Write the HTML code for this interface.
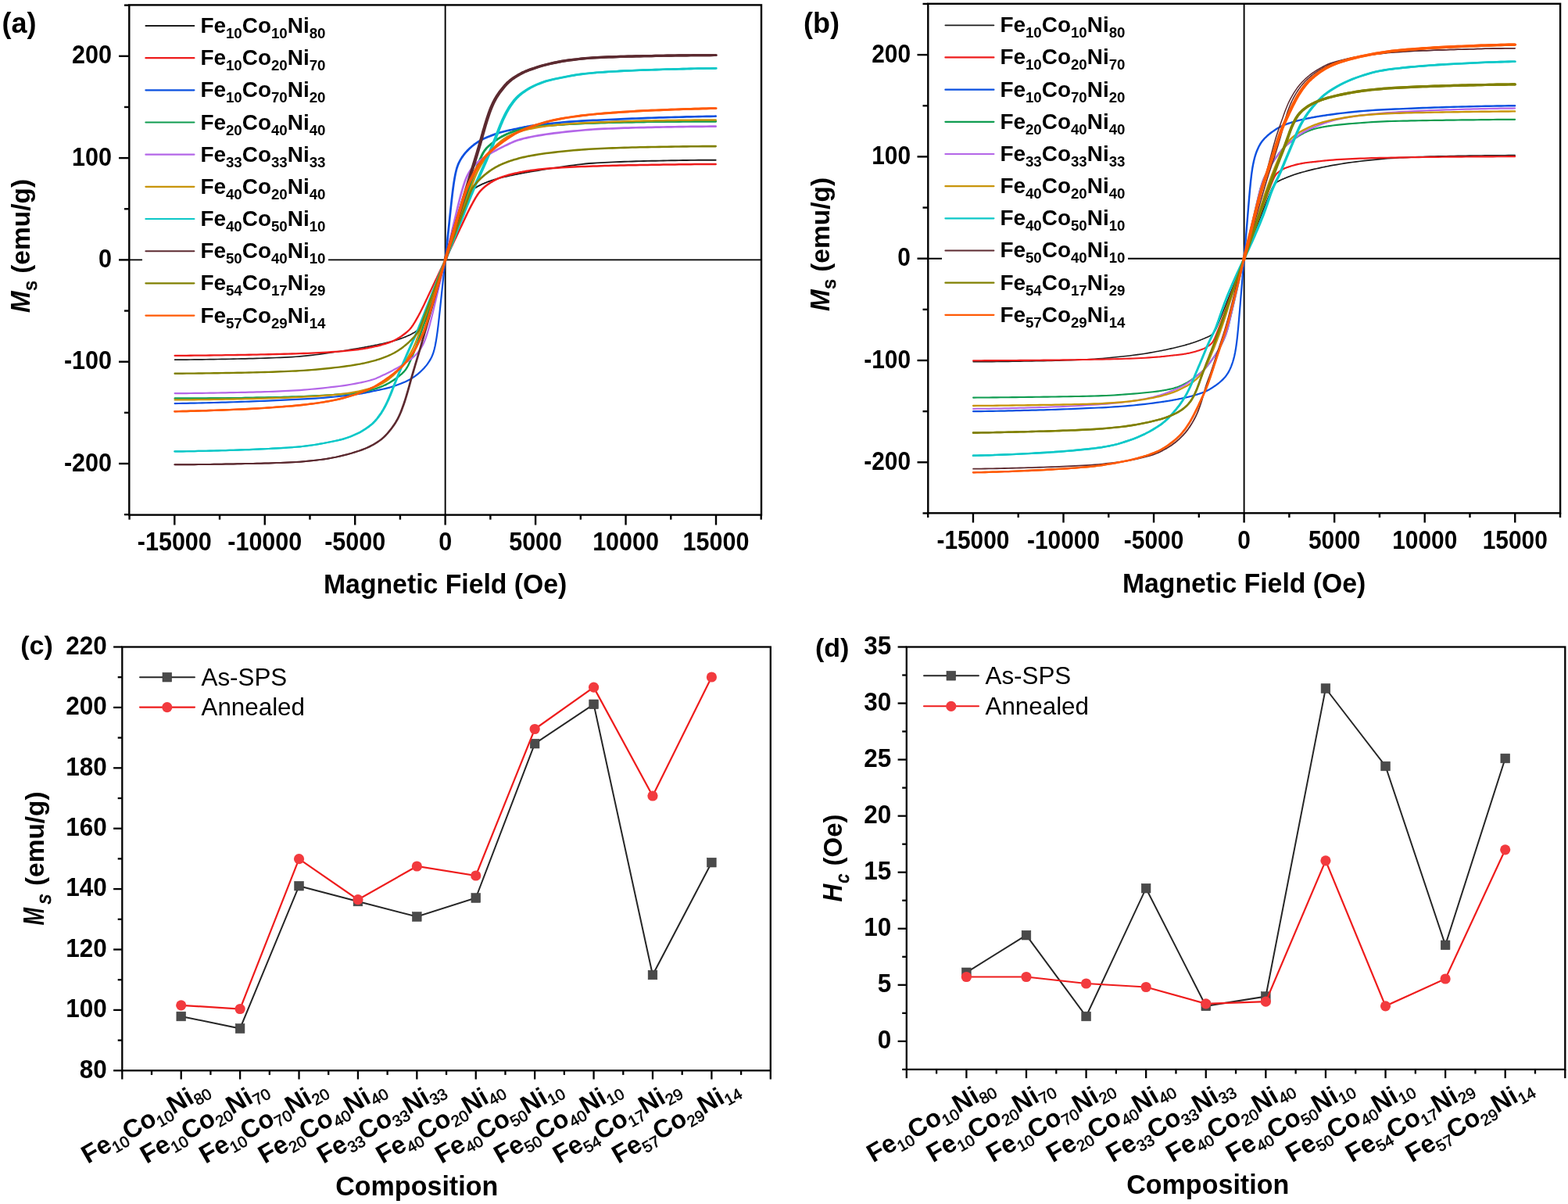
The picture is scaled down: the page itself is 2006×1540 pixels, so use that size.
<!DOCTYPE html>
<html lang="en"><head><meta charset="utf-8"><title>Magnetic properties of FeCoNi alloys</title>
<style>html,body{margin:0;padding:0;background:#fff;}body{width:2006px;height:1540px;overflow:hidden;}svg{display:block;font-family:"Liberation Sans", sans-serif;}text{fill:#000;}</style></head><body>
<svg width="2006" height="1540" viewBox="0 0 2006 1540" role="img" aria-label="Magnetic hysteresis loops, saturation magnetisation and coercivity of Fe-Co-Ni alloys">
<rect width="2006" height="1540" fill="#fff"/>
<g id="panel-a">
<line x1="569.65" y1="6.4" x2="569.65" y2="658.6" stroke="#000" stroke-width="1.9" stroke-linecap="butt"/>
<line x1="165.3" y1="332.4" x2="974" y2="332.4" stroke="#000" stroke-width="1.9" stroke-linecap="butt"/>
<g fill="none" stroke-linejoin="round" stroke-linecap="round">
<path d="M223.65,460.11 L228.65,460.09 L233.65,460.07 L238.65,460.04 L243.65,460.01 L248.65,459.96 L253.65,459.9 L258.65,459.84 L263.65,459.77 L268.65,459.69 L273.65,459.6 L278.65,459.52 L283.65,459.42 L288.65,459.33 L293.65,459.23 L298.65,459.13 L303.65,459.02 L308.65,458.92 L313.65,458.81 L318.65,458.7 L323.65,458.57 L328.65,458.43 L333.65,458.27 L338.65,458.11 L343.65,457.93 L348.65,457.73 L353.65,457.52 L358.65,457.3 L363.65,457.06 L368.65,456.81 L373.65,456.53 L378.65,456.24 L383.65,455.9 L388.65,455.46 L393.65,454.95 L398.65,454.37 L403.65,453.73 L408.65,453.05 L413.65,452.35 L418.65,451.63 L423.65,450.91 L428.65,450.2 L433.65,449.49 L438.65,448.75 L443.65,447.98 L448.65,447.18 L453.65,446.36 L458.65,445.52 L460.65,445.18 L461.65,445 L462.65,444.83 L463.65,444.65 L464.65,444.48 L465.65,444.3 L466.65,444.12 L467.65,443.94 L468.65,443.76 L469.65,443.57 L470.65,443.39 L471.65,443.2 L472.65,443.01 L473.65,442.82 L474.65,442.63 L475.65,442.43 L476.65,442.24 L477.65,442.04 L478.65,441.84 L479.65,441.64 L480.65,441.43 L481.65,441.23 L482.65,441.02 L483.65,440.81 L484.65,440.6 L485.65,440.39 L486.65,440.17 L487.65,439.96 L488.65,439.74 L489.65,439.51 L490.65,439.29 L491.65,439.06 L492.65,438.83 L493.65,438.6 L494.65,438.36 L495.65,438.12 L496.65,437.87 L497.65,437.62 L498.65,437.37 L499.65,437.11 L500.65,436.85 L501.65,436.58 L502.65,436.31 L503.65,436.03 L504.65,435.74 L505.65,435.44 L506.65,435.14 L507.65,434.83 L508.65,434.51 L509.65,434.19 L510.65,433.86 L511.65,433.52 L512.65,433.17 L513.65,432.81 L514.65,432.44 L515.65,432.07 L516.65,431.68 L517.65,431.28 L518.65,430.87 L519.65,430.45 L520.65,430.02 L521.65,429.58 L522.65,429.12 L523.65,428.65 L524.65,428.17 L525.65,427.67 L526.65,427.15 L527.65,426.61 L528.65,426.05 L529.65,425.47 L530.65,424.86 L531.65,424.22 L532.65,423.56 L533.65,422.89 L534.65,422.22 L535.65,421.53 L536.65,420.82 L537.65,420.04 L538.65,419.15 L539.65,418.12 L540.65,416.89 L541.65,415.44 L542.65,413.72 L543.65,411.74 L544.65,409.49 L545.65,406.99 L546.65,404.28 L547.65,401.4 L548.65,398.42 L549.65,395.39 L550.65,392.32 L551.65,389.23 L552.65,386.11 L553.65,382.97 L554.65,379.81 L555.65,376.63 L556.65,373.44 L557.65,370.26 L558.65,367.08 L559.65,363.92 L560.65,360.76 L561.65,357.6 L562.65,354.45 L563.65,351.3 L564.65,348.15 L565.65,345 L566.65,341.85 L567.65,338.7 L568.65,335.55 L569.65,332.4" stroke="#1c1c1c" stroke-width="1.7"/>
<path d="M569.65,332.4 L570.65,329.25 L571.65,326.1 L572.65,322.95 L573.65,319.8 L574.65,316.65 L575.65,313.5 L576.65,310.35 L577.65,307.2 L578.65,304.04 L579.65,300.88 L580.65,297.72 L581.65,294.54 L582.65,291.36 L583.65,288.17 L584.65,284.99 L585.65,281.83 L586.65,278.69 L587.65,275.57 L588.65,272.48 L589.65,269.41 L590.65,266.38 L591.65,263.4 L592.65,260.52 L593.65,257.81 L594.65,255.31 L595.65,253.06 L596.65,251.08 L597.65,249.36 L598.65,247.91 L599.65,246.68 L600.65,245.65 L601.65,244.76 L602.65,243.98 L603.65,243.27 L604.65,242.58 L605.65,241.91 L606.65,241.24 L607.65,240.58 L608.65,239.94 L609.65,239.33 L610.65,238.75 L611.65,238.19 L612.65,237.65 L613.65,237.13 L614.65,236.63 L615.65,236.15 L616.65,235.68 L617.65,235.22 L618.65,234.78 L619.65,234.35 L620.65,233.93 L621.65,233.52 L622.65,233.12 L623.65,232.73 L624.65,232.36 L625.65,231.99 L626.65,231.63 L627.65,231.28 L628.65,230.94 L629.65,230.61 L630.65,230.29 L631.65,229.97 L632.65,229.66 L633.65,229.36 L634.65,229.06 L635.65,228.77 L636.65,228.49 L637.65,228.22 L638.65,227.95 L639.65,227.69 L640.65,227.43 L641.65,227.18 L642.65,226.93 L643.65,226.68 L644.65,226.44 L645.65,226.2 L646.65,225.97 L647.65,225.74 L648.65,225.51 L649.65,225.29 L650.65,225.06 L651.65,224.84 L652.65,224.63 L653.65,224.41 L654.65,224.2 L655.65,223.99 L656.65,223.78 L657.65,223.57 L658.65,223.37 L659.65,223.16 L660.65,222.96 L661.65,222.76 L662.65,222.56 L663.65,222.37 L664.65,222.17 L665.65,221.98 L666.65,221.79 L667.65,221.6 L668.65,221.41 L669.65,221.23 L670.65,221.04 L671.65,220.86 L672.65,220.68 L673.65,220.5 L674.65,220.32 L675.65,220.15 L676.65,219.97 L677.65,219.8 L678.65,219.62 L683.65,218.77 L688.65,217.94 L693.65,217.14 L698.65,216.36 L703.65,215.6 L708.65,214.88 L713.65,214.18 L718.65,213.46 L723.65,212.74 L728.65,212.03 L733.65,211.34 L738.65,210.68 L743.65,210.08 L748.65,209.53 L753.65,209.07 L758.65,208.69 L763.65,208.38 L768.65,208.1 L773.65,207.84 L778.65,207.59 L783.65,207.36 L788.65,207.15 L793.65,206.95 L798.65,206.76 L803.65,206.59 L808.65,206.43 L813.65,206.29 L818.65,206.16 L823.65,206.03 L828.65,205.92 L833.65,205.82 L838.65,205.71 L843.65,205.61 L848.65,205.51 L853.65,205.41 L858.65,205.32 L863.65,205.23 L868.65,205.14 L873.65,205.06 L878.65,204.99 L883.65,204.92 L888.65,204.86 L893.65,204.81 L898.65,204.77 L903.65,204.74 L908.65,204.71 L913.65,204.7 L915.65,204.69" stroke="#1c1c1c" stroke-width="1.9"/>
<path d="M223.65,454.9 L228.65,454.87 L233.65,454.83 L238.65,454.8 L243.65,454.75 L248.65,454.71 L253.65,454.66 L258.65,454.6 L263.65,454.54 L268.65,454.48 L273.65,454.42 L278.65,454.35 L283.65,454.29 L288.65,454.22 L293.65,454.14 L298.65,454.07 L303.65,453.99 L308.65,453.92 L313.65,453.84 L318.65,453.75 L323.65,453.66 L328.65,453.57 L333.65,453.47 L338.65,453.37 L343.65,453.26 L348.65,453.14 L353.65,453.02 L358.65,452.9 L363.65,452.76 L368.65,452.62 L373.65,452.48 L378.65,452.32 L383.65,452.16 L388.65,451.98 L393.65,451.79 L398.65,451.58 L403.65,451.35 L408.65,451.11 L413.65,450.85 L418.65,450.57 L423.65,450.27 L428.65,449.94 L433.65,449.59 L438.65,449.18 L443.65,448.71 L448.65,448.19 L453.65,447.61 L458.65,446.99 L460.65,446.72 L461.65,446.58 L462.65,446.43 L463.65,446.28 L464.65,446.12 L465.65,445.96 L466.65,445.79 L467.65,445.62 L468.65,445.44 L469.65,445.26 L470.65,445.08 L471.65,444.89 L472.65,444.69 L473.65,444.49 L474.65,444.29 L475.65,444.09 L476.65,443.88 L477.65,443.66 L478.65,443.45 L479.65,443.23 L480.65,443 L481.65,442.77 L482.65,442.54 L483.65,442.3 L484.65,442.05 L485.65,441.8 L486.65,441.54 L487.65,441.28 L488.65,441.01 L489.65,440.73 L490.65,440.44 L491.65,440.15 L492.65,439.85 L493.65,439.54 L494.65,439.22 L495.65,438.89 L496.65,438.55 L497.65,438.2 L498.65,437.83 L499.65,437.45 L500.65,437.05 L501.65,436.63 L502.65,436.18 L503.65,435.71 L504.65,435.22 L505.65,434.71 L506.65,434.18 L507.65,433.64 L508.65,433.07 L509.65,432.49 L510.65,431.89 L511.65,431.26 L512.65,430.62 L513.65,429.94 L514.65,429.25 L515.65,428.53 L516.65,427.78 L517.65,427.02 L518.65,426.23 L519.65,425.41 L520.65,424.57 L521.65,423.68 L522.65,422.75 L523.65,421.74 L524.65,420.66 L525.65,419.48 L526.65,418.19 L527.65,416.79 L528.65,415.3 L529.65,413.74 L530.65,412.1 L531.65,410.41 L532.65,408.66 L533.65,406.88 L534.65,405.07 L535.65,403.23 L536.65,401.38 L537.65,399.49 L538.65,397.57 L539.65,395.6 L540.65,393.59 L541.65,391.52 L542.65,389.41 L543.65,387.28 L544.65,385.15 L545.65,383.02 L546.65,380.9 L547.65,378.79 L548.65,376.68 L549.65,374.58 L550.65,372.47 L551.65,370.37 L552.65,368.27 L553.65,366.17 L554.65,364.06 L555.65,361.95 L556.65,359.84 L557.65,357.74 L558.65,355.63 L559.65,353.52 L560.65,351.41 L561.65,349.3 L562.65,347.19 L563.65,345.08 L564.65,342.96 L565.65,340.85 L566.65,338.74 L567.65,336.63 L568.65,334.51 L569.65,332.4" stroke="#ee1c1c" stroke-width="2.3"/>
<path d="M569.65,332.4 L570.65,330.29 L571.65,328.17 L572.65,326.06 L573.65,323.95 L574.65,321.84 L575.65,319.72 L576.65,317.61 L577.65,315.5 L578.65,313.39 L579.65,311.28 L580.65,309.17 L581.65,307.06 L582.65,304.96 L583.65,302.85 L584.65,300.74 L585.65,298.63 L586.65,296.53 L587.65,294.43 L588.65,292.33 L589.65,290.22 L590.65,288.12 L591.65,286.01 L592.65,283.9 L593.65,281.78 L594.65,279.65 L595.65,277.52 L596.65,275.39 L597.65,273.28 L598.65,271.21 L599.65,269.2 L600.65,267.23 L601.65,265.31 L602.65,263.42 L603.65,261.57 L604.65,259.73 L605.65,257.92 L606.65,256.14 L607.65,254.39 L608.65,252.7 L609.65,251.06 L610.65,249.5 L611.65,248.01 L612.65,246.61 L613.65,245.32 L614.65,244.14 L615.65,243.06 L616.65,242.05 L617.65,241.12 L618.65,240.23 L619.65,239.39 L620.65,238.57 L621.65,237.78 L622.65,237.02 L623.65,236.27 L624.65,235.55 L625.65,234.86 L626.65,234.18 L627.65,233.54 L628.65,232.91 L629.65,232.31 L630.65,231.73 L631.65,231.16 L632.65,230.62 L633.65,230.09 L634.65,229.58 L635.65,229.09 L636.65,228.62 L637.65,228.17 L638.65,227.75 L639.65,227.35 L640.65,226.97 L641.65,226.6 L642.65,226.25 L643.65,225.91 L644.65,225.58 L645.65,225.26 L646.65,224.95 L647.65,224.65 L648.65,224.36 L649.65,224.07 L650.65,223.79 L651.65,223.52 L652.65,223.26 L653.65,223 L654.65,222.75 L655.65,222.5 L656.65,222.26 L657.65,222.03 L658.65,221.8 L659.65,221.57 L660.65,221.35 L661.65,221.14 L662.65,220.92 L663.65,220.71 L664.65,220.51 L665.65,220.31 L666.65,220.11 L667.65,219.91 L668.65,219.72 L669.65,219.54 L670.65,219.36 L671.65,219.18 L672.65,219.01 L673.65,218.84 L674.65,218.68 L675.65,218.52 L676.65,218.37 L677.65,218.22 L678.65,218.08 L683.65,217.43 L688.65,216.84 L693.65,216.3 L698.65,215.81 L703.65,215.37 L708.65,214.99 L713.65,214.66 L718.65,214.35 L723.65,214.06 L728.65,213.79 L733.65,213.54 L738.65,213.31 L743.65,213.1 L748.65,212.9 L753.65,212.71 L758.65,212.54 L763.65,212.39 L768.65,212.24 L773.65,212.09 L778.65,211.96 L783.65,211.83 L788.65,211.7 L793.65,211.59 L798.65,211.47 L803.65,211.37 L808.65,211.27 L813.65,211.17 L818.65,211.08 L823.65,211 L828.65,210.92 L833.65,210.84 L838.65,210.76 L843.65,210.69 L848.65,210.61 L853.65,210.54 L858.65,210.47 L863.65,210.41 L868.65,210.34 L873.65,210.28 L878.65,210.22 L883.65,210.16 L888.65,210.11 L893.65,210.06 L898.65,210.02 L903.65,209.98 L908.65,209.94 L913.65,209.91 L915.65,209.9" stroke="#ee1c1c" stroke-width="2.5"/>
<path d="M223.65,516.1 L228.65,516.01 L233.65,515.92 L238.65,515.83 L243.65,515.72 L248.65,515.61 L253.65,515.5 L258.65,515.38 L263.65,515.25 L268.65,515.12 L273.65,514.99 L278.65,514.85 L283.65,514.7 L288.65,514.55 L293.65,514.4 L298.65,514.25 L303.65,514.09 L308.65,513.93 L313.65,513.77 L318.65,513.59 L323.65,513.4 L328.65,513.2 L333.65,513 L338.65,512.78 L343.65,512.56 L348.65,512.34 L353.65,512.11 L358.65,511.88 L363.65,511.64 L368.65,511.41 L373.65,511.17 L378.65,510.93 L383.65,510.7 L388.65,510.47 L393.65,510.22 L398.65,509.94 L403.65,509.62 L408.65,509.27 L413.65,508.87 L418.65,508.46 L423.65,508.01 L428.65,507.53 L433.65,507.02 L438.65,506.48 L443.65,505.92 L448.65,505.34 L453.65,504.71 L458.65,504 L460.65,503.68 L461.65,503.52 L462.65,503.34 L463.65,503.16 L464.65,502.98 L465.65,502.78 L466.65,502.59 L467.65,502.39 L468.65,502.18 L469.65,501.98 L470.65,501.77 L471.65,501.56 L472.65,501.34 L473.65,501.13 L474.65,500.91 L475.65,500.7 L476.65,500.48 L477.65,500.27 L478.65,500.05 L479.65,499.84 L480.65,499.63 L481.65,499.42 L482.65,499.21 L483.65,499.01 L484.65,498.8 L485.65,498.6 L486.65,498.39 L487.65,498.18 L488.65,497.97 L489.65,497.75 L490.65,497.53 L491.65,497.31 L492.65,497.08 L493.65,496.85 L494.65,496.61 L495.65,496.36 L496.65,496.11 L497.65,495.85 L498.65,495.57 L499.65,495.29 L500.65,494.99 L501.65,494.67 L502.65,494.34 L503.65,494 L504.65,493.64 L505.65,493.28 L506.65,492.91 L507.65,492.54 L508.65,492.16 L509.65,491.79 L510.65,491.42 L511.65,491.04 L512.65,490.66 L513.65,490.28 L514.65,489.89 L515.65,489.49 L516.65,489.07 L517.65,488.64 L518.65,488.19 L519.65,487.73 L520.65,487.24 L521.65,486.74 L522.65,486.22 L523.65,485.68 L524.65,485.12 L525.65,484.53 L526.65,483.93 L527.65,483.31 L528.65,482.67 L529.65,482 L530.65,481.32 L531.65,480.6 L532.65,479.86 L533.65,479.09 L534.65,478.29 L535.65,477.45 L536.65,476.59 L537.65,475.69 L538.65,474.77 L539.65,473.8 L540.65,472.81 L541.65,471.77 L542.65,470.69 L543.65,469.56 L544.65,468.38 L545.65,467.13 L546.65,465.82 L547.65,464.43 L548.65,462.95 L549.65,461.36 L550.65,459.65 L551.65,457.78 L552.65,455.67 L553.65,453.22 L554.65,450.32 L555.65,446.8 L556.65,442.5 L557.65,437.31 L558.65,431.17 L559.65,424.06 L560.65,416.08 L561.65,407.37 L562.65,398.17 L563.65,388.7 L564.65,379.18 L565.65,369.71 L566.65,360.32 L567.65,350.99 L568.65,341.69 L569.65,332.4" stroke="#0a50e0" stroke-width="2.2"/>
<path d="M569.65,332.4 L570.65,323.11 L571.65,313.81 L572.65,304.48 L573.65,295.09 L574.65,285.62 L575.65,276.1 L576.65,266.63 L577.65,257.43 L578.65,248.72 L579.65,240.74 L580.65,233.63 L581.65,227.49 L582.65,222.3 L583.65,218 L584.65,214.48 L585.65,211.58 L586.65,209.13 L587.65,207.02 L588.65,205.15 L589.65,203.44 L590.65,201.85 L591.65,200.37 L592.65,198.98 L593.65,197.67 L594.65,196.42 L595.65,195.24 L596.65,194.11 L597.65,193.03 L598.65,191.99 L599.65,191 L600.65,190.03 L601.65,189.11 L602.65,188.21 L603.65,187.35 L604.65,186.51 L605.65,185.71 L606.65,184.94 L607.65,184.2 L608.65,183.48 L609.65,182.8 L610.65,182.13 L611.65,181.49 L612.65,180.87 L613.65,180.27 L614.65,179.68 L615.65,179.12 L616.65,178.58 L617.65,178.06 L618.65,177.56 L619.65,177.07 L620.65,176.61 L621.65,176.16 L622.65,175.73 L623.65,175.31 L624.65,174.91 L625.65,174.52 L626.65,174.14 L627.65,173.76 L628.65,173.38 L629.65,173.01 L630.65,172.64 L631.65,172.26 L632.65,171.89 L633.65,171.52 L634.65,171.16 L635.65,170.8 L636.65,170.46 L637.65,170.13 L638.65,169.81 L639.65,169.51 L640.65,169.23 L641.65,168.95 L642.65,168.69 L643.65,168.44 L644.65,168.19 L645.65,167.95 L646.65,167.72 L647.65,167.49 L648.65,167.27 L649.65,167.05 L650.65,166.83 L651.65,166.62 L652.65,166.41 L653.65,166.2 L654.65,166 L655.65,165.79 L656.65,165.59 L657.65,165.38 L658.65,165.17 L659.65,164.96 L660.65,164.75 L661.65,164.53 L662.65,164.32 L663.65,164.1 L664.65,163.89 L665.65,163.67 L666.65,163.46 L667.65,163.24 L668.65,163.03 L669.65,162.82 L670.65,162.62 L671.65,162.41 L672.65,162.21 L673.65,162.02 L674.65,161.82 L675.65,161.64 L676.65,161.46 L677.65,161.28 L678.65,161.12 L683.65,160.36 L688.65,159.71 L693.65,159.11 L698.65,158.54 L703.65,158 L708.65,157.47 L713.65,156.98 L718.65,156.52 L723.65,156.09 L728.65,155.69 L733.65,155.32 L738.65,154.98 L743.65,154.69 L748.65,154.43 L753.65,154.19 L758.65,153.96 L763.65,153.73 L768.65,153.49 L773.65,153.25 L778.65,153.02 L783.65,152.78 L788.65,152.55 L793.65,152.32 L798.65,152.1 L803.65,151.89 L808.65,151.68 L813.65,151.48 L818.65,151.28 L823.65,151.1 L828.65,150.93 L833.65,150.77 L838.65,150.61 L843.65,150.46 L848.65,150.31 L853.65,150.16 L858.65,150.01 L863.65,149.87 L868.65,149.73 L873.65,149.6 L878.65,149.47 L883.65,149.35 L888.65,149.23 L893.65,149.12 L898.65,149.02 L903.65,148.92 L908.65,148.82 L913.65,148.74 L915.65,148.7" stroke="#0a50e0" stroke-width="2.7"/>
<path d="M223.47,509.6 L228.47,509.59 L233.47,509.58 L238.47,509.56 L243.47,509.54 L248.47,509.51 L253.47,509.48 L258.47,509.44 L263.47,509.4 L268.47,509.35 L273.47,509.3 L278.47,509.25 L283.47,509.2 L288.47,509.15 L293.47,509.09 L298.47,509.03 L303.47,508.97 L308.47,508.91 L313.47,508.85 L318.47,508.78 L323.47,508.71 L328.47,508.62 L333.47,508.53 L338.47,508.44 L343.47,508.34 L348.47,508.23 L353.47,508.11 L358.47,507.99 L363.47,507.85 L368.47,507.72 L373.47,507.57 L378.47,507.42 L383.47,507.25 L388.47,507.06 L393.47,506.83 L398.47,506.59 L403.47,506.33 L408.47,506.04 L413.47,505.75 L418.47,505.44 L423.47,505.13 L428.47,504.82 L433.47,504.49 L438.47,504.13 L443.47,503.73 L448.47,503.28 L453.47,502.77 L458.47,502.18 L460.47,501.9 L461.47,501.75 L462.47,501.58 L463.47,501.4 L464.47,501.21 L465.47,501 L466.47,500.79 L467.47,500.57 L468.47,500.34 L469.47,500.1 L470.47,499.85 L471.47,499.6 L472.47,499.34 L473.47,499.07 L474.47,498.8 L475.47,498.53 L476.47,498.25 L477.47,497.97 L478.47,497.69 L479.47,497.4 L480.47,497.1 L481.47,496.79 L482.47,496.47 L483.47,496.13 L484.47,495.78 L485.47,495.41 L486.47,495.04 L487.47,494.64 L488.47,494.24 L489.47,493.82 L490.47,493.38 L491.47,492.93 L492.47,492.47 L493.47,491.99 L494.47,491.49 L495.47,490.98 L496.47,490.45 L497.47,489.89 L498.47,489.32 L499.47,488.72 L500.47,488.1 L501.47,487.46 L502.47,486.8 L503.47,486.12 L504.47,485.41 L505.47,484.69 L506.47,483.94 L507.47,483.17 L508.47,482.4 L509.47,481.62 L510.47,480.84 L511.47,480.06 L512.47,479.25 L513.47,478.41 L514.47,477.51 L515.47,476.55 L516.47,475.51 L517.47,474.38 L518.47,473.13 L519.47,471.73 L520.47,470.15 L521.47,468.38 L522.47,466.43 L523.47,464.35 L524.47,462.17 L525.47,459.92 L526.47,457.61 L527.47,455.23 L528.47,452.79 L529.47,450.28 L530.47,447.71 L531.47,445.06 L532.47,442.35 L533.47,439.59 L534.47,436.78 L535.47,433.94 L536.47,431.07 L537.47,428.19 L538.47,425.29 L539.47,422.38 L540.47,419.47 L541.47,416.53 L542.47,413.58 L543.47,410.61 L544.47,407.62 L545.47,404.62 L546.47,401.6 L547.47,398.58 L548.47,395.55 L549.47,392.52 L550.47,389.49 L551.47,386.46 L552.47,383.44 L553.47,380.42 L554.47,377.41 L555.47,374.4 L556.47,371.4 L557.47,368.4 L558.47,365.4 L559.47,362.4 L560.47,359.4 L561.47,356.4 L562.47,353.4 L563.47,350.4 L564.47,347.4 L565.47,344.4 L566.47,341.4 L567.47,338.4 L568.47,335.4 L569.47,332.4" stroke="#0f9c50" stroke-width="2.0"/>
<path d="M569.35,332.4 L570.35,329.4 L571.35,326.4 L572.35,323.4 L573.35,320.4 L574.35,317.4 L575.35,314.4 L576.35,311.4 L577.35,308.4 L578.35,305.4 L579.35,302.4 L580.35,299.4 L581.35,296.4 L582.35,293.4 L583.35,290.4 L584.35,287.39 L585.35,284.38 L586.35,281.36 L587.35,278.34 L588.35,275.31 L589.35,272.28 L590.35,269.25 L591.35,266.22 L592.35,263.2 L593.35,260.18 L594.35,257.18 L595.35,254.19 L596.35,251.22 L597.35,248.27 L598.35,245.33 L599.35,242.42 L600.35,239.51 L601.35,236.61 L602.35,233.73 L603.35,230.86 L604.35,228.02 L605.35,225.21 L606.35,222.45 L607.35,219.74 L608.35,217.09 L609.35,214.52 L610.35,212.01 L611.35,209.57 L612.35,207.19 L613.35,204.88 L614.35,202.63 L615.35,200.45 L616.35,198.37 L617.35,196.42 L618.35,194.65 L619.35,193.07 L620.35,191.67 L621.35,190.42 L622.35,189.29 L623.35,188.25 L624.35,187.29 L625.35,186.39 L626.35,185.55 L627.35,184.74 L628.35,183.96 L629.35,183.18 L630.35,182.4 L631.35,181.63 L632.35,180.86 L633.35,180.11 L634.35,179.39 L635.35,178.68 L636.35,178 L637.35,177.34 L638.35,176.7 L639.35,176.08 L640.35,175.48 L641.35,174.91 L642.35,174.35 L643.35,173.82 L644.35,173.31 L645.35,172.81 L646.35,172.33 L647.35,171.87 L648.35,171.42 L649.35,170.98 L650.35,170.56 L651.35,170.16 L652.35,169.76 L653.35,169.39 L654.35,169.02 L655.35,168.67 L656.35,168.33 L657.35,168.01 L658.35,167.7 L659.35,167.4 L660.35,167.11 L661.35,166.83 L662.35,166.55 L663.35,166.27 L664.35,166 L665.35,165.73 L666.35,165.46 L667.35,165.2 L668.35,164.95 L669.35,164.7 L670.35,164.46 L671.35,164.23 L672.35,164.01 L673.35,163.8 L674.35,163.59 L675.35,163.4 L676.35,163.22 L677.35,163.05 L678.35,162.9 L683.35,162.25 L688.35,161.71 L693.35,161.24 L698.35,160.82 L703.35,160.45 L708.35,160.11 L713.35,159.79 L718.35,159.48 L723.35,159.17 L728.35,158.87 L733.35,158.59 L738.35,158.31 L743.35,158.06 L748.35,157.83 L753.35,157.62 L758.35,157.44 L763.35,157.29 L768.35,157.14 L773.35,157 L778.35,156.87 L783.35,156.74 L788.35,156.62 L793.35,156.51 L798.35,156.4 L803.35,156.3 L808.35,156.21 L813.35,156.13 L818.35,156.05 L823.35,155.98 L828.35,155.91 L833.35,155.85 L838.35,155.79 L843.35,155.73 L848.35,155.68 L853.35,155.62 L858.35,155.57 L863.35,155.52 L868.35,155.47 L873.35,155.42 L878.35,155.38 L883.35,155.34 L888.35,155.3 L893.35,155.27 L898.35,155.25 L903.35,155.23 L908.35,155.21 L913.35,155.2 L915.35,155.2" stroke="#0f9c50" stroke-width="2.4"/>
<path d="M223.83,509.6 L228.83,509.59 L233.83,509.58 L238.83,509.56 L243.83,509.54 L248.83,509.51 L253.83,509.48 L258.83,509.44 L263.83,509.4 L268.83,509.35 L273.83,509.3 L278.83,509.25 L283.83,509.2 L288.83,509.15 L293.83,509.09 L298.83,509.03 L303.83,508.97 L308.83,508.91 L313.83,508.85 L318.83,508.78 L323.83,508.71 L328.83,508.62 L333.83,508.53 L338.83,508.44 L343.83,508.34 L348.83,508.23 L353.83,508.11 L358.83,507.99 L363.83,507.85 L368.83,507.72 L373.83,507.57 L378.83,507.42 L383.83,507.25 L388.83,507.06 L393.83,506.83 L398.83,506.59 L403.83,506.33 L408.83,506.04 L413.83,505.75 L418.83,505.44 L423.83,505.13 L428.83,504.82 L433.83,504.49 L438.83,504.13 L443.83,503.73 L448.83,503.28 L453.83,502.77 L458.83,502.18 L460.83,501.9 L461.83,501.75 L462.83,501.58 L463.83,501.4 L464.83,501.21 L465.83,501 L466.83,500.79 L467.83,500.57 L468.83,500.34 L469.83,500.1 L470.83,499.85 L471.83,499.6 L472.83,499.34 L473.83,499.07 L474.83,498.8 L475.83,498.53 L476.83,498.25 L477.83,497.97 L478.83,497.69 L479.83,497.4 L480.83,497.1 L481.83,496.79 L482.83,496.47 L483.83,496.13 L484.83,495.78 L485.83,495.41 L486.83,495.04 L487.83,494.64 L488.83,494.24 L489.83,493.82 L490.83,493.38 L491.83,492.93 L492.83,492.47 L493.83,491.99 L494.83,491.49 L495.83,490.98 L496.83,490.45 L497.83,489.89 L498.83,489.32 L499.83,488.72 L500.83,488.1 L501.83,487.46 L502.83,486.8 L503.83,486.12 L504.83,485.41 L505.83,484.69 L506.83,483.94 L507.83,483.17 L508.83,482.4 L509.83,481.62 L510.83,480.84 L511.83,480.06 L512.83,479.25 L513.83,478.41 L514.83,477.51 L515.83,476.55 L516.83,475.51 L517.83,474.38 L518.83,473.13 L519.83,471.73 L520.83,470.15 L521.83,468.38 L522.83,466.43 L523.83,464.35 L524.83,462.17 L525.83,459.92 L526.83,457.61 L527.83,455.23 L528.83,452.79 L529.83,450.28 L530.83,447.71 L531.83,445.06 L532.83,442.35 L533.83,439.59 L534.83,436.78 L535.83,433.94 L536.83,431.07 L537.83,428.19 L538.83,425.29 L539.83,422.38 L540.83,419.47 L541.83,416.53 L542.83,413.58 L543.83,410.61 L544.83,407.62 L545.83,404.62 L546.83,401.6 L547.83,398.58 L548.83,395.55 L549.83,392.52 L550.83,389.49 L551.83,386.46 L552.83,383.44 L553.83,380.42 L554.83,377.41 L555.83,374.4 L556.83,371.4 L557.83,368.4 L558.83,365.4 L559.83,362.4 L560.83,359.4 L561.83,356.4 L562.83,353.4 L563.83,350.4 L564.83,347.4 L565.83,344.4 L566.83,341.4 L567.83,338.4 L568.83,335.4 L569.83,332.4" stroke="#0f9c50" stroke-width="2.0"/>
<path d="M569.95,332.4 L570.95,329.4 L571.95,326.4 L572.95,323.4 L573.95,320.4 L574.95,317.4 L575.95,314.4 L576.95,311.4 L577.95,308.4 L578.95,305.4 L579.95,302.4 L580.95,299.4 L581.95,296.4 L582.95,293.4 L583.95,290.4 L584.95,287.39 L585.95,284.38 L586.95,281.36 L587.95,278.34 L588.95,275.31 L589.95,272.28 L590.95,269.25 L591.95,266.22 L592.95,263.2 L593.95,260.18 L594.95,257.18 L595.95,254.19 L596.95,251.22 L597.95,248.27 L598.95,245.33 L599.95,242.42 L600.95,239.51 L601.95,236.61 L602.95,233.73 L603.95,230.86 L604.95,228.02 L605.95,225.21 L606.95,222.45 L607.95,219.74 L608.95,217.09 L609.95,214.52 L610.95,212.01 L611.95,209.57 L612.95,207.19 L613.95,204.88 L614.95,202.63 L615.95,200.45 L616.95,198.37 L617.95,196.42 L618.95,194.65 L619.95,193.07 L620.95,191.67 L621.95,190.42 L622.95,189.29 L623.95,188.25 L624.95,187.29 L625.95,186.39 L626.95,185.55 L627.95,184.74 L628.95,183.96 L629.95,183.18 L630.95,182.4 L631.95,181.63 L632.95,180.86 L633.95,180.11 L634.95,179.39 L635.95,178.68 L636.95,178 L637.95,177.34 L638.95,176.7 L639.95,176.08 L640.95,175.48 L641.95,174.91 L642.95,174.35 L643.95,173.82 L644.95,173.31 L645.95,172.81 L646.95,172.33 L647.95,171.87 L648.95,171.42 L649.95,170.98 L650.95,170.56 L651.95,170.16 L652.95,169.76 L653.95,169.39 L654.95,169.02 L655.95,168.67 L656.95,168.33 L657.95,168.01 L658.95,167.7 L659.95,167.4 L660.95,167.11 L661.95,166.83 L662.95,166.55 L663.95,166.27 L664.95,166 L665.95,165.73 L666.95,165.46 L667.95,165.2 L668.95,164.95 L669.95,164.7 L670.95,164.46 L671.95,164.23 L672.95,164.01 L673.95,163.8 L674.95,163.59 L675.95,163.4 L676.95,163.22 L677.95,163.05 L678.95,162.9 L683.95,162.25 L688.95,161.71 L693.95,161.24 L698.95,160.82 L703.95,160.45 L708.95,160.11 L713.95,159.79 L718.95,159.48 L723.95,159.17 L728.95,158.87 L733.95,158.59 L738.95,158.31 L743.95,158.06 L748.95,157.83 L753.95,157.62 L758.95,157.44 L763.95,157.29 L768.95,157.14 L773.95,157 L778.95,156.87 L783.95,156.74 L788.95,156.62 L793.95,156.51 L798.95,156.4 L803.95,156.3 L808.95,156.21 L813.95,156.13 L818.95,156.05 L823.95,155.98 L828.95,155.91 L833.95,155.85 L838.95,155.79 L843.95,155.73 L848.95,155.68 L853.95,155.62 L858.95,155.57 L863.95,155.52 L868.95,155.47 L873.95,155.42 L878.95,155.38 L883.95,155.34 L888.95,155.3 L893.95,155.27 L898.95,155.25 L903.95,155.23 L908.95,155.21 L913.95,155.2 L915.95,155.2" stroke="#0f9c50" stroke-width="2.4"/>
<path d="M223.65,503.11 L228.65,503.08 L233.65,503.06 L238.65,503.03 L243.65,502.99 L248.65,502.94 L253.65,502.88 L258.65,502.81 L263.65,502.74 L268.65,502.67 L273.65,502.59 L278.65,502.5 L283.65,502.41 L288.65,502.32 L293.65,502.22 L298.65,502.12 L303.65,502.02 L308.65,501.92 L313.65,501.82 L318.65,501.7 L323.65,501.58 L328.65,501.44 L333.65,501.3 L338.65,501.14 L343.65,500.98 L348.65,500.8 L353.65,500.6 L358.65,500.4 L363.65,500.18 L368.65,499.95 L373.65,499.7 L378.65,499.44 L383.65,499.11 L388.65,498.7 L393.65,498.24 L398.65,497.77 L403.65,497.3 L408.65,496.82 L413.65,496.31 L418.65,495.78 L423.65,495.21 L428.65,494.62 L433.65,493.98 L438.65,493.3 L443.65,492.56 L448.65,491.76 L453.65,490.89 L458.65,489.94 L460.65,489.53 L461.65,489.32 L462.65,489.11 L463.65,488.89 L464.65,488.67 L465.65,488.45 L466.65,488.22 L467.65,487.99 L468.65,487.74 L469.65,487.5 L470.65,487.24 L471.65,486.98 L472.65,486.72 L473.65,486.44 L474.65,486.15 L475.65,485.86 L476.65,485.55 L477.65,485.24 L478.65,484.9 L479.65,484.55 L480.65,484.17 L481.65,483.76 L482.65,483.33 L483.65,482.87 L484.65,482.41 L485.65,481.94 L486.65,481.48 L487.65,481.01 L488.65,480.55 L489.65,480.08 L490.65,479.61 L491.65,479.14 L492.65,478.66 L493.65,478.18 L494.65,477.7 L495.65,477.21 L496.65,476.71 L497.65,476.21 L498.65,475.7 L499.65,475.19 L500.65,474.67 L501.65,474.15 L502.65,473.62 L503.65,473.08 L504.65,472.55 L505.65,472.02 L506.65,471.49 L507.65,470.95 L508.65,470.42 L509.65,469.88 L510.65,469.32 L511.65,468.74 L512.65,468.14 L513.65,467.51 L514.65,466.85 L515.65,466.18 L516.65,465.5 L517.65,464.8 L518.65,464.11 L519.65,463.41 L520.65,462.73 L521.65,462.04 L522.65,461.36 L523.65,460.68 L524.65,459.98 L525.65,459.25 L526.65,458.5 L527.65,457.72 L528.65,456.88 L529.65,456 L530.65,455.06 L531.65,454.07 L532.65,453.02 L533.65,451.91 L534.65,450.73 L535.65,449.48 L536.65,448.15 L537.65,446.72 L538.65,445.18 L539.65,443.51 L540.65,441.69 L541.65,439.69 L542.65,437.5 L543.65,435.07 L544.65,432.38 L545.65,429.45 L546.65,426.31 L547.65,422.97 L548.65,419.48 L549.65,415.85 L550.65,412.09 L551.65,408.21 L552.65,404.24 L553.65,400.18 L554.65,396.03 L555.65,391.84 L556.65,387.61 L557.65,383.38 L558.65,379.15 L559.65,374.91 L560.65,370.68 L561.65,366.45 L562.65,362.21 L563.65,357.96 L564.65,353.72 L565.65,349.46 L566.65,345.2 L567.65,340.94 L568.65,336.67 L569.65,332.4" stroke="#b466e8" stroke-width="2.2"/>
<path d="M569.65,332.4 L570.65,328.13 L571.65,323.86 L572.65,319.6 L573.65,315.34 L574.65,311.08 L575.65,306.84 L576.65,302.59 L577.65,298.35 L578.65,294.12 L579.65,289.89 L580.65,285.65 L581.65,281.42 L582.65,277.19 L583.65,272.96 L584.65,268.77 L585.65,264.62 L586.65,260.56 L587.65,256.59 L588.65,252.71 L589.65,248.95 L590.65,245.32 L591.65,241.83 L592.65,238.49 L593.65,235.35 L594.65,232.42 L595.65,229.73 L596.65,227.3 L597.65,225.11 L598.65,223.11 L599.65,221.29 L600.65,219.62 L601.65,218.08 L602.65,216.65 L603.65,215.32 L604.65,214.07 L605.65,212.89 L606.65,211.78 L607.65,210.73 L608.65,209.74 L609.65,208.8 L610.65,207.92 L611.65,207.08 L612.65,206.3 L613.65,205.55 L614.65,204.82 L615.65,204.12 L616.65,203.44 L617.65,202.76 L618.65,202.07 L619.65,201.39 L620.65,200.69 L621.65,200 L622.65,199.3 L623.65,198.62 L624.65,197.95 L625.65,197.29 L626.65,196.66 L627.65,196.06 L628.65,195.48 L629.65,194.92 L630.65,194.38 L631.65,193.85 L632.65,193.31 L633.65,192.78 L634.65,192.25 L635.65,191.72 L636.65,191.18 L637.65,190.65 L638.65,190.13 L639.65,189.61 L640.65,189.1 L641.65,188.59 L642.65,188.09 L643.65,187.59 L644.65,187.1 L645.65,186.62 L646.65,186.14 L647.65,185.66 L648.65,185.19 L649.65,184.72 L650.65,184.25 L651.65,183.79 L652.65,183.32 L653.65,182.86 L654.65,182.39 L655.65,181.93 L656.65,181.47 L657.65,181.04 L658.65,180.63 L659.65,180.25 L660.65,179.9 L661.65,179.56 L662.65,179.25 L663.65,178.94 L664.65,178.65 L665.65,178.36 L666.65,178.08 L667.65,177.82 L668.65,177.56 L669.65,177.3 L670.65,177.06 L671.65,176.81 L672.65,176.58 L673.65,176.35 L674.65,176.13 L675.65,175.91 L676.65,175.69 L677.65,175.48 L678.65,175.27 L683.65,174.28 L688.65,173.38 L693.65,172.55 L698.65,171.79 L703.65,171.09 L708.65,170.43 L713.65,169.82 L718.65,169.25 L723.65,168.7 L728.65,168.18 L733.65,167.69 L738.65,167.22 L743.65,166.75 L748.65,166.28 L753.65,165.84 L758.65,165.48 L763.65,165.2 L768.65,164.95 L773.65,164.71 L778.65,164.49 L783.65,164.28 L788.65,164.08 L793.65,163.89 L798.65,163.72 L803.65,163.56 L808.65,163.41 L813.65,163.27 L818.65,163.15 L823.65,163.03 L828.65,162.92 L833.65,162.82 L838.65,162.72 L843.65,162.62 L848.65,162.52 L853.65,162.43 L858.65,162.34 L863.65,162.25 L868.65,162.17 L873.65,162.09 L878.65,162.01 L883.65,161.95 L888.65,161.89 L893.65,161.83 L898.65,161.79 L903.65,161.75 L908.65,161.72 L913.65,161.7 L915.65,161.69" stroke="#b466e8" stroke-width="2.7"/>
<path d="M223.65,511.4 L228.65,511.38 L233.65,511.36 L238.65,511.33 L243.65,511.29 L248.65,511.24 L253.65,511.19 L258.65,511.13 L263.65,511.06 L268.65,510.99 L273.65,510.92 L278.65,510.84 L283.65,510.76 L288.65,510.68 L293.65,510.59 L298.65,510.5 L303.65,510.41 L308.65,510.32 L313.65,510.22 L318.65,510.12 L323.65,510 L328.65,509.87 L333.65,509.74 L338.65,509.59 L343.65,509.44 L348.65,509.27 L353.65,509.1 L358.65,508.92 L363.65,508.73 L368.65,508.54 L373.65,508.34 L378.65,508.13 L383.65,507.91 L388.65,507.67 L393.65,507.41 L398.65,507.12 L403.65,506.81 L408.65,506.48 L413.65,506.13 L418.65,505.75 L423.65,505.33 L428.65,504.84 L433.65,504.29 L438.65,503.69 L443.65,503.03 L448.65,502.29 L453.65,501.47 L458.65,500.53 L460.65,500.12 L461.65,499.9 L462.65,499.68 L463.65,499.45 L464.65,499.22 L465.65,498.97 L466.65,498.72 L467.65,498.46 L468.65,498.2 L469.65,497.93 L470.65,497.65 L471.65,497.36 L472.65,497.06 L473.65,496.76 L474.65,496.45 L475.65,496.13 L476.65,495.81 L477.65,495.47 L478.65,495.13 L479.65,494.77 L480.65,494.4 L481.65,494.01 L482.65,493.6 L483.65,493.18 L484.65,492.73 L485.65,492.27 L486.65,491.78 L487.65,491.27 L488.65,490.74 L489.65,490.19 L490.65,489.61 L491.65,489 L492.65,488.36 L493.65,487.69 L494.65,486.99 L495.65,486.27 L496.65,485.53 L497.65,484.76 L498.65,483.97 L499.65,483.15 L500.65,482.32 L501.65,481.46 L502.65,480.58 L503.65,479.66 L504.65,478.7 L505.65,477.7 L506.65,476.66 L507.65,475.59 L508.65,474.49 L509.65,473.36 L510.65,472.2 L511.65,471.01 L512.65,469.79 L513.65,468.54 L514.65,467.26 L515.65,465.95 L516.65,464.6 L517.65,463.22 L518.65,461.8 L519.65,460.34 L520.65,458.85 L521.65,457.33 L522.65,455.76 L523.65,454.14 L524.65,452.46 L525.65,450.72 L526.65,448.9 L527.65,447 L528.65,444.98 L529.65,442.83 L530.65,440.56 L531.65,438.15 L532.65,435.63 L533.65,433.02 L534.65,430.33 L535.65,427.6 L536.65,424.84 L537.65,422.07 L538.65,419.31 L539.65,416.56 L540.65,413.8 L541.65,411.05 L542.65,408.29 L543.65,405.53 L544.65,402.77 L545.65,400.01 L546.65,397.23 L547.65,394.46 L548.65,391.68 L549.65,388.89 L550.65,386.09 L551.65,383.29 L552.65,380.47 L553.65,377.66 L554.65,374.84 L555.65,372.01 L556.65,369.18 L557.65,366.36 L558.65,363.53 L559.65,360.7 L560.65,357.87 L561.65,355.05 L562.65,352.22 L563.65,349.39 L564.65,346.56 L565.65,343.73 L566.65,340.9 L567.65,338.07 L568.65,335.23 L569.65,332.4" stroke="#c8940a" stroke-width="2.3"/>
<path d="M569.65,332.4 L570.65,329.57 L571.65,326.73 L572.65,323.9 L573.65,321.07 L574.65,318.24 L575.65,315.41 L576.65,312.58 L577.65,309.75 L578.65,306.93 L579.65,304.1 L580.65,301.27 L581.65,298.44 L582.65,295.62 L583.65,292.79 L584.65,289.96 L585.65,287.14 L586.65,284.33 L587.65,281.51 L588.65,278.71 L589.65,275.91 L590.65,273.12 L591.65,270.34 L592.65,267.57 L593.65,264.79 L594.65,262.03 L595.65,259.27 L596.65,256.51 L597.65,253.75 L598.65,251 L599.65,248.24 L600.65,245.49 L601.65,242.73 L602.65,239.96 L603.65,237.2 L604.65,234.47 L605.65,231.78 L606.65,229.17 L607.65,226.65 L608.65,224.24 L609.65,221.97 L610.65,219.82 L611.65,217.8 L612.65,215.9 L613.65,214.08 L614.65,212.34 L615.65,210.66 L616.65,209.04 L617.65,207.47 L618.65,205.95 L619.65,204.46 L620.65,203 L621.65,201.58 L622.65,200.2 L623.65,198.85 L624.65,197.54 L625.65,196.26 L626.65,195.01 L627.65,193.79 L628.65,192.6 L629.65,191.44 L630.65,190.31 L631.65,189.21 L632.65,188.14 L633.65,187.1 L634.65,186.1 L635.65,185.14 L636.65,184.22 L637.65,183.34 L638.65,182.48 L639.65,181.65 L640.65,180.83 L641.65,180.04 L642.65,179.27 L643.65,178.53 L644.65,177.81 L645.65,177.11 L646.65,176.44 L647.65,175.8 L648.65,175.19 L649.65,174.61 L650.65,174.06 L651.65,173.53 L652.65,173.02 L653.65,172.53 L654.65,172.07 L655.65,171.62 L656.65,171.2 L657.65,170.79 L658.65,170.4 L659.65,170.03 L660.65,169.67 L661.65,169.33 L662.65,168.99 L663.65,168.67 L664.65,168.35 L665.65,168.04 L666.65,167.74 L667.65,167.44 L668.65,167.15 L669.65,166.87 L670.65,166.6 L671.65,166.34 L672.65,166.08 L673.65,165.83 L674.65,165.58 L675.65,165.35 L676.65,165.12 L677.65,164.9 L678.65,164.68 L683.65,163.69 L688.65,162.83 L693.65,162.06 L698.65,161.37 L703.65,160.75 L708.65,160.17 L713.65,159.66 L718.65,159.21 L723.65,158.82 L728.65,158.45 L733.65,158.11 L738.65,157.8 L743.65,157.51 L748.65,157.23 L753.65,156.99 L758.65,156.76 L763.65,156.54 L768.65,156.34 L773.65,156.14 L778.65,155.95 L783.65,155.77 L788.65,155.59 L793.65,155.43 L798.65,155.27 L803.65,155.12 L808.65,154.98 L813.65,154.85 L818.65,154.73 L823.65,154.62 L828.65,154.52 L833.65,154.43 L838.65,154.34 L843.65,154.25 L848.65,154.16 L853.65,154.07 L858.65,153.99 L863.65,153.91 L868.65,153.84 L873.65,153.76 L878.65,153.7 L883.65,153.64 L888.65,153.58 L893.65,153.53 L898.65,153.49 L903.65,153.45 L908.65,153.43 L913.65,153.41 L915.65,153.4" stroke="#c8940a" stroke-width="2.5"/>
<path d="M223.23,577.41 L228.23,577.36 L233.23,577.3 L238.23,577.24 L243.23,577.16 L248.23,577.07 L253.23,576.97 L258.23,576.87 L263.23,576.75 L268.23,576.63 L273.23,576.5 L278.23,576.36 L283.23,576.21 L288.23,576.07 L293.23,575.91 L298.23,575.75 L303.23,575.59 L308.23,575.43 L313.23,575.26 L318.23,575.09 L323.23,574.89 L328.23,574.69 L333.23,574.47 L338.23,574.24 L343.23,573.99 L348.23,573.72 L353.23,573.44 L358.23,573.14 L363.23,572.82 L368.23,572.49 L373.23,572.13 L378.24,571.75 L383.24,571.31 L388.24,570.78 L393.24,570.16 L398.25,569.49 L403.25,568.75 L408.26,567.91 L413.27,567 L418.28,566.04 L423.3,565.04 L428.31,564 L433.33,562.87 L438.35,561.58 L443.38,560.02 L448.41,558.16 L453.44,556.1 L458.48,553.73 L460.49,552.67 L461.5,552.1 L462.51,551.52 L463.52,550.92 L464.53,550.3 L465.53,549.66 L466.54,549.01 L467.55,548.34 L468.56,547.66 L469.57,546.96 L470.58,546.24 L471.59,545.5 L472.59,544.73 L473.6,543.93 L474.61,543.09 L475.62,542.22 L476.63,541.31 L477.64,540.35 L478.65,539.33 L479.66,538.25 L480.67,537.1 L481.67,535.89 L482.68,534.62 L483.69,533.29 L484.7,531.92 L485.71,530.51 L486.72,529.04 L487.73,527.52 L488.73,525.92 L489.74,524.25 L490.75,522.49 L491.76,520.65 L492.77,518.72 L493.77,516.72 L494.78,514.63 L495.79,512.46 L496.8,510.22 L497.8,507.89 L498.81,505.5 L499.82,503.04 L500.82,500.52 L501.83,497.95 L502.83,495.36 L503.84,492.76 L504.84,490.19 L505.85,487.63 L506.85,485.11 L507.86,482.61 L508.86,480.13 L509.86,477.67 L510.87,475.23 L511.87,472.81 L512.87,470.4 L513.87,468.01 L514.87,465.64 L515.87,463.28 L516.87,460.95 L517.87,458.63 L518.87,456.32 L519.87,454.04 L520.87,451.76 L521.87,449.5 L522.86,447.24 L523.86,445 L524.86,442.76 L525.85,440.54 L526.85,438.33 L527.84,436.13 L528.84,433.94 L529.83,431.73 L530.83,429.52 L531.82,427.27 L532.81,424.99 L533.8,422.67 L534.79,420.31 L535.78,417.92 L536.77,415.5 L537.76,413.05 L538.75,410.58 L539.74,408.09 L540.73,405.58 L541.72,403.07 L542.7,400.54 L543.69,398 L544.68,395.46 L545.66,392.92 L546.65,390.39 L547.63,387.85 L548.62,385.33 L549.6,382.81 L550.59,380.29 L551.57,377.77 L552.55,375.26 L553.54,372.74 L554.52,370.21 L555.5,367.69 L556.48,365.17 L557.46,362.65 L558.45,360.12 L559.43,357.6 L560.41,355.08 L561.39,352.56 L562.37,350.04 L563.35,347.52 L564.33,345 L565.31,342.48 L566.29,339.96 L567.27,337.44 L568.25,334.92 L569.23,332.4" stroke="#0cc8c8" stroke-width="2.2"/>
<path d="M568.95,332.4 L569.95,329.88 L570.95,327.36 L571.95,324.84 L572.95,322.32 L573.95,319.8 L574.95,317.28 L575.95,314.76 L576.95,312.24 L577.95,309.72 L578.95,307.2 L579.95,304.68 L580.95,302.15 L581.95,299.63 L582.95,297.11 L583.95,294.59 L584.95,292.06 L585.95,289.54 L586.95,287.03 L587.95,284.51 L588.95,281.99 L589.95,279.47 L590.95,276.95 L591.95,274.41 L592.95,271.88 L593.95,269.34 L594.95,266.8 L595.95,264.26 L596.95,261.73 L597.95,259.22 L598.95,256.71 L599.95,254.22 L600.95,251.75 L601.95,249.3 L602.95,246.88 L603.95,244.49 L604.95,242.13 L605.95,239.81 L606.95,237.53 L607.95,235.28 L608.95,233.07 L609.95,230.86 L610.95,228.67 L611.95,226.47 L612.95,224.26 L613.95,222.04 L614.95,219.8 L615.95,217.56 L616.95,215.3 L617.95,213.04 L618.95,210.76 L619.95,208.48 L620.95,206.17 L621.95,203.85 L622.95,201.52 L623.95,199.16 L624.95,196.79 L625.95,194.4 L626.95,191.99 L627.95,189.57 L628.95,187.13 L629.95,184.67 L630.95,182.19 L631.95,179.69 L632.95,177.17 L633.95,174.61 L634.95,172.04 L635.95,169.44 L636.95,166.85 L637.95,164.28 L638.95,161.76 L639.95,159.3 L640.95,156.91 L641.95,154.58 L642.95,152.34 L643.95,150.17 L644.95,148.08 L645.95,146.08 L646.95,144.15 L647.95,142.31 L648.95,140.55 L649.95,138.88 L650.95,137.28 L651.95,135.76 L652.95,134.29 L653.95,132.88 L654.95,131.51 L655.95,130.18 L656.95,128.91 L657.95,127.7 L658.95,126.55 L659.95,125.47 L660.95,124.45 L661.95,123.49 L662.95,122.58 L663.95,121.71 L664.95,120.87 L665.95,120.07 L666.95,119.3 L667.95,118.56 L668.95,117.84 L669.95,117.14 L670.95,116.46 L671.95,115.79 L672.95,115.14 L673.95,114.5 L674.95,113.88 L675.95,113.28 L676.95,112.7 L677.95,112.13 L682.95,109.6 L687.95,107.43 L692.95,105.5 L697.95,103.81 L702.95,102.43 L707.95,101.24 L712.95,100.16 L717.95,99.16 L722.95,98.18 L727.95,97.24 L732.95,96.37 L737.95,95.59 L742.95,94.9 L747.95,94.26 L752.95,93.69 L757.95,93.21 L762.95,92.82 L767.95,92.45 L772.95,92.11 L777.95,91.78 L782.95,91.48 L787.95,91.19 L792.95,90.92 L797.95,90.66 L802.95,90.42 L807.95,90.2 L812.95,89.99 L817.95,89.79 L822.95,89.61 L827.95,89.43 L832.95,89.27 L837.95,89.11 L842.95,88.95 L847.95,88.8 L852.95,88.65 L857.95,88.5 L862.95,88.36 L867.95,88.22 L872.95,88.1 L877.95,87.98 L882.95,87.87 L887.95,87.77 L892.95,87.67 L897.95,87.59 L902.95,87.52 L907.95,87.46 L912.95,87.42 L914.95,87.39" stroke="#0cc8c8" stroke-width="2.6"/>
<path d="M224.07,577.41 L229.07,577.36 L234.07,577.3 L239.07,577.24 L244.07,577.16 L249.07,577.07 L254.07,576.97 L259.07,576.87 L264.07,576.75 L269.07,576.63 L274.07,576.5 L279.07,576.36 L284.07,576.21 L289.07,576.07 L294.07,575.91 L299.07,575.75 L304.07,575.59 L309.07,575.43 L314.07,575.26 L319.07,575.09 L324.07,574.89 L329.07,574.69 L334.07,574.47 L339.07,574.24 L344.07,573.99 L349.07,573.72 L354.07,573.44 L359.07,573.14 L364.07,572.82 L369.07,572.49 L374.07,572.13 L379.08,571.75 L384.08,571.31 L389.08,570.78 L394.08,570.16 L399.09,569.49 L404.09,568.75 L409.1,567.91 L414.11,567 L419.12,566.04 L424.14,565.04 L429.15,564 L434.17,562.87 L439.19,561.58 L444.22,560.02 L449.25,558.16 L454.28,556.1 L459.32,553.73 L461.33,552.67 L462.34,552.1 L463.35,551.52 L464.36,550.92 L465.37,550.3 L466.37,549.66 L467.38,549.01 L468.39,548.34 L469.4,547.66 L470.41,546.96 L471.42,546.24 L472.43,545.5 L473.43,544.73 L474.44,543.93 L475.45,543.09 L476.46,542.22 L477.47,541.31 L478.48,540.35 L479.49,539.33 L480.5,538.25 L481.51,537.1 L482.51,535.89 L483.52,534.62 L484.53,533.29 L485.54,531.92 L486.55,530.51 L487.56,529.04 L488.57,527.52 L489.57,525.92 L490.58,524.25 L491.59,522.49 L492.6,520.65 L493.61,518.72 L494.61,516.72 L495.62,514.63 L496.63,512.46 L497.64,510.22 L498.64,507.89 L499.65,505.5 L500.66,503.04 L501.66,500.52 L502.67,497.95 L503.67,495.36 L504.68,492.76 L505.68,490.19 L506.69,487.63 L507.69,485.11 L508.7,482.61 L509.7,480.13 L510.7,477.67 L511.71,475.23 L512.71,472.81 L513.71,470.4 L514.71,468.01 L515.71,465.64 L516.71,463.28 L517.71,460.95 L518.71,458.63 L519.71,456.32 L520.71,454.04 L521.71,451.76 L522.71,449.5 L523.7,447.24 L524.7,445 L525.7,442.76 L526.69,440.54 L527.69,438.33 L528.68,436.13 L529.68,433.94 L530.67,431.73 L531.67,429.52 L532.66,427.27 L533.65,424.99 L534.64,422.67 L535.63,420.31 L536.62,417.92 L537.61,415.5 L538.6,413.05 L539.59,410.58 L540.58,408.09 L541.57,405.58 L542.56,403.07 L543.54,400.54 L544.53,398 L545.52,395.46 L546.5,392.92 L547.49,390.39 L548.47,387.85 L549.46,385.33 L550.44,382.81 L551.43,380.29 L552.41,377.77 L553.39,375.26 L554.38,372.74 L555.36,370.21 L556.34,367.69 L557.32,365.17 L558.3,362.65 L559.29,360.12 L560.27,357.6 L561.25,355.08 L562.23,352.56 L563.21,350.04 L564.19,347.52 L565.17,345 L566.15,342.48 L567.13,339.96 L568.11,337.44 L569.09,334.92 L570.07,332.4" stroke="#0cc8c8" stroke-width="2.2"/>
<path d="M570.35,332.4 L571.35,329.88 L572.35,327.36 L573.35,324.84 L574.35,322.32 L575.35,319.8 L576.35,317.28 L577.35,314.76 L578.35,312.24 L579.35,309.72 L580.35,307.2 L581.35,304.68 L582.35,302.15 L583.35,299.63 L584.35,297.11 L585.35,294.59 L586.35,292.06 L587.35,289.54 L588.35,287.03 L589.35,284.51 L590.35,281.99 L591.35,279.47 L592.35,276.95 L593.35,274.41 L594.35,271.88 L595.35,269.34 L596.35,266.8 L597.35,264.26 L598.35,261.73 L599.35,259.22 L600.35,256.71 L601.35,254.22 L602.35,251.75 L603.35,249.3 L604.35,246.88 L605.35,244.49 L606.35,242.13 L607.35,239.81 L608.35,237.53 L609.35,235.28 L610.35,233.07 L611.35,230.86 L612.35,228.67 L613.35,226.47 L614.35,224.26 L615.35,222.04 L616.35,219.8 L617.35,217.56 L618.35,215.3 L619.35,213.04 L620.35,210.76 L621.35,208.48 L622.35,206.17 L623.35,203.85 L624.35,201.52 L625.35,199.16 L626.35,196.79 L627.35,194.4 L628.35,191.99 L629.35,189.57 L630.35,187.13 L631.35,184.67 L632.35,182.19 L633.35,179.69 L634.35,177.17 L635.35,174.61 L636.35,172.04 L637.35,169.44 L638.35,166.85 L639.35,164.28 L640.35,161.76 L641.35,159.3 L642.35,156.91 L643.35,154.58 L644.35,152.34 L645.35,150.17 L646.35,148.08 L647.35,146.08 L648.35,144.15 L649.35,142.31 L650.35,140.55 L651.35,138.88 L652.35,137.28 L653.35,135.76 L654.35,134.29 L655.35,132.88 L656.35,131.51 L657.35,130.18 L658.35,128.91 L659.35,127.7 L660.35,126.55 L661.35,125.47 L662.35,124.45 L663.35,123.49 L664.35,122.58 L665.35,121.71 L666.35,120.87 L667.35,120.07 L668.35,119.3 L669.35,118.56 L670.35,117.84 L671.35,117.14 L672.35,116.46 L673.35,115.79 L674.35,115.14 L675.35,114.5 L676.35,113.88 L677.35,113.28 L678.35,112.7 L679.35,112.13 L684.35,109.6 L689.35,107.43 L694.35,105.5 L699.35,103.81 L704.35,102.43 L709.35,101.24 L714.35,100.16 L719.35,99.16 L724.35,98.18 L729.35,97.24 L734.35,96.37 L739.35,95.59 L744.35,94.9 L749.35,94.26 L754.35,93.69 L759.35,93.21 L764.35,92.82 L769.35,92.45 L774.35,92.11 L779.35,91.78 L784.35,91.48 L789.35,91.19 L794.35,90.92 L799.35,90.66 L804.35,90.42 L809.35,90.2 L814.35,89.99 L819.35,89.79 L824.35,89.61 L829.35,89.43 L834.35,89.27 L839.35,89.11 L844.35,88.95 L849.35,88.8 L854.35,88.65 L859.35,88.5 L864.35,88.36 L869.35,88.22 L874.35,88.1 L879.35,87.98 L884.35,87.87 L889.35,87.77 L894.35,87.67 L899.35,87.59 L904.35,87.52 L909.35,87.46 L914.35,87.42 L916.35,87.39" stroke="#0cc8c8" stroke-width="2.6"/>
<path d="M223.29,594.3 L228.29,594.28 L233.29,594.26 L238.29,594.23 L243.29,594.19 L248.29,594.14 L253.29,594.09 L258.29,594.03 L263.29,593.96 L268.29,593.89 L273.29,593.82 L278.29,593.74 L283.29,593.66 L288.29,593.58 L293.29,593.49 L298.29,593.4 L303.29,593.31 L308.29,593.22 L313.29,593.12 L318.29,593.03 L323.29,592.92 L328.29,592.81 L333.29,592.68 L338.29,592.55 L343.29,592.41 L348.29,592.26 L353.29,592.09 L358.29,591.91 L363.3,591.72 L368.3,591.51 L373.3,591.28 L378.31,591.03 L383.31,590.72 L388.32,590.3 L393.33,589.8 L398.35,589.27 L403.36,588.72 L408.39,588.12 L413.41,587.45 L418.45,586.7 L423.49,585.85 L428.54,584.86 L433.59,583.76 L438.66,582.57 L443.74,581.28 L448.83,579.85 L453.93,578.3 L459.04,576.63 L461.08,575.93 L462.1,575.56 L463.13,575.19 L464.15,574.8 L465.18,574.4 L466.2,574 L467.23,573.58 L468.25,573.14 L469.28,572.7 L470.3,572.23 L471.33,571.76 L472.36,571.26 L473.38,570.75 L474.41,570.22 L475.44,569.67 L476.46,569.11 L477.49,568.53 L478.52,567.93 L479.54,567.31 L480.57,566.68 L481.6,566.03 L482.62,565.37 L483.65,564.68 L484.68,563.97 L485.7,563.23 L486.73,562.46 L487.75,561.67 L488.78,560.83 L489.8,559.95 L490.83,559.03 L491.85,558.06 L492.88,557.03 L493.9,555.94 L494.92,554.81 L495.95,553.63 L496.97,552.41 L497.99,551.16 L499.01,549.88 L500.03,548.58 L501.05,547.24 L502.07,545.87 L503.08,544.45 L504.1,542.96 L505.12,541.4 L506.13,539.76 L507.14,538.02 L508.16,536.19 L509.17,534.25 L510.18,532.18 L511.19,529.97 L512.2,527.62 L513.2,525.12 L514.21,522.48 L515.21,519.71 L516.22,516.82 L517.22,513.81 L518.22,510.69 L519.22,507.46 L520.22,504.14 L521.21,500.73 L522.21,497.25 L523.2,493.7 L524.19,490.13 L525.18,486.57 L526.17,483.04 L527.16,479.56 L528.15,476.14 L529.13,472.76 L530.11,469.41 L531.1,466.08 L532.08,462.78 L533.05,459.49 L534.03,456.22 L535.01,452.96 L535.98,449.71 L536.95,446.44 L537.92,443.16 L538.89,439.87 L539.86,436.56 L540.82,433.24 L541.79,429.9 L542.75,426.57 L543.71,423.22 L544.67,419.87 L545.63,416.52 L546.59,413.17 L547.55,409.81 L548.5,406.44 L549.45,403.08 L550.41,399.71 L551.36,396.34 L552.31,392.96 L553.26,389.59 L554.21,386.22 L555.15,382.85 L556.1,379.47 L557.05,376.1 L557.99,372.74 L558.94,369.37 L559.88,366 L560.82,362.64 L561.76,359.28 L562.71,355.92 L563.65,352.55 L564.59,349.19 L565.53,345.83 L566.47,342.48 L567.41,339.12 L568.35,335.76 L569.29,332.4" stroke="#5c2a30" stroke-width="2.0"/>
<path d="M569.05,332.4 L570.05,329.04 L571.05,325.68 L572.05,322.32 L573.05,318.97 L574.05,315.61 L575.05,312.25 L576.05,308.88 L577.05,305.52 L578.05,302.16 L579.05,298.8 L580.05,295.43 L581.05,292.06 L582.05,288.7 L583.05,285.33 L584.05,281.95 L585.05,278.58 L586.05,275.21 L587.05,271.84 L588.05,268.46 L589.05,265.09 L590.05,261.72 L591.05,258.36 L592.05,254.99 L593.05,251.63 L594.05,248.28 L595.05,244.93 L596.05,241.58 L597.05,238.23 L598.05,234.9 L599.05,231.56 L600.05,228.24 L601.05,224.93 L602.05,221.64 L603.05,218.36 L604.05,215.09 L605.05,211.84 L606.05,208.58 L607.05,205.31 L608.05,202.02 L609.05,198.72 L610.05,195.39 L611.05,192.04 L612.05,188.66 L613.05,185.24 L614.05,181.76 L615.05,178.23 L616.05,174.67 L617.05,171.1 L618.05,167.55 L619.05,164.07 L620.05,160.66 L621.05,157.34 L622.05,154.11 L623.05,150.99 L624.05,147.98 L625.05,145.09 L626.05,142.32 L627.05,139.68 L628.05,137.18 L629.05,134.83 L630.05,132.62 L631.05,130.55 L632.05,128.61 L633.05,126.78 L634.05,125.04 L635.05,123.4 L636.05,121.84 L637.05,120.35 L638.05,118.93 L639.05,117.56 L640.05,116.22 L641.05,114.92 L642.05,113.64 L643.05,112.39 L644.05,111.17 L645.05,109.99 L646.05,108.86 L647.05,107.77 L648.05,106.74 L649.05,105.77 L650.05,104.85 L651.05,103.97 L652.05,103.13 L653.05,102.34 L654.05,101.57 L655.05,100.83 L656.05,100.12 L657.05,99.43 L658.05,98.77 L659.05,98.12 L660.05,97.49 L661.05,96.87 L662.05,96.27 L663.05,95.69 L664.05,95.13 L665.05,94.58 L666.05,94.05 L667.05,93.54 L668.05,93.04 L669.05,92.57 L670.05,92.1 L671.05,91.66 L672.05,91.22 L673.05,90.8 L674.05,90.4 L675.05,90 L676.05,89.61 L677.05,89.24 L678.05,88.87 L683.05,87.15 L688.05,85.55 L693.05,84.08 L698.05,82.73 L703.05,81.51 L708.05,80.37 L713.05,79.33 L718.05,78.42 L723.05,77.64 L728.05,76.94 L733.05,76.31 L738.05,75.74 L743.05,75.21 L748.05,74.69 L753.05,74.24 L758.05,73.88 L763.05,73.62 L768.05,73.38 L773.05,73.17 L778.05,72.97 L783.05,72.78 L788.05,72.61 L793.05,72.45 L798.05,72.3 L803.05,72.17 L808.05,72.04 L813.05,71.93 L818.05,71.82 L823.05,71.71 L828.05,71.62 L833.05,71.53 L838.05,71.44 L843.05,71.35 L848.05,71.26 L853.05,71.17 L858.05,71.09 L863.05,71.01 L868.05,70.94 L873.05,70.86 L878.05,70.8 L883.05,70.74 L888.05,70.68 L893.05,70.63 L898.05,70.59 L903.05,70.55 L908.05,70.53 L913.05,70.51 L915.05,70.5" stroke="#5c2a30" stroke-width="3.2"/>
<path d="M224.01,594.3 L229.01,594.28 L234.01,594.26 L239.01,594.23 L244.01,594.19 L249.01,594.14 L254.01,594.09 L259.01,594.03 L264.01,593.96 L269.01,593.89 L274.01,593.82 L279.01,593.74 L284.01,593.66 L289.01,593.58 L294.01,593.49 L299.01,593.4 L304.01,593.31 L309.01,593.22 L314.01,593.12 L319.01,593.03 L324.01,592.92 L329.01,592.81 L334.01,592.68 L339.01,592.55 L344.01,592.41 L349.01,592.26 L354.01,592.09 L359.01,591.91 L364.02,591.72 L369.02,591.51 L374.02,591.28 L379.03,591.03 L384.03,590.72 L389.04,590.3 L394.05,589.8 L399.07,589.27 L404.08,588.72 L409.11,588.12 L414.13,587.45 L419.17,586.7 L424.21,585.85 L429.26,584.86 L434.31,583.76 L439.38,582.57 L444.46,581.28 L449.55,579.85 L454.65,578.3 L459.76,576.63 L461.8,575.93 L462.82,575.56 L463.85,575.19 L464.87,574.8 L465.9,574.4 L466.92,574 L467.95,573.58 L468.97,573.14 L470,572.7 L471.02,572.23 L472.05,571.76 L473.08,571.26 L474.1,570.75 L475.13,570.22 L476.16,569.67 L477.18,569.11 L478.21,568.53 L479.24,567.93 L480.26,567.31 L481.29,566.68 L482.32,566.03 L483.34,565.37 L484.37,564.68 L485.4,563.97 L486.42,563.23 L487.45,562.46 L488.47,561.67 L489.5,560.83 L490.52,559.95 L491.55,559.03 L492.57,558.06 L493.6,557.03 L494.62,555.94 L495.64,554.81 L496.67,553.63 L497.69,552.41 L498.71,551.16 L499.73,549.88 L500.75,548.58 L501.77,547.24 L502.79,545.87 L503.8,544.45 L504.82,542.96 L505.84,541.4 L506.85,539.76 L507.86,538.02 L508.88,536.19 L509.89,534.25 L510.9,532.18 L511.91,529.97 L512.92,527.62 L513.92,525.12 L514.93,522.48 L515.93,519.71 L516.94,516.82 L517.94,513.81 L518.94,510.69 L519.94,507.46 L520.94,504.14 L521.93,500.73 L522.93,497.25 L523.92,493.7 L524.91,490.13 L525.9,486.57 L526.89,483.04 L527.88,479.56 L528.87,476.14 L529.85,472.76 L530.83,469.41 L531.82,466.08 L532.8,462.78 L533.77,459.49 L534.75,456.22 L535.73,452.96 L536.7,449.71 L537.67,446.44 L538.64,443.16 L539.61,439.87 L540.58,436.56 L541.54,433.24 L542.51,429.9 L543.47,426.57 L544.43,423.22 L545.39,419.87 L546.35,416.52 L547.31,413.17 L548.27,409.81 L549.22,406.44 L550.17,403.08 L551.13,399.71 L552.08,396.34 L553.03,392.96 L553.98,389.59 L554.93,386.22 L555.87,382.85 L556.82,379.47 L557.77,376.1 L558.71,372.74 L559.66,369.37 L560.6,366 L561.54,362.64 L562.48,359.28 L563.43,355.92 L564.37,352.55 L565.31,349.19 L566.25,345.83 L567.19,342.48 L568.13,339.12 L569.07,335.76 L570.01,332.4" stroke="#5c2a30" stroke-width="2.0"/>
<path d="M570.25,332.4 L571.25,329.04 L572.25,325.68 L573.25,322.32 L574.25,318.97 L575.25,315.61 L576.25,312.25 L577.25,308.88 L578.25,305.52 L579.25,302.16 L580.25,298.8 L581.25,295.43 L582.25,292.06 L583.25,288.7 L584.25,285.33 L585.25,281.95 L586.25,278.58 L587.25,275.21 L588.25,271.84 L589.25,268.46 L590.25,265.09 L591.25,261.72 L592.25,258.36 L593.25,254.99 L594.25,251.63 L595.25,248.28 L596.25,244.93 L597.25,241.58 L598.25,238.23 L599.25,234.9 L600.25,231.56 L601.25,228.24 L602.25,224.93 L603.25,221.64 L604.25,218.36 L605.25,215.09 L606.25,211.84 L607.25,208.58 L608.25,205.31 L609.25,202.02 L610.25,198.72 L611.25,195.39 L612.25,192.04 L613.25,188.66 L614.25,185.24 L615.25,181.76 L616.25,178.23 L617.25,174.67 L618.25,171.1 L619.25,167.55 L620.25,164.07 L621.25,160.66 L622.25,157.34 L623.25,154.11 L624.25,150.99 L625.25,147.98 L626.25,145.09 L627.25,142.32 L628.25,139.68 L629.25,137.18 L630.25,134.83 L631.25,132.62 L632.25,130.55 L633.25,128.61 L634.25,126.78 L635.25,125.04 L636.25,123.4 L637.25,121.84 L638.25,120.35 L639.25,118.93 L640.25,117.56 L641.25,116.22 L642.25,114.92 L643.25,113.64 L644.25,112.39 L645.25,111.17 L646.25,109.99 L647.25,108.86 L648.25,107.77 L649.25,106.74 L650.25,105.77 L651.25,104.85 L652.25,103.97 L653.25,103.13 L654.25,102.34 L655.25,101.57 L656.25,100.83 L657.25,100.12 L658.25,99.43 L659.25,98.77 L660.25,98.12 L661.25,97.49 L662.25,96.87 L663.25,96.27 L664.25,95.69 L665.25,95.13 L666.25,94.58 L667.25,94.05 L668.25,93.54 L669.25,93.04 L670.25,92.57 L671.25,92.1 L672.25,91.66 L673.25,91.22 L674.25,90.8 L675.25,90.4 L676.25,90 L677.25,89.61 L678.25,89.24 L679.25,88.87 L684.25,87.15 L689.25,85.55 L694.25,84.08 L699.25,82.73 L704.25,81.51 L709.25,80.37 L714.25,79.33 L719.25,78.42 L724.25,77.64 L729.25,76.94 L734.25,76.31 L739.25,75.74 L744.25,75.21 L749.25,74.69 L754.25,74.24 L759.25,73.88 L764.25,73.62 L769.25,73.38 L774.25,73.17 L779.25,72.97 L784.25,72.78 L789.25,72.61 L794.25,72.45 L799.25,72.3 L804.25,72.17 L809.25,72.04 L814.25,71.93 L819.25,71.82 L824.25,71.71 L829.25,71.62 L834.25,71.53 L839.25,71.44 L844.25,71.35 L849.25,71.26 L854.25,71.17 L859.25,71.09 L864.25,71.01 L869.25,70.94 L874.25,70.86 L879.25,70.8 L884.25,70.74 L889.25,70.68 L894.25,70.63 L899.25,70.59 L904.25,70.55 L909.25,70.53 L914.25,70.51 L916.25,70.5" stroke="#5c2a30" stroke-width="3.2"/>
<path d="M223.65,477.71 L228.65,477.69 L233.65,477.68 L238.65,477.66 L243.65,477.62 L248.65,477.58 L253.65,477.54 L258.65,477.48 L263.65,477.42 L268.65,477.36 L273.65,477.29 L278.65,477.22 L283.65,477.14 L288.65,477.06 L293.65,476.98 L298.65,476.89 L303.65,476.8 L308.65,476.72 L313.65,476.63 L318.65,476.52 L323.65,476.41 L328.65,476.29 L333.65,476.15 L338.65,476.01 L343.65,475.85 L348.65,475.68 L353.65,475.5 L358.65,475.31 L363.65,475.11 L368.65,474.9 L373.65,474.67 L378.65,474.43 L383.65,474.17 L388.65,473.86 L393.65,473.51 L398.65,473.12 L403.65,472.69 L408.65,472.23 L413.65,471.75 L418.65,471.24 L423.65,470.72 L428.65,470.18 L433.65,469.61 L438.65,468.98 L443.65,468.31 L448.65,467.57 L453.65,466.78 L458.65,465.92 L460.65,465.56 L461.65,465.37 L462.65,465.17 L463.65,464.97 L464.65,464.77 L465.65,464.56 L466.65,464.35 L467.65,464.13 L468.65,463.91 L469.65,463.68 L470.65,463.45 L471.65,463.21 L472.65,462.96 L473.65,462.71 L474.65,462.46 L475.65,462.2 L476.65,461.93 L477.65,461.66 L478.65,461.39 L479.65,461.1 L480.65,460.81 L481.65,460.52 L482.65,460.21 L483.65,459.9 L484.65,459.58 L485.65,459.25 L486.65,458.91 L487.65,458.56 L488.65,458.21 L489.65,457.84 L490.65,457.47 L491.65,457.09 L492.65,456.7 L493.65,456.31 L494.65,455.9 L495.65,455.49 L496.65,455.07 L497.65,454.64 L498.65,454.19 L499.65,453.74 L500.65,453.26 L501.65,452.77 L502.65,452.26 L503.65,451.73 L504.65,451.18 L505.65,450.61 L506.65,450.03 L507.65,449.43 L508.65,448.81 L509.65,448.18 L510.65,447.52 L511.65,446.85 L512.65,446.15 L513.65,445.44 L514.65,444.7 L515.65,443.94 L516.65,443.16 L517.65,442.37 L518.65,441.55 L519.65,440.71 L520.65,439.86 L521.65,438.98 L522.65,438.08 L523.65,437.15 L524.65,436.2 L525.65,435.22 L526.65,434.21 L527.65,433.18 L528.65,432.13 L529.65,431.05 L530.65,429.94 L531.65,428.78 L532.65,427.54 L533.65,426.17 L534.65,424.63 L535.65,422.85 L536.65,420.8 L537.65,418.5 L538.65,415.98 L539.65,413.32 L540.65,410.61 L541.65,407.89 L542.65,405.2 L543.65,402.52 L544.65,399.86 L545.65,397.19 L546.65,394.51 L547.65,391.83 L548.65,389.14 L549.65,386.45 L550.65,383.76 L551.65,381.06 L552.65,378.36 L553.65,375.65 L554.65,372.95 L555.65,370.24 L556.65,367.53 L557.65,364.82 L558.65,362.11 L559.65,359.4 L560.65,356.7 L561.65,354 L562.65,351.3 L563.65,348.59 L564.65,345.89 L565.65,343.19 L566.65,340.5 L567.65,337.8 L568.65,335.1 L569.65,332.4" stroke="#808000" stroke-width="2.4"/>
<path d="M569.65,332.4 L570.65,329.7 L571.65,327 L572.65,324.3 L573.65,321.61 L574.65,318.91 L575.65,316.21 L576.65,313.5 L577.65,310.8 L578.65,308.1 L579.65,305.4 L580.65,302.69 L581.65,299.98 L582.65,297.27 L583.65,294.56 L584.65,291.85 L585.65,289.15 L586.65,286.44 L587.65,283.74 L588.65,281.04 L589.65,278.35 L590.65,275.66 L591.65,272.97 L592.65,270.29 L593.65,267.61 L594.65,264.94 L595.65,262.28 L596.65,259.6 L597.65,256.91 L598.65,254.19 L599.65,251.48 L600.65,248.82 L601.65,246.3 L602.65,244 L603.65,241.95 L604.65,240.17 L605.65,238.63 L606.65,237.26 L607.65,236.02 L608.65,234.86 L609.65,233.75 L610.65,232.67 L611.65,231.62 L612.65,230.59 L613.65,229.58 L614.65,228.6 L615.65,227.65 L616.65,226.72 L617.65,225.82 L618.65,224.94 L619.65,224.09 L620.65,223.25 L621.65,222.43 L622.65,221.64 L623.65,220.86 L624.65,220.1 L625.65,219.36 L626.65,218.65 L627.65,217.95 L628.65,217.28 L629.65,216.62 L630.65,215.99 L631.65,215.37 L632.65,214.77 L633.65,214.19 L634.65,213.62 L635.65,213.07 L636.65,212.54 L637.65,212.03 L638.65,211.54 L639.65,211.06 L640.65,210.61 L641.65,210.16 L642.65,209.73 L643.65,209.31 L644.65,208.9 L645.65,208.49 L646.65,208.1 L647.65,207.71 L648.65,207.33 L649.65,206.96 L650.65,206.59 L651.65,206.24 L652.65,205.89 L653.65,205.55 L654.65,205.22 L655.65,204.9 L656.65,204.59 L657.65,204.28 L658.65,203.99 L659.65,203.7 L660.65,203.41 L661.65,203.14 L662.65,202.87 L663.65,202.6 L664.65,202.34 L665.65,202.09 L666.65,201.84 L667.65,201.59 L668.65,201.35 L669.65,201.12 L670.65,200.89 L671.65,200.67 L672.65,200.45 L673.65,200.24 L674.65,200.03 L675.65,199.83 L676.65,199.63 L677.65,199.43 L678.65,199.24 L683.65,198.36 L688.65,197.54 L693.65,196.78 L698.65,196.08 L703.65,195.44 L708.65,194.85 L713.65,194.3 L718.65,193.77 L723.65,193.25 L728.65,192.76 L733.65,192.29 L738.65,191.85 L743.65,191.44 L748.65,191.08 L753.65,190.75 L758.65,190.47 L763.65,190.22 L768.65,189.99 L773.65,189.77 L778.65,189.57 L783.65,189.37 L788.65,189.19 L793.65,189.01 L798.65,188.85 L803.65,188.7 L808.65,188.56 L813.65,188.44 L818.65,188.32 L823.65,188.21 L828.65,188.12 L833.65,188.03 L838.65,187.94 L843.65,187.86 L848.65,187.77 L853.65,187.69 L858.65,187.61 L863.65,187.54 L868.65,187.47 L873.65,187.4 L878.65,187.34 L883.65,187.28 L888.65,187.23 L893.65,187.19 L898.65,187.16 L903.65,187.13 L908.65,187.11 L913.65,187.1 L915.65,187.09" stroke="#808000" stroke-width="2.6"/>
<path d="M223.29,526.21 L228.29,526.12 L233.29,526.03 L238.29,525.93 L243.29,525.81 L248.29,525.69 L253.29,525.55 L258.29,525.39 L263.29,525.23 L268.29,525.06 L273.29,524.88 L278.29,524.7 L283.29,524.5 L288.29,524.3 L293.29,524.09 L298.29,523.88 L303.29,523.66 L308.29,523.44 L313.29,523.22 L318.29,522.97 L323.29,522.71 L328.29,522.43 L333.29,522.14 L338.29,521.83 L343.29,521.5 L348.29,521.15 L353.29,520.79 L358.29,520.42 L363.29,520.03 L368.29,519.62 L373.29,519.2 L378.29,518.76 L383.29,518.28 L388.29,517.73 L393.29,517.13 L398.29,516.49 L403.29,515.82 L408.29,515.12 L413.29,514.35 L418.29,513.52 L423.29,512.6 L428.29,511.59 L433.29,510.48 L438.29,509.27 L443.29,507.94 L448.29,506.47 L453.29,504.87 L458.29,503.14 L460.29,502.42 L461.29,502.05 L462.29,501.68 L463.29,501.3 L464.29,500.92 L465.29,500.53 L466.29,500.13 L467.29,499.73 L468.29,499.31 L469.29,498.9 L470.29,498.47 L471.29,498.04 L472.29,497.59 L473.29,497.14 L474.29,496.68 L475.29,496.21 L476.29,495.73 L477.29,495.24 L478.29,494.73 L479.29,494.2 L480.29,493.66 L481.29,493.09 L482.29,492.5 L483.29,491.89 L484.29,491.26 L485.29,490.63 L486.29,489.99 L487.29,489.33 L488.29,488.68 L489.29,488.01 L490.29,487.33 L491.29,486.64 L492.29,485.95 L493.29,485.25 L494.29,484.55 L495.29,483.84 L496.29,483.12 L497.29,482.4 L498.29,481.67 L499.29,480.93 L500.29,480.18 L501.29,479.42 L502.29,478.65 L503.29,477.88 L504.29,477.09 L505.29,476.3 L506.29,475.5 L507.29,474.68 L508.29,473.85 L509.29,473 L510.29,472.12 L511.29,471.22 L512.29,470.29 L513.29,469.33 L514.29,468.34 L515.29,467.32 L516.29,466.27 L517.29,465.18 L518.29,464.06 L519.29,462.92 L520.29,461.74 L521.29,460.54 L522.29,459.3 L523.29,458.03 L524.29,456.71 L525.29,455.35 L526.29,453.93 L527.29,452.45 L528.29,450.88 L529.29,449.22 L530.29,447.45 L531.29,445.6 L532.29,443.68 L533.29,441.72 L534.29,439.75 L535.29,437.79 L536.29,435.83 L537.29,433.85 L538.29,431.81 L539.29,429.69 L540.29,427.45 L541.29,425.06 L542.29,422.48 L543.29,419.7 L544.29,416.74 L545.29,413.64 L546.29,410.44 L547.29,407.18 L548.29,403.89 L549.29,400.58 L550.29,397.26 L551.29,393.91 L552.29,390.53 L553.29,387.12 L554.29,383.69 L555.29,380.26 L556.29,376.81 L557.29,373.37 L558.29,369.94 L559.29,366.52 L560.29,363.1 L561.29,359.69 L562.29,356.28 L563.29,352.87 L564.29,349.46 L565.29,346.05 L566.29,342.64 L567.29,339.23 L568.29,335.81 L569.29,332.4" stroke="#ff5a05" stroke-width="2.4"/>
<path d="M569.05,332.4 L570.05,328.99 L571.05,325.57 L572.05,322.16 L573.05,318.75 L574.05,315.34 L575.05,311.93 L576.05,308.52 L577.05,305.11 L578.05,301.7 L579.05,298.28 L580.05,294.86 L581.05,291.43 L582.05,287.99 L583.05,284.54 L584.05,281.11 L585.05,277.68 L586.05,274.27 L587.05,270.89 L588.05,267.54 L589.05,264.22 L590.05,260.91 L591.05,257.62 L592.05,254.36 L593.05,251.16 L594.05,248.06 L595.05,245.1 L596.05,242.32 L597.05,239.74 L598.05,237.35 L599.05,235.11 L600.05,232.99 L601.05,230.95 L602.05,228.97 L603.05,227.01 L604.05,225.05 L605.05,223.08 L606.05,221.12 L607.05,219.2 L608.05,217.35 L609.05,215.58 L610.05,213.92 L611.05,212.35 L612.05,210.87 L613.05,209.45 L614.05,208.09 L615.05,206.77 L616.05,205.5 L617.05,204.26 L618.05,203.06 L619.05,201.88 L620.05,200.74 L621.05,199.62 L622.05,198.53 L623.05,197.48 L624.05,196.46 L625.05,195.47 L626.05,194.51 L627.05,193.58 L628.05,192.68 L629.05,191.8 L630.05,190.95 L631.05,190.12 L632.05,189.3 L633.05,188.5 L634.05,187.71 L635.05,186.92 L636.05,186.15 L637.05,185.38 L638.05,184.62 L639.05,183.87 L640.05,183.13 L641.05,182.4 L642.05,181.68 L643.05,180.96 L644.05,180.25 L645.05,179.55 L646.05,178.85 L647.05,178.16 L648.05,177.47 L649.05,176.79 L650.05,176.12 L651.05,175.47 L652.05,174.81 L653.05,174.17 L654.05,173.54 L655.05,172.91 L656.05,172.3 L657.05,171.71 L658.05,171.14 L659.05,170.6 L660.05,170.07 L661.05,169.56 L662.05,169.07 L663.05,168.59 L664.05,168.12 L665.05,167.66 L666.05,167.21 L667.05,166.76 L668.05,166.33 L669.05,165.9 L670.05,165.49 L671.05,165.07 L672.05,164.67 L673.05,164.27 L674.05,163.88 L675.05,163.5 L676.05,163.12 L677.05,162.75 L678.05,162.38 L683.05,160.61 L688.05,158.96 L693.05,157.43 L698.05,156.04 L703.05,154.79 L708.05,153.65 L713.05,152.59 L718.05,151.64 L723.05,150.77 L728.05,149.98 L733.05,149.25 L738.05,148.57 L743.05,147.92 L748.05,147.31 L753.05,146.73 L758.05,146.22 L763.05,145.77 L768.05,145.35 L773.05,144.93 L778.05,144.54 L783.05,144.15 L788.05,143.79 L793.05,143.44 L798.05,143.1 L803.05,142.79 L808.05,142.48 L813.05,142.2 L818.05,141.93 L823.05,141.68 L828.05,141.45 L833.05,141.22 L838.05,141.01 L843.05,140.79 L848.05,140.58 L853.05,140.38 L858.05,140.18 L863.05,139.99 L868.05,139.81 L873.05,139.63 L878.05,139.47 L883.05,139.31 L888.05,139.17 L893.05,139.04 L898.05,138.92 L903.05,138.81 L908.05,138.71 L913.05,138.63 L915.05,138.59" stroke="#ff5a05" stroke-width="2.7"/>
<path d="M224.01,526.21 L229.01,526.12 L234.01,526.03 L239.01,525.93 L244.01,525.81 L249.01,525.69 L254.01,525.55 L259.01,525.39 L264.01,525.23 L269.01,525.06 L274.01,524.88 L279.01,524.7 L284.01,524.5 L289.01,524.3 L294.01,524.09 L299.01,523.88 L304.01,523.66 L309.01,523.44 L314.01,523.22 L319.01,522.97 L324.01,522.71 L329.01,522.43 L334.01,522.14 L339.01,521.83 L344.01,521.5 L349.01,521.15 L354.01,520.79 L359.01,520.42 L364.01,520.03 L369.01,519.62 L374.01,519.2 L379.01,518.76 L384.01,518.28 L389.01,517.73 L394.01,517.13 L399.01,516.49 L404.01,515.82 L409.01,515.12 L414.01,514.35 L419.01,513.52 L424.01,512.6 L429.01,511.59 L434.01,510.48 L439.01,509.27 L444.01,507.94 L449.01,506.47 L454.01,504.87 L459.01,503.14 L461.01,502.42 L462.01,502.05 L463.01,501.68 L464.01,501.3 L465.01,500.92 L466.01,500.53 L467.01,500.13 L468.01,499.73 L469.01,499.31 L470.01,498.9 L471.01,498.47 L472.01,498.04 L473.01,497.59 L474.01,497.14 L475.01,496.68 L476.01,496.21 L477.01,495.73 L478.01,495.24 L479.01,494.73 L480.01,494.2 L481.01,493.66 L482.01,493.09 L483.01,492.5 L484.01,491.89 L485.01,491.26 L486.01,490.63 L487.01,489.99 L488.01,489.33 L489.01,488.68 L490.01,488.01 L491.01,487.33 L492.01,486.64 L493.01,485.95 L494.01,485.25 L495.01,484.55 L496.01,483.84 L497.01,483.12 L498.01,482.4 L499.01,481.67 L500.01,480.93 L501.01,480.18 L502.01,479.42 L503.01,478.65 L504.01,477.88 L505.01,477.09 L506.01,476.3 L507.01,475.5 L508.01,474.68 L509.01,473.85 L510.01,473 L511.01,472.12 L512.01,471.22 L513.01,470.29 L514.01,469.33 L515.01,468.34 L516.01,467.32 L517.01,466.27 L518.01,465.18 L519.01,464.06 L520.01,462.92 L521.01,461.74 L522.01,460.54 L523.01,459.3 L524.01,458.03 L525.01,456.71 L526.01,455.35 L527.01,453.93 L528.01,452.45 L529.01,450.88 L530.01,449.22 L531.01,447.45 L532.01,445.6 L533.01,443.68 L534.01,441.72 L535.01,439.75 L536.01,437.79 L537.01,435.83 L538.01,433.85 L539.01,431.81 L540.01,429.69 L541.01,427.45 L542.01,425.06 L543.01,422.48 L544.01,419.7 L545.01,416.74 L546.01,413.64 L547.01,410.44 L548.01,407.18 L549.01,403.89 L550.01,400.58 L551.01,397.26 L552.01,393.91 L553.01,390.53 L554.01,387.12 L555.01,383.69 L556.01,380.26 L557.01,376.81 L558.01,373.37 L559.01,369.94 L560.01,366.52 L561.01,363.1 L562.01,359.69 L563.01,356.28 L564.01,352.87 L565.01,349.46 L566.01,346.05 L567.01,342.64 L568.01,339.23 L569.01,335.81 L570.01,332.4" stroke="#ff5a05" stroke-width="2.4"/>
<path d="M570.25,332.4 L571.25,328.99 L572.25,325.57 L573.25,322.16 L574.25,318.75 L575.25,315.34 L576.25,311.93 L577.25,308.52 L578.25,305.11 L579.25,301.7 L580.25,298.28 L581.25,294.86 L582.25,291.43 L583.25,287.99 L584.25,284.54 L585.25,281.11 L586.25,277.68 L587.25,274.27 L588.25,270.89 L589.25,267.54 L590.25,264.22 L591.25,260.91 L592.25,257.62 L593.25,254.36 L594.25,251.16 L595.25,248.06 L596.25,245.1 L597.25,242.32 L598.25,239.74 L599.25,237.35 L600.25,235.11 L601.25,232.99 L602.25,230.95 L603.25,228.97 L604.25,227.01 L605.25,225.05 L606.25,223.08 L607.25,221.12 L608.25,219.2 L609.25,217.35 L610.25,215.58 L611.25,213.92 L612.25,212.35 L613.25,210.87 L614.25,209.45 L615.25,208.09 L616.25,206.77 L617.25,205.5 L618.25,204.26 L619.25,203.06 L620.25,201.88 L621.25,200.74 L622.25,199.62 L623.25,198.53 L624.25,197.48 L625.25,196.46 L626.25,195.47 L627.25,194.51 L628.25,193.58 L629.25,192.68 L630.25,191.8 L631.25,190.95 L632.25,190.12 L633.25,189.3 L634.25,188.5 L635.25,187.71 L636.25,186.92 L637.25,186.15 L638.25,185.38 L639.25,184.62 L640.25,183.87 L641.25,183.13 L642.25,182.4 L643.25,181.68 L644.25,180.96 L645.25,180.25 L646.25,179.55 L647.25,178.85 L648.25,178.16 L649.25,177.47 L650.25,176.79 L651.25,176.12 L652.25,175.47 L653.25,174.81 L654.25,174.17 L655.25,173.54 L656.25,172.91 L657.25,172.3 L658.25,171.71 L659.25,171.14 L660.25,170.6 L661.25,170.07 L662.25,169.56 L663.25,169.07 L664.25,168.59 L665.25,168.12 L666.25,167.66 L667.25,167.21 L668.25,166.76 L669.25,166.33 L670.25,165.9 L671.25,165.49 L672.25,165.07 L673.25,164.67 L674.25,164.27 L675.25,163.88 L676.25,163.5 L677.25,163.12 L678.25,162.75 L679.25,162.38 L684.25,160.61 L689.25,158.96 L694.25,157.43 L699.25,156.04 L704.25,154.79 L709.25,153.65 L714.25,152.59 L719.25,151.64 L724.25,150.77 L729.25,149.98 L734.25,149.25 L739.25,148.57 L744.25,147.92 L749.25,147.31 L754.25,146.73 L759.25,146.22 L764.25,145.77 L769.25,145.35 L774.25,144.93 L779.25,144.54 L784.25,144.15 L789.25,143.79 L794.25,143.44 L799.25,143.1 L804.25,142.79 L809.25,142.48 L814.25,142.2 L819.25,141.93 L824.25,141.68 L829.25,141.45 L834.25,141.22 L839.25,141.01 L844.25,140.79 L849.25,140.58 L854.25,140.38 L859.25,140.18 L864.25,139.99 L869.25,139.81 L874.25,139.63 L879.25,139.47 L884.25,139.31 L889.25,139.17 L894.25,139.04 L899.25,138.92 L904.25,138.81 L909.25,138.71 L914.25,138.63 L916.25,138.59" stroke="#ff5a05" stroke-width="2.7"/>
</g>
<rect x="182" y="12.4" width="238" height="413.13" fill="#fff"/>
<line x1="186.4" y1="33" x2="248.4" y2="33" stroke="#1c1c1c" stroke-width="1.8" stroke-linecap="round"/>
<text x="256.4" y="42" font-size="27.9" font-weight="bold">Fe<tspan font-size="18.7" dy="7.0" font-weight="bold">10</tspan><tspan dy="-7.0">Co</tspan><tspan font-size="18.7" dy="7.0" font-weight="bold">10</tspan><tspan dy="-7.0">Ni</tspan><tspan font-size="18.7" dy="7.0" font-weight="bold">80</tspan></text>
<line x1="186.4" y1="74.17" x2="248.4" y2="74.17" stroke="#ee1c1c" stroke-width="2.2" stroke-linecap="round"/>
<text x="256.4" y="83.17" font-size="27.9" font-weight="bold">Fe<tspan font-size="18.7" dy="7.0" font-weight="bold">10</tspan><tspan dy="-7.0">Co</tspan><tspan font-size="18.7" dy="7.0" font-weight="bold">20</tspan><tspan dy="-7.0">Ni</tspan><tspan font-size="18.7" dy="7.0" font-weight="bold">70</tspan></text>
<line x1="186.4" y1="115.34" x2="248.4" y2="115.34" stroke="#0a50e0" stroke-width="2.2" stroke-linecap="round"/>
<text x="256.4" y="124.34" font-size="27.9" font-weight="bold">Fe<tspan font-size="18.7" dy="7.0" font-weight="bold">10</tspan><tspan dy="-7.0">Co</tspan><tspan font-size="18.7" dy="7.0" font-weight="bold">70</tspan><tspan dy="-7.0">Ni</tspan><tspan font-size="18.7" dy="7.0" font-weight="bold">20</tspan></text>
<line x1="186.4" y1="156.51" x2="248.4" y2="156.51" stroke="#0f9c50" stroke-width="2.2" stroke-linecap="round"/>
<text x="256.4" y="165.51" font-size="27.9" font-weight="bold">Fe<tspan font-size="18.7" dy="7.0" font-weight="bold">20</tspan><tspan dy="-7.0">Co</tspan><tspan font-size="18.7" dy="7.0" font-weight="bold">40</tspan><tspan dy="-7.0">Ni</tspan><tspan font-size="18.7" dy="7.0" font-weight="bold">40</tspan></text>
<line x1="186.4" y1="197.68" x2="248.4" y2="197.68" stroke="#b466e8" stroke-width="2.2" stroke-linecap="round"/>
<text x="256.4" y="206.68" font-size="27.9" font-weight="bold">Fe<tspan font-size="18.7" dy="7.0" font-weight="bold">33</tspan><tspan dy="-7.0">Co</tspan><tspan font-size="18.7" dy="7.0" font-weight="bold">33</tspan><tspan dy="-7.0">Ni</tspan><tspan font-size="18.7" dy="7.0" font-weight="bold">33</tspan></text>
<line x1="186.4" y1="238.85" x2="248.4" y2="238.85" stroke="#c8940a" stroke-width="2.2" stroke-linecap="round"/>
<text x="256.4" y="247.85" font-size="27.9" font-weight="bold">Fe<tspan font-size="18.7" dy="7.0" font-weight="bold">40</tspan><tspan dy="-7.0">Co</tspan><tspan font-size="18.7" dy="7.0" font-weight="bold">20</tspan><tspan dy="-7.0">Ni</tspan><tspan font-size="18.7" dy="7.0" font-weight="bold">40</tspan></text>
<line x1="186.4" y1="280.02" x2="248.4" y2="280.02" stroke="#0cc8c8" stroke-width="2.2" stroke-linecap="round"/>
<text x="256.4" y="289.02" font-size="27.9" font-weight="bold">Fe<tspan font-size="18.7" dy="7.0" font-weight="bold">40</tspan><tspan dy="-7.0">Co</tspan><tspan font-size="18.7" dy="7.0" font-weight="bold">50</tspan><tspan dy="-7.0">Ni</tspan><tspan font-size="18.7" dy="7.0" font-weight="bold">10</tspan></text>
<line x1="186.4" y1="321.19" x2="248.4" y2="321.19" stroke="#5c2a30" stroke-width="2.0" stroke-linecap="round"/>
<text x="256.4" y="330.19" font-size="27.9" font-weight="bold">Fe<tspan font-size="18.7" dy="7.0" font-weight="bold">50</tspan><tspan dy="-7.0">Co</tspan><tspan font-size="18.7" dy="7.0" font-weight="bold">40</tspan><tspan dy="-7.0">Ni</tspan><tspan font-size="18.7" dy="7.0" font-weight="bold">10</tspan></text>
<line x1="186.4" y1="362.36" x2="248.4" y2="362.36" stroke="#808000" stroke-width="2.2" stroke-linecap="round"/>
<text x="256.4" y="371.36" font-size="27.9" font-weight="bold">Fe<tspan font-size="18.7" dy="7.0" font-weight="bold">54</tspan><tspan dy="-7.0">Co</tspan><tspan font-size="18.7" dy="7.0" font-weight="bold">17</tspan><tspan dy="-7.0">Ni</tspan><tspan font-size="18.7" dy="7.0" font-weight="bold">29</tspan></text>
<line x1="186.4" y1="403.53" x2="248.4" y2="403.53" stroke="#ff5a05" stroke-width="2.2" stroke-linecap="round"/>
<text x="256.4" y="412.53" font-size="27.9" font-weight="bold">Fe<tspan font-size="18.7" dy="7.0" font-weight="bold">57</tspan><tspan dy="-7.0">Co</tspan><tspan font-size="18.7" dy="7.0" font-weight="bold">29</tspan><tspan dy="-7.0">Ni</tspan><tspan font-size="18.7" dy="7.0" font-weight="bold">14</tspan></text>
<rect x="165.3" y="6.4" width="808.7" height="652.2" fill="none" stroke="#000" stroke-width="2.4"/>
<line x1="159" y1="658.15" x2="165.3" y2="658.15" stroke="#000" stroke-width="2.4" stroke-linecap="butt"/>
<line x1="152" y1="593" x2="165.3" y2="593" stroke="#000" stroke-width="2.4" stroke-linecap="butt"/>
<text transform="translate(143,602.5) scale(0.945,1)" font-size="32.3" font-weight="bold" font-style="normal" text-anchor="end">-200</text>
<line x1="159" y1="527.85" x2="165.3" y2="527.85" stroke="#000" stroke-width="2.4" stroke-linecap="butt"/>
<line x1="152" y1="462.7" x2="165.3" y2="462.7" stroke="#000" stroke-width="2.4" stroke-linecap="butt"/>
<text transform="translate(143,472.2) scale(0.945,1)" font-size="32.3" font-weight="bold" font-style="normal" text-anchor="end">-100</text>
<line x1="159" y1="397.55" x2="165.3" y2="397.55" stroke="#000" stroke-width="2.4" stroke-linecap="butt"/>
<line x1="152" y1="332.4" x2="165.3" y2="332.4" stroke="#000" stroke-width="2.4" stroke-linecap="butt"/>
<text transform="translate(143,341.9) scale(0.945,1)" font-size="32.3" font-weight="bold" font-style="normal" text-anchor="end">0</text>
<line x1="159" y1="267.25" x2="165.3" y2="267.25" stroke="#000" stroke-width="2.4" stroke-linecap="butt"/>
<line x1="152" y1="202.1" x2="165.3" y2="202.1" stroke="#000" stroke-width="2.4" stroke-linecap="butt"/>
<text transform="translate(143,211.6) scale(0.945,1)" font-size="32.3" font-weight="bold" font-style="normal" text-anchor="end">100</text>
<line x1="159" y1="136.95" x2="165.3" y2="136.95" stroke="#000" stroke-width="2.4" stroke-linecap="butt"/>
<line x1="152" y1="71.8" x2="165.3" y2="71.8" stroke="#000" stroke-width="2.4" stroke-linecap="butt"/>
<text transform="translate(143,81.3) scale(0.945,1)" font-size="32.3" font-weight="bold" font-style="normal" text-anchor="end">200</text>
<line x1="159" y1="6.65" x2="165.3" y2="6.65" stroke="#000" stroke-width="2.4" stroke-linecap="butt"/>
<line x1="165.57" y1="658.6" x2="165.57" y2="664.62" stroke="#000" stroke-width="2.4" stroke-linecap="butt"/>
<line x1="223.3" y1="658.6" x2="223.3" y2="671.5" stroke="#000" stroke-width="2.4" stroke-linecap="butt"/>
<text transform="translate(223.3,704.2) scale(0.945,1)" font-size="32.3" font-weight="bold" font-style="normal" text-anchor="middle">-15000</text>
<line x1="281.02" y1="658.6" x2="281.02" y2="664.62" stroke="#000" stroke-width="2.4" stroke-linecap="butt"/>
<line x1="338.75" y1="658.6" x2="338.75" y2="671.5" stroke="#000" stroke-width="2.4" stroke-linecap="butt"/>
<text transform="translate(338.75,704.2) scale(0.945,1)" font-size="32.3" font-weight="bold" font-style="normal" text-anchor="middle">-10000</text>
<line x1="396.47" y1="658.6" x2="396.47" y2="664.62" stroke="#000" stroke-width="2.4" stroke-linecap="butt"/>
<line x1="454.2" y1="658.6" x2="454.2" y2="671.5" stroke="#000" stroke-width="2.4" stroke-linecap="butt"/>
<text transform="translate(454.2,704.2) scale(0.945,1)" font-size="32.3" font-weight="bold" font-style="normal" text-anchor="middle">-5000</text>
<line x1="511.92" y1="658.6" x2="511.92" y2="664.62" stroke="#000" stroke-width="2.4" stroke-linecap="butt"/>
<line x1="569.65" y1="658.6" x2="569.65" y2="671.5" stroke="#000" stroke-width="2.4" stroke-linecap="butt"/>
<text transform="translate(569.65,704.2) scale(0.945,1)" font-size="32.3" font-weight="bold" font-style="normal" text-anchor="middle">0</text>
<line x1="627.38" y1="658.6" x2="627.38" y2="664.62" stroke="#000" stroke-width="2.4" stroke-linecap="butt"/>
<line x1="685.1" y1="658.6" x2="685.1" y2="671.5" stroke="#000" stroke-width="2.4" stroke-linecap="butt"/>
<text transform="translate(685.1,704.2) scale(0.945,1)" font-size="32.3" font-weight="bold" font-style="normal" text-anchor="middle">5000</text>
<line x1="742.83" y1="658.6" x2="742.83" y2="664.62" stroke="#000" stroke-width="2.4" stroke-linecap="butt"/>
<line x1="800.55" y1="658.6" x2="800.55" y2="671.5" stroke="#000" stroke-width="2.4" stroke-linecap="butt"/>
<text transform="translate(800.55,704.2) scale(0.945,1)" font-size="32.3" font-weight="bold" font-style="normal" text-anchor="middle">10000</text>
<line x1="858.27" y1="658.6" x2="858.27" y2="664.62" stroke="#000" stroke-width="2.4" stroke-linecap="butt"/>
<line x1="916" y1="658.6" x2="916" y2="671.5" stroke="#000" stroke-width="2.4" stroke-linecap="butt"/>
<text transform="translate(916,704.2) scale(0.945,1)" font-size="32.3" font-weight="bold" font-style="normal" text-anchor="middle">15000</text>
<line x1="973.72" y1="658.6" x2="973.72" y2="664.62" stroke="#000" stroke-width="2.4" stroke-linecap="butt"/>
<text transform="translate(569.65,759.2) scale(0.965,1)" font-size="35" font-weight="bold" font-style="normal" text-anchor="middle">Magnetic Field (Oe)</text>
<g transform="translate(38.3,400) rotate(-90)">
<text transform="translate(0,0) scale(0.92,1)" font-size="36" font-weight="bold" font-style="italic">M</text>
<text transform="translate(28.6,8.5)" font-size="24.5" font-weight="normal" font-style="normal" stroke="#000" stroke-width="0.9">s</text>
<text transform="translate(50.2,0) scale(0.985,1)" font-size="34" font-weight="bold" font-style="normal">(emu/g)</text>
</g>
<text x="2.5" y="41.5" font-size="36" font-weight="bold" font-style="normal" text-anchor="start">(a)</text>
</g>
<g id="panel-b">
<line x1="1591.6" y1="4.8" x2="1591.6" y2="656.3" stroke="#000" stroke-width="1.9" stroke-linecap="butt"/>
<line x1="1187.3" y1="330.7" x2="1996.1" y2="330.7" stroke="#000" stroke-width="1.9" stroke-linecap="butt"/>
<g fill="none" stroke-linejoin="round" stroke-linecap="round">
<path d="M1245.1,462.71 L1250.1,462.69 L1255.1,462.68 L1260.1,462.66 L1265.1,462.63 L1270.1,462.59 L1275.1,462.54 L1280.1,462.49 L1285.1,462.43 L1290.1,462.37 L1295.1,462.3 L1300.1,462.23 L1305.1,462.15 L1310.1,462.07 L1315.1,461.99 L1320.1,461.9 L1325.1,461.82 L1330.1,461.73 L1335.1,461.63 L1340.1,461.53 L1345.1,461.41 L1350.1,461.29 L1355.1,461.14 L1360.1,460.99 L1365.1,460.82 L1370.1,460.64 L1375.1,460.45 L1380.1,460.24 L1385.1,460.01 L1390.1,459.78 L1395.1,459.52 L1400.1,459.25 L1405.1,458.92 L1410.1,458.49 L1415.1,458 L1420.1,457.5 L1425.1,457.01 L1430.1,456.52 L1435.1,456.02 L1440.1,455.49 L1445.1,454.93 L1450.1,454.32 L1455.1,453.66 L1460.1,452.94 L1465.1,452.17 L1470.1,451.34 L1475.1,450.48 L1480.1,449.58 L1482.1,449.21 L1483.1,449.02 L1484.1,448.83 L1485.1,448.64 L1486.1,448.44 L1487.1,448.24 L1488.1,448.04 L1489.1,447.83 L1490.1,447.62 L1491.1,447.41 L1492.1,447.2 L1493.1,446.98 L1494.1,446.77 L1495.1,446.55 L1496.1,446.33 L1497.1,446.1 L1498.1,445.88 L1499.1,445.65 L1500.1,445.43 L1501.1,445.2 L1502.1,444.96 L1503.1,444.73 L1504.1,444.49 L1505.1,444.24 L1506.1,444 L1507.1,443.75 L1508.1,443.49 L1509.1,443.24 L1510.1,442.98 L1511.1,442.72 L1512.1,442.46 L1513.1,442.2 L1514.1,441.94 L1515.1,441.67 L1516.1,441.41 L1517.1,441.13 L1518.1,440.86 L1519.1,440.57 L1520.1,440.28 L1521.1,439.99 L1522.1,439.69 L1523.1,439.38 L1524.1,439.07 L1525.1,438.75 L1526.1,438.42 L1527.1,438.09 L1528.1,437.75 L1529.1,437.4 L1530.1,437.05 L1531.1,436.69 L1532.1,436.32 L1533.1,435.95 L1534.1,435.56 L1535.1,435.17 L1536.1,434.77 L1537.1,434.37 L1538.1,433.96 L1539.1,433.54 L1540.1,433.12 L1541.1,432.7 L1542.1,432.28 L1543.1,431.86 L1544.1,431.43 L1545.1,430.98 L1546.1,430.51 L1547.1,430.01 L1548.1,429.46 L1549.1,428.85 L1550.1,428.16 L1551.1,427.34 L1552.1,426.35 L1553.1,425.12 L1554.1,423.61 L1555.1,421.82 L1556.1,419.78 L1557.1,417.55 L1558.1,415.18 L1559.1,412.73 L1560.1,410.23 L1561.1,407.73 L1562.1,405.24 L1563.1,402.75 L1564.1,400.25 L1565.1,397.76 L1566.1,395.25 L1567.1,392.74 L1568.1,390.22 L1569.1,387.69 L1570.1,385.16 L1571.1,382.63 L1572.1,380.1 L1573.1,377.56 L1574.1,375.03 L1575.1,372.5 L1576.1,369.97 L1577.1,367.44 L1578.1,364.91 L1579.1,362.38 L1580.1,359.85 L1581.1,357.33 L1582.1,354.79 L1583.1,352.26 L1584.1,349.73 L1585.1,347.2 L1586.1,344.66 L1587.1,342.12 L1588.1,339.59 L1589.1,337.05 L1590.1,334.51 L1591.1,331.97 L1592.1,329.43" stroke="#1c1c1c" stroke-width="1.6"/>
<path d="M1591.1,331.97 L1592.1,329.43 L1593.1,326.89 L1594.1,324.35 L1595.1,321.81 L1596.1,319.28 L1597.1,316.74 L1598.1,314.2 L1599.1,311.67 L1600.1,309.14 L1601.1,306.61 L1602.1,304.07 L1603.1,301.55 L1604.1,299.02 L1605.1,296.49 L1606.1,293.96 L1607.1,291.43 L1608.1,288.9 L1609.1,286.37 L1610.1,283.84 L1611.1,281.3 L1612.1,278.77 L1613.1,276.24 L1614.1,273.71 L1615.1,271.18 L1616.1,268.66 L1617.1,266.15 L1618.1,263.64 L1619.1,261.15 L1620.1,258.65 L1621.1,256.16 L1622.1,253.67 L1623.1,251.17 L1624.1,248.67 L1625.1,246.22 L1626.1,243.85 L1627.1,241.62 L1628.1,239.58 L1629.1,237.79 L1630.1,236.28 L1631.1,235.05 L1632.1,234.06 L1633.1,233.24 L1634.1,232.55 L1635.1,231.94 L1636.1,231.39 L1637.1,230.89 L1638.1,230.42 L1639.1,229.97 L1640.1,229.54 L1641.1,229.12 L1642.1,228.7 L1643.1,228.28 L1644.1,227.86 L1645.1,227.44 L1646.1,227.03 L1647.1,226.63 L1648.1,226.23 L1649.1,225.84 L1650.1,225.45 L1651.1,225.08 L1652.1,224.71 L1653.1,224.35 L1654.1,224 L1655.1,223.65 L1656.1,223.31 L1657.1,222.98 L1658.1,222.65 L1659.1,222.33 L1660.1,222.02 L1661.1,221.71 L1662.1,221.41 L1663.1,221.12 L1664.1,220.83 L1665.1,220.54 L1666.1,220.27 L1667.1,219.99 L1668.1,219.73 L1669.1,219.46 L1670.1,219.2 L1671.1,218.94 L1672.1,218.68 L1673.1,218.42 L1674.1,218.16 L1675.1,217.91 L1676.1,217.65 L1677.1,217.4 L1678.1,217.16 L1679.1,216.91 L1680.1,216.67 L1681.1,216.44 L1682.1,216.2 L1683.1,215.97 L1684.1,215.75 L1685.1,215.52 L1686.1,215.3 L1687.1,215.07 L1688.1,214.85 L1689.1,214.63 L1690.1,214.42 L1691.1,214.2 L1692.1,213.99 L1693.1,213.78 L1694.1,213.57 L1695.1,213.36 L1696.1,213.16 L1697.1,212.96 L1698.1,212.76 L1699.1,212.57 L1700.1,212.38 L1701.1,212.19 L1705.1,211.46 L1710.1,210.57 L1715.1,209.72 L1720.1,208.92 L1725.1,208.16 L1730.1,207.47 L1735.1,206.83 L1740.1,206.24 L1745.1,205.7 L1750.1,205.18 L1755.1,204.68 L1760.1,204.19 L1765.1,203.7 L1770.1,203.2 L1775.1,202.72 L1780.1,202.33 L1785.1,202.04 L1790.1,201.77 L1795.1,201.53 L1800.1,201.29 L1805.1,201.08 L1810.1,200.87 L1815.1,200.68 L1820.1,200.51 L1825.1,200.35 L1830.1,200.2 L1835.1,200.06 L1840.1,199.94 L1845.1,199.83 L1850.1,199.73 L1855.1,199.64 L1860.1,199.55 L1865.1,199.46 L1870.1,199.38 L1875.1,199.3 L1880.1,199.22 L1885.1,199.14 L1890.1,199.07 L1895.1,199 L1900.1,198.94 L1905.1,198.89 L1910.1,198.84 L1915.1,198.79 L1920.1,198.76 L1925.1,198.73 L1930.1,198.71 L1935.1,198.7 L1938.1,198.69" stroke="#1c1c1c" stroke-width="1.7"/>
<path d="M1245.1,461.2 L1250.1,461.19 L1255.1,461.18 L1260.1,461.16 L1265.1,461.14 L1270.1,461.12 L1275.1,461.09 L1280.1,461.07 L1285.1,461.04 L1290.1,461.01 L1295.1,460.97 L1300.1,460.94 L1305.1,460.91 L1310.1,460.87 L1315.1,460.83 L1320.1,460.79 L1325.1,460.75 L1330.1,460.71 L1335.1,460.67 L1340.1,460.63 L1345.1,460.58 L1350.1,460.53 L1355.1,460.47 L1360.1,460.41 L1365.1,460.35 L1370.1,460.29 L1375.1,460.22 L1380.1,460.15 L1385.1,460.07 L1390.1,459.99 L1395.1,459.91 L1400.1,459.82 L1405.1,459.72 L1410.1,459.62 L1415.1,459.51 L1420.1,459.39 L1425.1,459.26 L1430.1,459.12 L1435.1,458.97 L1440.1,458.8 L1445.1,458.63 L1450.1,458.44 L1455.1,458.23 L1460.1,457.98 L1465.1,457.7 L1470.1,457.39 L1475.1,457.05 L1480.1,456.67 L1482.1,456.51 L1483.1,456.43 L1484.1,456.34 L1485.1,456.25 L1486.1,456.15 L1487.1,456.05 L1488.1,455.94 L1489.1,455.84 L1490.1,455.73 L1491.1,455.62 L1492.1,455.51 L1493.1,455.4 L1494.1,455.28 L1495.1,455.17 L1496.1,455.06 L1497.1,454.94 L1498.1,454.83 L1499.1,454.72 L1500.1,454.61 L1501.1,454.5 L1502.1,454.4 L1503.1,454.29 L1504.1,454.19 L1505.1,454.09 L1506.1,453.98 L1507.1,453.88 L1508.1,453.77 L1509.1,453.65 L1510.1,453.53 L1511.1,453.4 L1512.1,453.26 L1513.1,453.12 L1514.1,452.97 L1515.1,452.81 L1516.1,452.64 L1517.1,452.46 L1518.1,452.28 L1519.1,452.09 L1520.1,451.89 L1521.1,451.68 L1522.1,451.47 L1523.1,451.24 L1524.1,451.01 L1525.1,450.76 L1526.1,450.51 L1527.1,450.24 L1528.1,449.96 L1529.1,449.68 L1530.1,449.39 L1531.1,449.09 L1532.1,448.78 L1533.1,448.47 L1534.1,448.15 L1535.1,447.81 L1536.1,447.46 L1537.1,447.1 L1538.1,446.71 L1539.1,446.3 L1540.1,445.85 L1541.1,445.36 L1542.1,444.82 L1543.1,444.24 L1544.1,443.61 L1545.1,442.96 L1546.1,442.29 L1547.1,441.6 L1548.1,440.88 L1549.1,440.07 L1550.1,439.09 L1551.1,437.85 L1552.1,436.31 L1553.1,434.46 L1554.1,432.36 L1555.1,430.08 L1556.1,427.68 L1557.1,425.19 L1558.1,422.64 L1559.1,420.05 L1560.1,417.42 L1561.1,414.76 L1562.1,412.06 L1563.1,409.33 L1564.1,406.58 L1565.1,403.81 L1566.1,401.03 L1567.1,398.23 L1568.1,395.44 L1569.1,392.65 L1570.1,389.87 L1571.1,387.1 L1572.1,384.34 L1573.1,381.58 L1574.1,378.83 L1575.1,376.08 L1576.1,373.33 L1577.1,370.58 L1578.1,367.83 L1579.1,365.08 L1580.1,362.33 L1581.1,359.58 L1582.1,356.83 L1583.1,354.08 L1584.1,351.33 L1585.1,348.58 L1586.1,345.83 L1587.1,343.08 L1588.1,340.33 L1589.1,337.57 L1590.1,334.82 L1591.1,332.07 L1592.1,329.32" stroke="#ee1c1c" stroke-width="2.1"/>
<path d="M1591.1,332.07 L1592.1,329.32 L1593.1,326.57 L1594.1,323.82 L1595.1,321.07 L1596.1,318.32 L1597.1,315.57 L1598.1,312.82 L1599.1,310.07 L1600.1,307.32 L1601.1,304.57 L1602.1,301.82 L1603.1,299.07 L1604.1,296.32 L1605.1,293.57 L1606.1,290.82 L1607.1,288.07 L1608.1,285.32 L1609.1,282.57 L1610.1,279.82 L1611.1,277.06 L1612.1,274.3 L1613.1,271.53 L1614.1,268.75 L1615.1,265.96 L1616.1,263.17 L1617.1,260.37 L1618.1,257.59 L1619.1,254.82 L1620.1,252.07 L1621.1,249.34 L1622.1,246.64 L1623.1,243.98 L1624.1,241.35 L1625.1,238.76 L1626.1,236.21 L1627.1,233.72 L1628.1,231.32 L1629.1,229.04 L1630.1,226.94 L1631.1,225.09 L1632.1,223.55 L1633.1,222.31 L1634.1,221.33 L1635.1,220.52 L1636.1,219.8 L1637.1,219.11 L1638.1,218.44 L1639.1,217.79 L1640.1,217.16 L1641.1,216.58 L1642.1,216.04 L1643.1,215.55 L1644.1,215.1 L1645.1,214.69 L1646.1,214.3 L1647.1,213.94 L1648.1,213.59 L1649.1,213.25 L1650.1,212.93 L1651.1,212.62 L1652.1,212.31 L1653.1,212.01 L1654.1,211.72 L1655.1,211.44 L1656.1,211.16 L1657.1,210.89 L1658.1,210.64 L1659.1,210.39 L1660.1,210.16 L1661.1,209.93 L1662.1,209.72 L1663.1,209.51 L1664.1,209.31 L1665.1,209.12 L1666.1,208.94 L1667.1,208.76 L1668.1,208.59 L1669.1,208.43 L1670.1,208.28 L1671.1,208.14 L1672.1,208 L1673.1,207.87 L1674.1,207.75 L1675.1,207.63 L1676.1,207.52 L1677.1,207.42 L1678.1,207.31 L1679.1,207.21 L1680.1,207.11 L1681.1,207 L1682.1,206.9 L1683.1,206.79 L1684.1,206.68 L1685.1,206.57 L1686.1,206.46 L1687.1,206.34 L1688.1,206.23 L1689.1,206.12 L1690.1,206 L1691.1,205.89 L1692.1,205.78 L1693.1,205.67 L1694.1,205.56 L1695.1,205.46 L1696.1,205.35 L1697.1,205.25 L1698.1,205.15 L1699.1,205.06 L1700.1,204.97 L1701.1,204.89 L1705.1,204.57 L1710.1,204.21 L1715.1,203.88 L1720.1,203.58 L1725.1,203.32 L1730.1,203.08 L1735.1,202.89 L1740.1,202.7 L1745.1,202.53 L1750.1,202.37 L1755.1,202.22 L1760.1,202.09 L1765.1,201.96 L1770.1,201.84 L1775.1,201.74 L1780.1,201.64 L1785.1,201.55 L1790.1,201.46 L1795.1,201.38 L1800.1,201.3 L1805.1,201.23 L1810.1,201.15 L1815.1,201.09 L1820.1,201.02 L1825.1,200.96 L1830.1,200.91 L1835.1,200.85 L1840.1,200.8 L1845.1,200.76 L1850.1,200.71 L1855.1,200.67 L1860.1,200.63 L1865.1,200.59 L1870.1,200.55 L1875.1,200.52 L1880.1,200.48 L1885.1,200.45 L1890.1,200.41 L1895.1,200.38 L1900.1,200.35 L1905.1,200.32 L1910.1,200.3 L1915.1,200.27 L1920.1,200.25 L1925.1,200.23 L1930.1,200.22 L1935.1,200.21 L1938.1,200.2" stroke="#ee1c1c" stroke-width="2.2"/>
<path d="M1245.1,526.21 L1250.1,526.14 L1255.1,526.08 L1260.1,526 L1265.1,525.93 L1270.1,525.84 L1275.1,525.75 L1280.1,525.65 L1285.1,525.55 L1290.1,525.44 L1295.1,525.33 L1300.1,525.21 L1305.1,525.09 L1310.1,524.97 L1315.1,524.84 L1320.1,524.71 L1325.1,524.58 L1330.1,524.44 L1335.1,524.3 L1340.1,524.15 L1345.1,523.99 L1350.1,523.82 L1355.1,523.64 L1360.1,523.45 L1365.1,523.25 L1370.1,523.05 L1375.1,522.84 L1380.1,522.63 L1385.1,522.41 L1390.1,522.19 L1395.1,521.97 L1400.1,521.74 L1405.1,521.52 L1410.1,521.28 L1415.1,521.03 L1420.1,520.76 L1425.1,520.46 L1430.1,520.13 L1435.1,519.77 L1440.1,519.38 L1445.1,518.95 L1450.1,518.47 L1455.1,517.95 L1460.1,517.41 L1465.1,516.84 L1470.1,516.24 L1475.1,515.6 L1480.1,514.94 L1482.1,514.66 L1483.1,514.52 L1484.1,514.38 L1485.1,514.24 L1486.1,514.09 L1487.1,513.95 L1488.1,513.8 L1489.1,513.65 L1490.1,513.5 L1491.1,513.35 L1492.1,513.19 L1493.1,513.04 L1494.1,512.88 L1495.1,512.72 L1496.1,512.55 L1497.1,512.39 L1498.1,512.22 L1499.1,512.05 L1500.1,511.87 L1501.1,511.7 L1502.1,511.52 L1503.1,511.33 L1504.1,511.15 L1505.1,510.96 L1506.1,510.77 L1507.1,510.57 L1508.1,510.37 L1509.1,510.17 L1510.1,509.97 L1511.1,509.76 L1512.1,509.55 L1513.1,509.33 L1514.1,509.12 L1515.1,508.89 L1516.1,508.67 L1517.1,508.44 L1518.1,508.21 L1519.1,507.97 L1520.1,507.73 L1521.1,507.49 L1522.1,507.24 L1523.1,506.98 L1524.1,506.72 L1525.1,506.45 L1526.1,506.17 L1527.1,505.89 L1528.1,505.6 L1529.1,505.3 L1530.1,505 L1531.1,504.69 L1532.1,504.38 L1533.1,504.06 L1534.1,503.74 L1535.1,503.4 L1536.1,503.06 L1537.1,502.71 L1538.1,502.35 L1539.1,501.97 L1540.1,501.58 L1541.1,501.16 L1542.1,500.73 L1543.1,500.27 L1544.1,499.8 L1545.1,499.29 L1546.1,498.77 L1547.1,498.22 L1548.1,497.65 L1549.1,497.05 L1550.1,496.43 L1551.1,495.79 L1552.1,495.13 L1553.1,494.45 L1554.1,493.76 L1555.1,493.05 L1556.1,492.33 L1557.1,491.6 L1558.1,490.84 L1559.1,490.05 L1560.1,489.24 L1561.1,488.39 L1562.1,487.5 L1563.1,486.58 L1564.1,485.63 L1565.1,484.63 L1566.1,483.57 L1567.1,482.45 L1568.1,481.25 L1569.1,479.93 L1570.1,478.49 L1571.1,476.89 L1572.1,475.11 L1573.1,473.15 L1574.1,470.99 L1575.1,468.62 L1576.1,465.98 L1577.1,463.02 L1578.1,459.63 L1579.1,455.7 L1580.1,451.02 L1581.1,445.32 L1582.1,438.26 L1583.1,429.63 L1584.1,419.49 L1585.1,408.2 L1586.1,396.28 L1587.1,384.15 L1588.1,372.04 L1589.1,360.08 L1590.1,348.26 L1591.1,336.54 L1592.1,324.86" stroke="#0a50e0" stroke-width="2.2"/>
<path d="M1591.1,336.54 L1592.1,324.86 L1593.1,313.14 L1594.1,301.32 L1595.1,289.36 L1596.1,277.25 L1597.1,265.12 L1598.1,253.2 L1599.1,241.91 L1600.1,231.77 L1601.1,223.14 L1602.1,216.08 L1603.1,210.38 L1604.1,205.7 L1605.1,201.77 L1606.1,198.38 L1607.1,195.42 L1608.1,192.78 L1609.1,190.41 L1610.1,188.25 L1611.1,186.29 L1612.1,184.51 L1613.1,182.91 L1614.1,181.47 L1615.1,180.15 L1616.1,178.95 L1617.1,177.83 L1618.1,176.77 L1619.1,175.77 L1620.1,174.82 L1621.1,173.9 L1622.1,173.01 L1623.1,172.16 L1624.1,171.35 L1625.1,170.56 L1626.1,169.8 L1627.1,169.07 L1628.1,168.35 L1629.1,167.64 L1630.1,166.95 L1631.1,166.27 L1632.1,165.61 L1633.1,164.97 L1634.1,164.35 L1635.1,163.75 L1636.1,163.18 L1637.1,162.63 L1638.1,162.11 L1639.1,161.6 L1640.1,161.13 L1641.1,160.67 L1642.1,160.24 L1643.1,159.82 L1644.1,159.43 L1645.1,159.05 L1646.1,158.69 L1647.1,158.34 L1648.1,158 L1649.1,157.66 L1650.1,157.34 L1651.1,157.02 L1652.1,156.71 L1653.1,156.4 L1654.1,156.1 L1655.1,155.8 L1656.1,155.51 L1657.1,155.23 L1658.1,154.95 L1659.1,154.68 L1660.1,154.42 L1661.1,154.16 L1662.1,153.91 L1663.1,153.67 L1664.1,153.43 L1665.1,153.19 L1666.1,152.96 L1667.1,152.73 L1668.1,152.51 L1669.1,152.28 L1670.1,152.07 L1671.1,151.85 L1672.1,151.64 L1673.1,151.43 L1674.1,151.23 L1675.1,151.03 L1676.1,150.83 L1677.1,150.63 L1678.1,150.44 L1679.1,150.25 L1680.1,150.07 L1681.1,149.88 L1682.1,149.7 L1683.1,149.53 L1684.1,149.35 L1685.1,149.18 L1686.1,149.01 L1687.1,148.85 L1688.1,148.68 L1689.1,148.52 L1690.1,148.36 L1691.1,148.21 L1692.1,148.05 L1693.1,147.9 L1694.1,147.75 L1695.1,147.6 L1696.1,147.45 L1697.1,147.31 L1698.1,147.16 L1699.1,147.02 L1700.1,146.88 L1701.1,146.74 L1705.1,146.19 L1710.1,145.54 L1715.1,144.91 L1720.1,144.33 L1725.1,143.77 L1730.1,143.24 L1735.1,142.73 L1740.1,142.27 L1745.1,141.86 L1750.1,141.48 L1755.1,141.14 L1760.1,140.82 L1765.1,140.53 L1770.1,140.27 L1775.1,140.02 L1780.1,139.79 L1785.1,139.57 L1790.1,139.34 L1795.1,139.12 L1800.1,138.9 L1805.1,138.69 L1810.1,138.48 L1815.1,138.27 L1820.1,138.07 L1825.1,137.88 L1830.1,137.69 L1835.1,137.51 L1840.1,137.35 L1845.1,137.19 L1850.1,137.04 L1855.1,136.9 L1860.1,136.77 L1865.1,136.64 L1870.1,136.51 L1875.1,136.38 L1880.1,136.26 L1885.1,136.14 L1890.1,136.03 L1895.1,135.92 L1900.1,135.81 L1905.1,135.71 L1910.1,135.61 L1915.1,135.53 L1920.1,135.44 L1925.1,135.37 L1930.1,135.3 L1935.1,135.23 L1938.1,135.19" stroke="#0a50e0" stroke-width="2.4"/>
<path d="M1245.1,508.6 L1250.1,508.57 L1255.1,508.53 L1260.1,508.49 L1265.1,508.45 L1270.1,508.41 L1275.1,508.36 L1280.1,508.31 L1285.1,508.26 L1290.1,508.21 L1295.1,508.15 L1300.1,508.1 L1305.1,508.04 L1310.1,507.98 L1315.1,507.91 L1320.1,507.85 L1325.1,507.79 L1330.1,507.72 L1335.1,507.65 L1340.1,507.58 L1345.1,507.51 L1350.1,507.44 L1355.1,507.37 L1360.1,507.29 L1365.1,507.21 L1370.1,507.12 L1375.1,507.03 L1380.1,506.93 L1385.1,506.83 L1390.1,506.72 L1395.1,506.6 L1400.1,506.48 L1405.1,506.33 L1410.1,506.17 L1415.1,505.97 L1420.1,505.75 L1425.1,505.47 L1430.1,505.14 L1435.1,504.76 L1440.1,504.38 L1445.1,504 L1450.1,503.62 L1455.1,503.22 L1460.1,502.79 L1465.1,502.32 L1470.1,501.82 L1475.1,501.26 L1480.1,500.63 L1482.1,500.35 L1483.1,500.21 L1484.1,500.06 L1485.1,499.9 L1486.1,499.75 L1487.1,499.58 L1488.1,499.41 L1489.1,499.24 L1490.1,499.06 L1491.1,498.88 L1492.1,498.69 L1493.1,498.49 L1494.1,498.29 L1495.1,498.08 L1496.1,497.87 L1497.1,497.65 L1498.1,497.42 L1499.1,497.18 L1500.1,496.93 L1501.1,496.67 L1502.1,496.4 L1503.1,496.11 L1504.1,495.8 L1505.1,495.47 L1506.1,495.13 L1507.1,494.76 L1508.1,494.39 L1509.1,493.99 L1510.1,493.59 L1511.1,493.17 L1512.1,492.72 L1513.1,492.26 L1514.1,491.77 L1515.1,491.26 L1516.1,490.73 L1517.1,490.18 L1518.1,489.62 L1519.1,489.05 L1520.1,488.45 L1521.1,487.84 L1522.1,487.21 L1523.1,486.56 L1524.1,485.89 L1525.1,485.2 L1526.1,484.49 L1527.1,483.76 L1528.1,483.01 L1529.1,482.24 L1530.1,481.48 L1531.1,480.7 L1532.1,479.93 L1533.1,479.15 L1534.1,478.36 L1535.1,477.57 L1536.1,476.75 L1537.1,475.9 L1538.1,475.02 L1539.1,474.09 L1540.1,473.1 L1541.1,472.06 L1542.1,470.97 L1543.1,469.82 L1544.1,468.63 L1545.1,467.41 L1546.1,466.15 L1547.1,464.87 L1548.1,463.55 L1549.1,462.19 L1550.1,460.8 L1551.1,459.39 L1552.1,457.94 L1553.1,456.48 L1554.1,454.99 L1555.1,453.48 L1556.1,451.94 L1557.1,450.36 L1558.1,448.74 L1559.1,447.06 L1560.1,445.32 L1561.1,443.53 L1562.1,441.66 L1563.1,439.73 L1564.1,437.72 L1565.1,435.61 L1566.1,433.36 L1567.1,430.95 L1568.1,428.32 L1569.1,425.41 L1570.1,422.18 L1571.1,418.61 L1572.1,414.73 L1573.1,410.62 L1574.1,406.37 L1575.1,402.08 L1576.1,397.79 L1577.1,393.53 L1578.1,389.27 L1579.1,385.02 L1580.1,380.75 L1581.1,376.46 L1582.1,372.16 L1583.1,367.85 L1584.1,363.52 L1585.1,359.18 L1586.1,354.84 L1587.1,350.47 L1588.1,346.1 L1589.1,341.71 L1590.1,337.31 L1591.1,332.91 L1592.1,328.49" stroke="#0f9c50" stroke-width="2.1"/>
<path d="M1591.1,332.91 L1592.1,328.49 L1593.1,324.09 L1594.1,319.69 L1595.1,315.3 L1596.1,310.93 L1597.1,306.56 L1598.1,302.22 L1599.1,297.88 L1600.1,293.55 L1601.1,289.24 L1602.1,284.94 L1603.1,280.65 L1604.1,276.38 L1605.1,272.13 L1606.1,267.87 L1607.1,263.61 L1608.1,259.32 L1609.1,255.03 L1610.1,250.78 L1611.1,246.67 L1612.1,242.79 L1613.1,239.22 L1614.1,235.99 L1615.1,233.08 L1616.1,230.45 L1617.1,228.04 L1618.1,225.79 L1619.1,223.68 L1620.1,221.67 L1621.1,219.74 L1622.1,217.87 L1623.1,216.08 L1624.1,214.34 L1625.1,212.66 L1626.1,211.04 L1627.1,209.46 L1628.1,207.92 L1629.1,206.41 L1630.1,204.92 L1631.1,203.46 L1632.1,202.01 L1633.1,200.6 L1634.1,199.21 L1635.1,197.85 L1636.1,196.53 L1637.1,195.25 L1638.1,193.99 L1639.1,192.77 L1640.1,191.58 L1641.1,190.43 L1642.1,189.34 L1643.1,188.3 L1644.1,187.31 L1645.1,186.38 L1646.1,185.5 L1647.1,184.65 L1648.1,183.83 L1649.1,183.04 L1650.1,182.25 L1651.1,181.47 L1652.1,180.7 L1653.1,179.92 L1654.1,179.16 L1655.1,178.39 L1656.1,177.64 L1657.1,176.91 L1658.1,176.2 L1659.1,175.51 L1660.1,174.84 L1661.1,174.19 L1662.1,173.56 L1663.1,172.95 L1664.1,172.35 L1665.1,171.78 L1666.1,171.22 L1667.1,170.67 L1668.1,170.14 L1669.1,169.63 L1670.1,169.14 L1671.1,168.68 L1672.1,168.23 L1673.1,167.81 L1674.1,167.41 L1675.1,167.01 L1676.1,166.64 L1677.1,166.27 L1678.1,165.93 L1679.1,165.6 L1680.1,165.29 L1681.1,165 L1682.1,164.73 L1683.1,164.47 L1684.1,164.22 L1685.1,163.98 L1686.1,163.75 L1687.1,163.53 L1688.1,163.32 L1689.1,163.11 L1690.1,162.91 L1691.1,162.71 L1692.1,162.52 L1693.1,162.34 L1694.1,162.16 L1695.1,161.99 L1696.1,161.82 L1697.1,161.65 L1698.1,161.5 L1699.1,161.34 L1700.1,161.19 L1701.1,161.05 L1705.1,160.51 L1710.1,159.91 L1715.1,159.37 L1720.1,158.89 L1725.1,158.43 L1730.1,158.02 L1735.1,157.63 L1740.1,157.25 L1745.1,156.87 L1750.1,156.49 L1755.1,156.12 L1760.1,155.81 L1765.1,155.56 L1770.1,155.35 L1775.1,155.16 L1780.1,155.01 L1785.1,154.87 L1790.1,154.75 L1795.1,154.64 L1800.1,154.53 L1805.1,154.43 L1810.1,154.34 L1815.1,154.25 L1820.1,154.16 L1825.1,154.08 L1830.1,154 L1835.1,153.93 L1840.1,153.86 L1845.1,153.79 L1850.1,153.72 L1855.1,153.65 L1860.1,153.59 L1865.1,153.52 L1870.1,153.46 L1875.1,153.4 L1880.1,153.34 L1885.1,153.28 L1890.1,153.23 L1895.1,153.17 L1900.1,153.12 L1905.1,153.07 L1910.1,153.02 L1915.1,152.97 L1920.1,152.93 L1925.1,152.89 L1930.1,152.85 L1935.1,152.82 L1938.1,152.8" stroke="#0f9c50" stroke-width="2.2"/>
<path d="M1245.1,522.91 L1250.1,522.85 L1255.1,522.8 L1260.1,522.73 L1265.1,522.66 L1270.1,522.57 L1275.1,522.48 L1280.1,522.38 L1285.1,522.27 L1290.1,522.15 L1295.1,522.03 L1300.1,521.9 L1305.1,521.77 L1310.1,521.63 L1315.1,521.49 L1320.1,521.34 L1325.1,521.2 L1330.1,521.05 L1335.1,520.89 L1340.1,520.72 L1345.1,520.54 L1350.1,520.34 L1355.1,520.14 L1360.1,519.92 L1365.1,519.69 L1370.1,519.44 L1375.1,519.19 L1380.1,518.93 L1385.1,518.65 L1390.1,518.36 L1395.1,518.07 L1400.1,517.76 L1405.1,517.43 L1410.1,517.05 L1415.1,516.63 L1420.1,516.19 L1425.1,515.73 L1430.1,515.24 L1435.1,514.7 L1440.1,514.12 L1445.1,513.47 L1450.1,512.75 L1455.1,511.95 L1460.1,511.08 L1465.1,510.12 L1470.1,509.05 L1475.1,507.87 L1480.1,506.57 L1482.1,506 L1483.1,505.7 L1484.1,505.4 L1485.1,505.09 L1486.1,504.76 L1487.1,504.43 L1488.1,504.09 L1489.1,503.75 L1490.1,503.39 L1491.1,503.04 L1492.1,502.67 L1493.1,502.3 L1494.1,501.92 L1495.1,501.54 L1496.1,501.16 L1497.1,500.77 L1498.1,500.38 L1499.1,499.99 L1500.1,499.59 L1501.1,499.19 L1502.1,498.78 L1503.1,498.36 L1504.1,497.93 L1505.1,497.49 L1506.1,497.04 L1507.1,496.58 L1508.1,496.12 L1509.1,495.65 L1510.1,495.17 L1511.1,494.69 L1512.1,494.19 L1513.1,493.67 L1514.1,493.14 L1515.1,492.59 L1516.1,492.01 L1517.1,491.4 L1518.1,490.77 L1519.1,490.11 L1520.1,489.42 L1521.1,488.7 L1522.1,487.97 L1523.1,487.23 L1524.1,486.46 L1525.1,485.67 L1526.1,484.87 L1527.1,484.05 L1528.1,483.22 L1529.1,482.38 L1530.1,481.55 L1531.1,480.73 L1532.1,479.92 L1533.1,479.12 L1534.1,478.32 L1535.1,477.53 L1536.1,476.72 L1537.1,475.88 L1538.1,475 L1539.1,474.08 L1540.1,473.1 L1541.1,472.06 L1542.1,470.97 L1543.1,469.82 L1544.1,468.63 L1545.1,467.41 L1546.1,466.15 L1547.1,464.87 L1548.1,463.55 L1549.1,462.19 L1550.1,460.8 L1551.1,459.39 L1552.1,457.94 L1553.1,456.48 L1554.1,454.99 L1555.1,453.48 L1556.1,451.94 L1557.1,450.36 L1558.1,448.74 L1559.1,447.06 L1560.1,445.32 L1561.1,443.53 L1562.1,441.66 L1563.1,439.73 L1564.1,437.72 L1565.1,435.61 L1566.1,433.36 L1567.1,430.95 L1568.1,428.32 L1569.1,425.41 L1570.1,422.18 L1571.1,418.61 L1572.1,414.73 L1573.1,410.62 L1574.1,406.37 L1575.1,402.08 L1576.1,397.79 L1577.1,393.53 L1578.1,389.27 L1579.1,385.02 L1580.1,380.75 L1581.1,376.46 L1582.1,372.16 L1583.1,367.85 L1584.1,363.52 L1585.1,359.18 L1586.1,354.84 L1587.1,350.47 L1588.1,346.1 L1589.1,341.71 L1590.1,337.31 L1591.1,332.91 L1592.1,328.49" stroke="#b466e8" stroke-width="2.0"/>
<path d="M1591.1,332.91 L1592.1,328.49 L1593.1,324.09 L1594.1,319.69 L1595.1,315.3 L1596.1,310.93 L1597.1,306.56 L1598.1,302.22 L1599.1,297.88 L1600.1,293.55 L1601.1,289.24 L1602.1,284.94 L1603.1,280.65 L1604.1,276.38 L1605.1,272.13 L1606.1,267.87 L1607.1,263.61 L1608.1,259.32 L1609.1,255.03 L1610.1,250.78 L1611.1,246.67 L1612.1,242.79 L1613.1,239.22 L1614.1,235.99 L1615.1,233.08 L1616.1,230.45 L1617.1,228.04 L1618.1,225.79 L1619.1,223.68 L1620.1,221.67 L1621.1,219.74 L1622.1,217.87 L1623.1,216.08 L1624.1,214.34 L1625.1,212.66 L1626.1,211.04 L1627.1,209.46 L1628.1,207.92 L1629.1,206.41 L1630.1,204.92 L1631.1,203.46 L1632.1,202.01 L1633.1,200.6 L1634.1,199.21 L1635.1,197.85 L1636.1,196.53 L1637.1,195.25 L1638.1,193.99 L1639.1,192.77 L1640.1,191.58 L1641.1,190.43 L1642.1,189.34 L1643.1,188.3 L1644.1,187.32 L1645.1,186.4 L1646.1,185.52 L1647.1,184.68 L1648.1,183.87 L1649.1,183.08 L1650.1,182.28 L1651.1,181.48 L1652.1,180.67 L1653.1,179.85 L1654.1,179.02 L1655.1,178.18 L1656.1,177.35 L1657.1,176.53 L1658.1,175.73 L1659.1,174.94 L1660.1,174.17 L1661.1,173.43 L1662.1,172.7 L1663.1,171.98 L1664.1,171.29 L1665.1,170.63 L1666.1,170 L1667.1,169.39 L1668.1,168.81 L1669.1,168.26 L1670.1,167.73 L1671.1,167.21 L1672.1,166.71 L1673.1,166.23 L1674.1,165.75 L1675.1,165.28 L1676.1,164.82 L1677.1,164.36 L1678.1,163.91 L1679.1,163.47 L1680.1,163.04 L1681.1,162.62 L1682.1,162.21 L1683.1,161.81 L1684.1,161.41 L1685.1,161.02 L1686.1,160.63 L1687.1,160.24 L1688.1,159.86 L1689.1,159.48 L1690.1,159.1 L1691.1,158.73 L1692.1,158.36 L1693.1,158.01 L1694.1,157.65 L1695.1,157.31 L1696.1,156.97 L1697.1,156.64 L1698.1,156.31 L1699.1,156 L1700.1,155.7 L1701.1,155.4 L1705.1,154.29 L1710.1,153.04 L1715.1,151.91 L1720.1,150.89 L1725.1,149.96 L1730.1,149.12 L1735.1,148.35 L1740.1,147.66 L1745.1,147.04 L1750.1,146.48 L1755.1,145.96 L1760.1,145.48 L1765.1,145.03 L1770.1,144.6 L1775.1,144.19 L1780.1,143.83 L1785.1,143.51 L1790.1,143.21 L1795.1,142.92 L1800.1,142.64 L1805.1,142.37 L1810.1,142.11 L1815.1,141.86 L1820.1,141.62 L1825.1,141.39 L1830.1,141.18 L1835.1,140.98 L1840.1,140.79 L1845.1,140.61 L1850.1,140.45 L1855.1,140.29 L1860.1,140.14 L1865.1,140 L1870.1,139.85 L1875.1,139.71 L1880.1,139.58 L1885.1,139.45 L1890.1,139.32 L1895.1,139.2 L1900.1,139.09 L1905.1,138.98 L1910.1,138.88 L1915.1,138.79 L1920.1,138.71 L1925.1,138.64 L1930.1,138.58 L1935.1,138.53 L1938.1,138.49" stroke="#b466e8" stroke-width="2.2"/>
<path d="M1245.1,519 L1250.1,518.97 L1255.1,518.93 L1260.1,518.9 L1265.1,518.85 L1270.1,518.81 L1275.1,518.76 L1280.1,518.7 L1285.1,518.64 L1290.1,518.58 L1295.1,518.52 L1300.1,518.46 L1305.1,518.39 L1310.1,518.32 L1315.1,518.25 L1320.1,518.17 L1325.1,518.1 L1330.1,518.02 L1335.1,517.95 L1340.1,517.87 L1345.1,517.78 L1350.1,517.7 L1355.1,517.61 L1360.1,517.51 L1365.1,517.41 L1370.1,517.3 L1375.1,517.19 L1380.1,517.07 L1385.1,516.94 L1390.1,516.79 L1395.1,516.64 L1400.1,516.48 L1405.1,516.29 L1410.1,516.05 L1415.1,515.77 L1420.1,515.46 L1425.1,515.13 L1430.1,514.76 L1435.1,514.35 L1440.1,513.89 L1445.1,513.37 L1450.1,512.76 L1455.1,512.08 L1460.1,511.35 L1465.1,510.56 L1470.1,509.71 L1475.1,508.76 L1480.1,507.72 L1482.1,507.26 L1483.1,507.03 L1484.1,506.78 L1485.1,506.54 L1486.1,506.28 L1487.1,506.02 L1488.1,505.76 L1489.1,505.48 L1490.1,505.2 L1491.1,504.92 L1492.1,504.63 L1493.1,504.33 L1494.1,504.02 L1495.1,503.71 L1496.1,503.39 L1497.1,503.06 L1498.1,502.73 L1499.1,502.39 L1500.1,502.04 L1501.1,501.68 L1502.1,501.3 L1503.1,500.91 L1504.1,500.5 L1505.1,500.07 L1506.1,499.63 L1507.1,499.18 L1508.1,498.72 L1509.1,498.25 L1510.1,497.77 L1511.1,497.29 L1512.1,496.81 L1513.1,496.32 L1514.1,495.82 L1515.1,495.32 L1516.1,494.8 L1517.1,494.27 L1518.1,493.72 L1519.1,493.15 L1520.1,492.57 L1521.1,491.96 L1522.1,491.33 L1523.1,490.67 L1524.1,489.98 L1525.1,489.26 L1526.1,488.52 L1527.1,487.75 L1528.1,486.95 L1529.1,486.13 L1530.1,485.27 L1531.1,484.39 L1532.1,483.46 L1533.1,482.49 L1534.1,481.45 L1535.1,480.35 L1536.1,479.15 L1537.1,477.86 L1538.1,476.46 L1539.1,474.96 L1540.1,473.35 L1541.1,471.66 L1542.1,469.88 L1543.1,468.01 L1544.1,466.04 L1545.1,463.98 L1546.1,461.81 L1547.1,459.54 L1548.1,457.2 L1549.1,454.81 L1550.1,452.37 L1551.1,449.92 L1552.1,447.45 L1553.1,444.97 L1554.1,442.47 L1555.1,439.94 L1556.1,437.38 L1557.1,434.79 L1558.1,432.16 L1559.1,429.48 L1560.1,426.77 L1561.1,424.01 L1562.1,421.2 L1563.1,418.33 L1564.1,415.41 L1565.1,412.44 L1566.1,409.43 L1567.1,406.37 L1568.1,403.29 L1569.1,400.17 L1570.1,397.04 L1571.1,393.9 L1572.1,390.76 L1573.1,387.62 L1574.1,384.49 L1575.1,381.37 L1576.1,378.27 L1577.1,375.18 L1578.1,372.11 L1579.1,369.03 L1580.1,365.97 L1581.1,362.9 L1582.1,359.83 L1583.1,356.77 L1584.1,353.7 L1585.1,350.63 L1586.1,347.57 L1587.1,344.5 L1588.1,341.43 L1589.1,338.37 L1590.1,335.3 L1591.1,332.23 L1592.1,329.17" stroke="#c8940a" stroke-width="2.3"/>
<path d="M1591.1,332.23 L1592.1,329.17 L1593.1,326.1 L1594.1,323.03 L1595.1,319.97 L1596.1,316.9 L1597.1,313.83 L1598.1,310.77 L1599.1,307.7 L1600.1,304.63 L1601.1,301.57 L1602.1,298.5 L1603.1,295.43 L1604.1,292.37 L1605.1,289.29 L1606.1,286.22 L1607.1,283.13 L1608.1,280.03 L1609.1,276.91 L1610.1,273.78 L1611.1,270.64 L1612.1,267.5 L1613.1,264.36 L1614.1,261.23 L1615.1,258.11 L1616.1,255.03 L1617.1,251.97 L1618.1,248.96 L1619.1,245.99 L1620.1,243.07 L1621.1,240.2 L1622.1,237.39 L1623.1,234.63 L1624.1,231.92 L1625.1,229.24 L1626.1,226.61 L1627.1,224.02 L1628.1,221.46 L1629.1,218.93 L1630.1,216.43 L1631.1,213.95 L1632.1,211.48 L1633.1,209.03 L1634.1,206.59 L1635.1,204.2 L1636.1,201.86 L1637.1,199.59 L1638.1,197.42 L1639.1,195.36 L1640.1,193.39 L1641.1,191.52 L1642.1,189.74 L1643.1,188.05 L1644.1,186.44 L1645.1,184.94 L1646.1,183.54 L1647.1,182.25 L1648.1,181.05 L1649.1,179.95 L1650.1,178.91 L1651.1,177.94 L1652.1,177.01 L1653.1,176.13 L1654.1,175.27 L1655.1,174.45 L1656.1,173.65 L1657.1,172.88 L1658.1,172.14 L1659.1,171.42 L1660.1,170.73 L1661.1,170.07 L1662.1,169.44 L1663.1,168.83 L1664.1,168.25 L1665.1,167.68 L1666.1,167.13 L1667.1,166.6 L1668.1,166.08 L1669.1,165.58 L1670.1,165.08 L1671.1,164.59 L1672.1,164.11 L1673.1,163.63 L1674.1,163.15 L1675.1,162.68 L1676.1,162.22 L1677.1,161.77 L1678.1,161.33 L1679.1,160.9 L1680.1,160.49 L1681.1,160.1 L1682.1,159.72 L1683.1,159.36 L1684.1,159.01 L1685.1,158.67 L1686.1,158.34 L1687.1,158.01 L1688.1,157.69 L1689.1,157.38 L1690.1,157.07 L1691.1,156.77 L1692.1,156.48 L1693.1,156.2 L1694.1,155.92 L1695.1,155.64 L1696.1,155.38 L1697.1,155.12 L1698.1,154.86 L1699.1,154.62 L1700.1,154.37 L1701.1,154.14 L1705.1,153.25 L1710.1,152.25 L1715.1,151.34 L1720.1,150.51 L1725.1,149.75 L1730.1,149.04 L1735.1,148.39 L1740.1,147.81 L1745.1,147.32 L1750.1,146.88 L1755.1,146.48 L1760.1,146.13 L1765.1,145.81 L1770.1,145.51 L1775.1,145.25 L1780.1,145.03 L1785.1,144.85 L1790.1,144.69 L1795.1,144.55 L1800.1,144.41 L1805.1,144.28 L1810.1,144.16 L1815.1,144.05 L1820.1,143.95 L1825.1,143.85 L1830.1,143.76 L1835.1,143.67 L1840.1,143.58 L1845.1,143.5 L1850.1,143.42 L1855.1,143.35 L1860.1,143.27 L1865.1,143.2 L1870.1,143.12 L1875.1,143.05 L1880.1,142.98 L1885.1,142.92 L1890.1,142.85 L1895.1,142.79 L1900.1,142.73 L1905.1,142.68 L1910.1,142.62 L1915.1,142.58 L1920.1,142.53 L1925.1,142.49 L1930.1,142.45 L1935.1,142.42 L1938.1,142.4" stroke="#c8940a" stroke-width="2.4"/>
<path d="M1244.86,582.72 L1249.86,582.61 L1254.86,582.5 L1259.86,582.38 L1264.86,582.23 L1269.86,582.08 L1274.86,581.9 L1279.86,581.72 L1284.86,581.52 L1289.86,581.3 L1294.86,581.08 L1299.86,580.85 L1304.86,580.6 L1309.86,580.35 L1314.86,580.09 L1319.86,579.83 L1324.86,579.56 L1329.86,579.28 L1334.86,579 L1339.86,578.7 L1344.86,578.38 L1349.86,578.04 L1354.86,577.69 L1359.86,577.31 L1364.86,576.91 L1369.86,576.48 L1374.86,576.03 L1379.86,575.56 L1384.86,575.06 L1389.86,574.54 L1394.86,573.99 L1399.86,573.42 L1404.86,572.78 L1409.86,572.03 L1414.86,571.16 L1419.86,570.2 L1424.86,569.09 L1429.86,567.79 L1434.86,566.33 L1439.86,564.77 L1444.86,563.1 L1449.86,561.28 L1454.86,559.29 L1459.86,557.14 L1464.86,554.79 L1469.86,552.21 L1474.86,549.39 L1479.86,546.32 L1481.86,545.02 L1482.86,544.34 L1483.86,543.65 L1484.86,542.94 L1485.86,542.2 L1486.86,541.44 L1487.86,540.66 L1488.86,539.85 L1489.86,539.01 L1490.86,538.14 L1491.86,537.23 L1492.86,536.29 L1493.86,535.31 L1494.86,534.29 L1495.86,533.24 L1496.86,532.16 L1497.86,531.07 L1498.86,529.95 L1499.86,528.83 L1500.86,527.69 L1501.86,526.54 L1502.86,525.38 L1503.86,524.2 L1504.86,523 L1505.86,521.78 L1506.86,520.52 L1507.86,519.23 L1508.86,517.91 L1509.86,516.54 L1510.86,515.12 L1511.86,513.66 L1512.86,512.14 L1513.86,510.58 L1514.86,508.97 L1515.86,507.3 L1516.86,505.58 L1517.86,503.79 L1518.86,501.95 L1519.86,500.03 L1520.86,498.02 L1521.86,495.92 L1522.86,493.71 L1523.86,491.4 L1524.86,489.02 L1525.86,486.59 L1526.86,484.15 L1527.86,481.71 L1528.86,479.3 L1529.86,476.91 L1530.86,474.54 L1531.86,472.19 L1532.86,469.84 L1533.86,467.49 L1534.86,465.14 L1535.86,462.77 L1536.86,460.39 L1537.86,458 L1538.86,455.58 L1539.86,453.15 L1540.86,450.71 L1541.86,448.28 L1542.86,445.87 L1543.86,443.5 L1544.86,441.19 L1545.86,438.95 L1546.86,436.78 L1547.86,434.68 L1548.86,432.63 L1549.86,430.61 L1550.86,428.59 L1551.86,426.53 L1552.86,424.41 L1553.86,422.2 L1554.86,419.87 L1555.86,417.39 L1556.86,414.74 L1557.86,411.96 L1558.86,409.08 L1559.86,406.15 L1560.86,403.23 L1561.86,400.34 L1562.86,397.49 L1563.86,394.68 L1564.86,391.9 L1565.86,389.17 L1566.86,386.48 L1567.86,383.85 L1568.86,381.29 L1569.86,378.78 L1570.86,376.32 L1571.86,373.91 L1572.86,371.54 L1573.86,369.2 L1574.86,366.89 L1575.86,364.59 L1576.86,362.3 L1577.86,360.03 L1578.86,357.77 L1579.86,355.52 L1580.86,353.28 L1581.86,351.06 L1582.86,348.85 L1583.86,346.66 L1584.86,344.48 L1585.86,342.32 L1586.86,340.17 L1587.86,338.04 L1588.86,335.93 L1589.86,333.83 L1590.86,331.74 L1591.86,329.66" stroke="#0cc8c8" stroke-width="2.4"/>
<path d="M1590.7,331.74 L1591.7,329.66 L1592.7,327.57 L1593.7,325.47 L1594.7,323.36 L1595.7,321.23 L1596.7,319.08 L1597.7,316.92 L1598.7,314.74 L1599.7,312.55 L1600.7,310.34 L1601.7,308.12 L1602.7,305.88 L1603.7,303.63 L1604.7,301.37 L1605.7,299.1 L1606.7,296.81 L1607.7,294.51 L1608.7,292.2 L1609.7,289.86 L1610.7,287.49 L1611.7,285.08 L1612.7,282.62 L1613.7,280.11 L1614.7,277.55 L1615.7,274.92 L1616.7,272.23 L1617.7,269.5 L1618.7,266.72 L1619.7,263.91 L1620.7,261.06 L1621.7,258.17 L1622.7,255.25 L1623.7,252.32 L1624.7,249.44 L1625.7,246.66 L1626.7,244.01 L1627.7,241.53 L1628.7,239.2 L1629.7,236.99 L1630.7,234.87 L1631.7,232.81 L1632.7,230.79 L1633.7,228.77 L1634.7,226.72 L1635.7,224.62 L1636.7,222.45 L1637.7,220.21 L1638.7,217.9 L1639.7,215.53 L1640.7,213.12 L1641.7,210.69 L1642.7,208.25 L1643.7,205.82 L1644.7,203.4 L1645.7,201.01 L1646.7,198.63 L1647.7,196.26 L1648.7,193.91 L1649.7,191.56 L1650.7,189.21 L1651.7,186.86 L1652.7,184.49 L1653.7,182.1 L1654.7,179.69 L1655.7,177.25 L1656.7,174.81 L1657.7,172.38 L1658.7,170 L1659.7,167.69 L1660.7,165.48 L1661.7,163.38 L1662.7,161.37 L1663.7,159.45 L1664.7,157.61 L1665.7,155.82 L1666.7,154.1 L1667.7,152.43 L1668.7,150.82 L1669.7,149.26 L1670.7,147.74 L1671.7,146.28 L1672.7,144.86 L1673.7,143.49 L1674.7,142.17 L1675.7,140.88 L1676.7,139.62 L1677.7,138.4 L1678.7,137.2 L1679.7,136.02 L1680.7,134.86 L1681.7,133.71 L1682.7,132.57 L1683.7,131.45 L1684.7,130.33 L1685.7,129.24 L1686.7,128.16 L1687.7,127.11 L1688.7,126.09 L1689.7,125.11 L1690.7,124.17 L1691.7,123.26 L1692.7,122.39 L1693.7,121.55 L1694.7,120.74 L1695.7,119.96 L1696.7,119.2 L1697.7,118.46 L1698.7,117.75 L1699.7,117.06 L1700.7,116.38 L1704.7,113.82 L1709.7,110.86 L1714.7,108.13 L1719.7,105.64 L1724.7,103.38 L1729.7,101.29 L1734.7,99.38 L1739.7,97.62 L1744.7,96 L1749.7,94.47 L1754.7,93.07 L1759.7,91.85 L1764.7,90.8 L1769.7,89.88 L1774.7,89.06 L1779.7,88.36 L1784.7,87.75 L1789.7,87.18 L1794.7,86.65 L1799.7,86.13 L1804.7,85.65 L1809.7,85.18 L1814.7,84.75 L1819.7,84.33 L1824.7,83.94 L1829.7,83.57 L1834.7,83.22 L1839.7,82.89 L1844.7,82.58 L1849.7,82.29 L1854.7,82.01 L1859.7,81.73 L1864.7,81.47 L1869.7,81.2 L1874.7,80.95 L1879.7,80.7 L1884.7,80.46 L1889.7,80.23 L1894.7,80.01 L1899.7,79.8 L1904.7,79.61 L1909.7,79.43 L1914.7,79.26 L1919.7,79.11 L1924.7,78.97 L1929.7,78.85 L1934.7,78.75 L1937.7,78.68" stroke="#0cc8c8" stroke-width="2.6"/>
<path d="M1245.34,582.72 L1250.34,582.61 L1255.34,582.5 L1260.34,582.38 L1265.34,582.23 L1270.34,582.08 L1275.34,581.9 L1280.34,581.72 L1285.34,581.52 L1290.34,581.3 L1295.34,581.08 L1300.34,580.85 L1305.34,580.6 L1310.34,580.35 L1315.34,580.09 L1320.34,579.83 L1325.34,579.56 L1330.34,579.28 L1335.34,579 L1340.34,578.7 L1345.34,578.38 L1350.34,578.04 L1355.34,577.69 L1360.34,577.31 L1365.34,576.91 L1370.34,576.48 L1375.34,576.03 L1380.34,575.56 L1385.34,575.06 L1390.34,574.54 L1395.34,573.99 L1400.34,573.42 L1405.34,572.78 L1410.34,572.03 L1415.34,571.16 L1420.34,570.2 L1425.34,569.09 L1430.34,567.79 L1435.34,566.33 L1440.34,564.77 L1445.34,563.1 L1450.34,561.28 L1455.34,559.29 L1460.34,557.14 L1465.34,554.79 L1470.34,552.21 L1475.34,549.39 L1480.34,546.32 L1482.34,545.02 L1483.34,544.34 L1484.34,543.65 L1485.34,542.94 L1486.34,542.2 L1487.34,541.44 L1488.34,540.66 L1489.34,539.85 L1490.34,539.01 L1491.34,538.14 L1492.34,537.23 L1493.34,536.29 L1494.34,535.31 L1495.34,534.29 L1496.34,533.24 L1497.34,532.16 L1498.34,531.07 L1499.34,529.95 L1500.34,528.83 L1501.34,527.69 L1502.34,526.54 L1503.34,525.38 L1504.34,524.2 L1505.34,523 L1506.34,521.78 L1507.34,520.52 L1508.34,519.23 L1509.34,517.91 L1510.34,516.54 L1511.34,515.12 L1512.34,513.66 L1513.34,512.14 L1514.34,510.58 L1515.34,508.97 L1516.34,507.3 L1517.34,505.58 L1518.34,503.79 L1519.34,501.95 L1520.34,500.03 L1521.34,498.02 L1522.34,495.92 L1523.34,493.71 L1524.34,491.4 L1525.34,489.02 L1526.34,486.59 L1527.34,484.15 L1528.34,481.71 L1529.34,479.3 L1530.34,476.91 L1531.34,474.54 L1532.34,472.19 L1533.34,469.84 L1534.34,467.49 L1535.34,465.14 L1536.34,462.77 L1537.34,460.39 L1538.34,458 L1539.34,455.58 L1540.34,453.15 L1541.34,450.71 L1542.34,448.28 L1543.34,445.87 L1544.34,443.5 L1545.34,441.19 L1546.34,438.95 L1547.34,436.78 L1548.34,434.68 L1549.34,432.63 L1550.34,430.61 L1551.34,428.59 L1552.34,426.53 L1553.34,424.41 L1554.34,422.2 L1555.34,419.87 L1556.34,417.39 L1557.34,414.74 L1558.34,411.96 L1559.34,409.08 L1560.34,406.15 L1561.34,403.23 L1562.34,400.34 L1563.34,397.49 L1564.34,394.68 L1565.34,391.9 L1566.34,389.17 L1567.34,386.48 L1568.34,383.85 L1569.34,381.29 L1570.34,378.78 L1571.34,376.32 L1572.34,373.91 L1573.34,371.54 L1574.34,369.2 L1575.34,366.89 L1576.34,364.59 L1577.34,362.3 L1578.34,360.03 L1579.34,357.77 L1580.34,355.52 L1581.34,353.28 L1582.34,351.06 L1583.34,348.85 L1584.34,346.66 L1585.34,344.48 L1586.34,342.32 L1587.34,340.17 L1588.34,338.04 L1589.34,335.93 L1590.34,333.83 L1591.34,331.74 L1592.34,329.66" stroke="#0cc8c8" stroke-width="2.4"/>
<path d="M1591.5,331.74 L1592.5,329.66 L1593.5,327.57 L1594.5,325.47 L1595.5,323.36 L1596.5,321.23 L1597.5,319.08 L1598.5,316.92 L1599.5,314.74 L1600.5,312.55 L1601.5,310.34 L1602.5,308.12 L1603.5,305.88 L1604.5,303.63 L1605.5,301.37 L1606.5,299.1 L1607.5,296.81 L1608.5,294.51 L1609.5,292.2 L1610.5,289.86 L1611.5,287.49 L1612.5,285.08 L1613.5,282.62 L1614.5,280.11 L1615.5,277.55 L1616.5,274.92 L1617.5,272.23 L1618.5,269.5 L1619.5,266.72 L1620.5,263.91 L1621.5,261.06 L1622.5,258.17 L1623.5,255.25 L1624.5,252.32 L1625.5,249.44 L1626.5,246.66 L1627.5,244.01 L1628.5,241.53 L1629.5,239.2 L1630.5,236.99 L1631.5,234.87 L1632.5,232.81 L1633.5,230.79 L1634.5,228.77 L1635.5,226.72 L1636.5,224.62 L1637.5,222.45 L1638.5,220.21 L1639.5,217.9 L1640.5,215.53 L1641.5,213.12 L1642.5,210.69 L1643.5,208.25 L1644.5,205.82 L1645.5,203.4 L1646.5,201.01 L1647.5,198.63 L1648.5,196.26 L1649.5,193.91 L1650.5,191.56 L1651.5,189.21 L1652.5,186.86 L1653.5,184.49 L1654.5,182.1 L1655.5,179.69 L1656.5,177.25 L1657.5,174.81 L1658.5,172.38 L1659.5,170 L1660.5,167.69 L1661.5,165.48 L1662.5,163.38 L1663.5,161.37 L1664.5,159.45 L1665.5,157.61 L1666.5,155.82 L1667.5,154.1 L1668.5,152.43 L1669.5,150.82 L1670.5,149.26 L1671.5,147.74 L1672.5,146.28 L1673.5,144.86 L1674.5,143.49 L1675.5,142.17 L1676.5,140.88 L1677.5,139.62 L1678.5,138.4 L1679.5,137.2 L1680.5,136.02 L1681.5,134.86 L1682.5,133.71 L1683.5,132.57 L1684.5,131.45 L1685.5,130.33 L1686.5,129.24 L1687.5,128.16 L1688.5,127.11 L1689.5,126.09 L1690.5,125.11 L1691.5,124.17 L1692.5,123.26 L1693.5,122.39 L1694.5,121.55 L1695.5,120.74 L1696.5,119.96 L1697.5,119.2 L1698.5,118.46 L1699.5,117.75 L1700.5,117.06 L1701.5,116.38 L1705.5,113.82 L1710.5,110.86 L1715.5,108.13 L1720.5,105.64 L1725.5,103.38 L1730.5,101.29 L1735.5,99.38 L1740.5,97.62 L1745.5,96 L1750.5,94.47 L1755.5,93.07 L1760.5,91.85 L1765.5,90.8 L1770.5,89.88 L1775.5,89.06 L1780.5,88.36 L1785.5,87.75 L1790.5,87.18 L1795.5,86.65 L1800.5,86.13 L1805.5,85.65 L1810.5,85.18 L1815.5,84.75 L1820.5,84.33 L1825.5,83.94 L1830.5,83.57 L1835.5,83.22 L1840.5,82.89 L1845.5,82.58 L1850.5,82.29 L1855.5,82.01 L1860.5,81.73 L1865.5,81.47 L1870.5,81.2 L1875.5,80.95 L1880.5,80.7 L1885.5,80.46 L1890.5,80.23 L1895.5,80.01 L1900.5,79.8 L1905.5,79.61 L1910.5,79.43 L1915.5,79.26 L1920.5,79.11 L1925.5,78.97 L1930.5,78.85 L1935.5,78.75 L1938.5,78.68" stroke="#0cc8c8" stroke-width="2.6"/>
<path d="M1591.1,332.65 L1592.1,328.75 L1593.1,324.84 L1594.1,320.93 L1595.1,317.02 L1596.1,313.12 L1597.1,309.22 L1598.1,305.32 L1599.1,301.43 L1600.1,297.54 L1601.1,293.64 L1602.1,289.75 L1603.1,285.86 L1604.1,281.97 L1605.1,278.08 L1606.1,274.18 L1607.1,270.3 L1608.1,266.41 L1609.1,262.54 L1610.1,258.67 L1611.1,254.82 L1612.1,250.98 L1613.1,247.16 L1614.1,243.35 L1615.1,239.56 L1616.1,235.79 L1617.1,232.03 L1618.1,228.29 L1619.1,224.56 L1620.1,220.84 L1621.1,217.12 L1622.1,213.4 L1623.1,209.68 L1624.1,205.95 L1625.1,202.19 L1626.1,198.43 L1627.1,194.65 L1628.1,190.89 L1629.1,187.2 L1630.1,183.59 L1631.1,180.11 L1632.1,176.77 L1633.1,173.56 L1634.1,170.46 L1635.1,167.46 L1636.1,164.53 L1637.1,161.67 L1638.1,158.84 L1639.1,156.04 L1640.1,153.25 L1641.1,150.44 L1642.1,147.62 L1643.1,144.82 L1644.1,142.09 L1645.1,139.46 L1646.1,136.95 L1647.1,134.56 L1648.1,132.31 L1649.1,130.17 L1650.1,128.14 L1651.1,126.2 L1652.1,124.35 L1653.1,122.57 L1654.1,120.86 L1655.1,119.2 L1656.1,117.6 L1657.1,116.06 L1658.1,114.59 L1659.1,113.17 L1660.1,111.82 L1661.1,110.52 L1662.1,109.28 L1663.1,108.09 L1664.1,106.94 L1665.1,105.83 L1666.1,104.76 L1667.1,103.73 L1668.1,102.73 L1669.1,101.75 L1670.1,100.81 L1671.1,99.89 L1672.1,99 L1673.1,98.13 L1674.1,97.29 L1675.1,96.47 L1676.1,95.67 L1677.1,94.9 L1678.1,94.15 L1679.1,93.42 L1680.1,92.71 L1681.1,92.03 L1682.1,91.36 L1683.1,90.72 L1684.1,90.1 L1685.1,89.49 L1686.1,88.89 L1687.1,88.31 L1688.1,87.74 L1689.1,87.18 L1690.1,86.62 L1691.1,86.07 L1692.1,85.52 L1693.1,84.98 L1694.1,84.44 L1695.1,83.91 L1696.1,83.4 L1697.1,82.91 L1698.1,82.45 L1699.1,82.01 L1700.1,81.6 L1701.1,81.21 L1705.1,79.85 L1710.1,78.39 L1715.1,77.11 L1720.1,75.93 L1725.1,74.81 L1730.1,73.76 L1735.1,72.8 L1740.1,71.94 L1745.1,71.19 L1750.1,70.52 L1755.1,69.91 L1760.1,69.33 L1765.1,68.75 L1770.1,68.17 L1775.1,67.62 L1780.1,67.16 L1785.1,66.79 L1790.1,66.47 L1795.1,66.16 L1800.1,65.87 L1805.1,65.59 L1810.1,65.34 L1815.1,65.09 L1820.1,64.87 L1825.1,64.65 L1830.1,64.45 L1835.1,64.26 L1840.1,64.08 L1845.1,63.91 L1850.1,63.75 L1855.1,63.59 L1860.1,63.44 L1865.1,63.28 L1870.1,63.13 L1875.1,62.99 L1880.1,62.85 L1885.1,62.71 L1890.1,62.58 L1895.1,62.46 L1900.1,62.34 L1905.1,62.23 L1910.1,62.12 L1915.1,62.03 L1920.1,61.94 L1925.1,61.86 L1930.1,61.79 L1935.1,61.73 L1938.1,61.69" stroke="#5c2a30" stroke-width="1.5"/>
<path d="M1245.1,599.71 L1250.1,599.65 L1255.1,599.58 L1260.1,599.51 L1265.1,599.43 L1270.1,599.34 L1275.1,599.24 L1280.1,599.13 L1285.1,599.01 L1290.1,598.89 L1295.1,598.77 L1300.1,598.63 L1305.1,598.5 L1310.1,598.35 L1315.1,598.21 L1320.1,598.06 L1325.1,597.9 L1330.1,597.75 L1335.1,597.59 L1340.1,597.42 L1345.1,597.25 L1350.1,597.06 L1355.1,596.87 L1360.1,596.66 L1365.1,596.44 L1370.1,596.21 L1375.1,595.96 L1380.1,595.7 L1385.1,595.42 L1390.1,595.12 L1395.1,594.81 L1400.1,594.47 L1405.1,594.07 L1410.1,593.57 L1415.1,593.01 L1420.1,592.42 L1425.1,591.82 L1430.1,591.2 L1435.1,590.53 L1440.1,589.77 L1445.1,588.91 L1450.1,587.94 L1455.1,586.86 L1460.1,585.7 L1465.1,584.46 L1470.1,583.1 L1475.1,581.57 L1480.1,579.76 L1482.1,578.9 L1483.1,578.43 L1484.1,577.94 L1485.1,577.43 L1486.1,576.9 L1487.1,576.37 L1488.1,575.82 L1489.1,575.27 L1490.1,574.72 L1491.1,574.15 L1492.1,573.59 L1493.1,573.01 L1494.1,572.41 L1495.1,571.81 L1496.1,571.19 L1497.1,570.55 L1498.1,569.89 L1499.1,569.21 L1500.1,568.51 L1501.1,567.79 L1502.1,567.04 L1503.1,566.27 L1504.1,565.48 L1505.1,564.66 L1506.1,563.81 L1507.1,562.94 L1508.1,562.05 L1509.1,561.13 L1510.1,560.18 L1511.1,559.2 L1512.1,558.19 L1513.1,557.15 L1514.1,556.07 L1515.1,554.96 L1516.1,553.81 L1517.1,552.61 L1518.1,551.37 L1519.1,550.08 L1520.1,548.73 L1521.1,547.33 L1522.1,545.87 L1523.1,544.35 L1524.1,542.77 L1525.1,541.12 L1526.1,539.41 L1527.1,537.63 L1528.1,535.77 L1529.1,533.83 L1530.1,531.78 L1531.1,529.62 L1532.1,527.32 L1533.1,524.87 L1534.1,522.27 L1535.1,519.49 L1536.1,516.54 L1537.1,513.42 L1538.1,510.13 L1539.1,506.71 L1540.1,503.19 L1541.1,499.67 L1542.1,496.27 L1543.1,493.07 L1544.1,490.11 L1545.1,487.34 L1546.1,484.67 L1547.1,482.01 L1548.1,479.28 L1549.1,476.46 L1550.1,473.52 L1551.1,470.5 L1552.1,467.43 L1553.1,464.33 L1554.1,461.23 L1555.1,458.14 L1556.1,455.07 L1557.1,452.03 L1558.1,448.99 L1559.1,445.96 L1560.1,442.95 L1561.1,439.94 L1562.1,436.95 L1563.1,433.97 L1564.1,430.99 L1565.1,427.96 L1566.1,424.86 L1567.1,421.65 L1568.1,418.33 L1569.1,414.87 L1570.1,411.3 L1571.1,407.63 L1572.1,403.88 L1573.1,400.06 L1574.1,396.19 L1575.1,392.29 L1576.1,388.36 L1577.1,384.4 L1578.1,380.41 L1579.1,376.38 L1580.1,372.3 L1581.1,368.19 L1582.1,364.1 L1583.1,360.08 L1584.1,356.15 L1585.1,352.36 L1586.1,348.72 L1587.1,345.21 L1588.1,341.82 L1589.1,338.54 L1590.1,335.36 L1591.1,332.25 L1592.1,329.15" stroke="#5c2a30" stroke-width="1.7999999999999998"/>
<path d="M1591.1,332.43 L1592.1,328.97 L1593.1,325.52 L1594.1,322.07 L1595.1,318.62 L1596.1,315.17 L1597.1,311.72 L1598.1,308.27 L1599.1,304.82 L1600.1,301.37 L1601.1,297.92 L1602.1,294.47 L1603.1,291.01 L1604.1,287.55 L1605.1,284.09 L1606.1,280.62 L1607.1,277.15 L1608.1,273.68 L1609.1,270.22 L1610.1,266.75 L1611.1,263.3 L1612.1,259.84 L1613.1,256.4 L1614.1,252.97 L1615.1,249.54 L1616.1,246.13 L1617.1,242.72 L1618.1,239.33 L1619.1,235.95 L1620.1,232.59 L1621.1,229.28 L1622.1,226.03 L1623.1,222.85 L1624.1,219.75 L1625.1,216.73 L1626.1,213.75 L1627.1,210.8 L1628.1,207.83 L1629.1,204.83 L1630.1,201.76 L1631.1,198.63 L1632.1,195.44 L1633.1,192.2 L1634.1,188.94 L1635.1,185.67 L1636.1,182.39 L1637.1,179.08 L1638.1,175.68 L1639.1,172.14 L1640.1,168.43 L1641.1,164.6 L1642.1,160.72 L1643.1,156.91 L1644.1,153.23 L1645.1,149.74 L1646.1,146.44 L1647.1,143.33 L1648.1,140.42 L1649.1,137.71 L1650.1,135.19 L1651.1,132.83 L1652.1,130.63 L1653.1,128.55 L1654.1,126.57 L1655.1,124.69 L1656.1,122.87 L1657.1,121.12 L1658.1,119.44 L1659.1,117.81 L1660.1,116.25 L1661.1,114.76 L1662.1,113.33 L1663.1,111.96 L1664.1,110.65 L1665.1,109.4 L1666.1,108.2 L1667.1,107.04 L1668.1,105.93 L1669.1,104.86 L1670.1,103.82 L1671.1,102.82 L1672.1,101.85 L1673.1,100.9 L1674.1,99.98 L1675.1,99.09 L1676.1,98.22 L1677.1,97.37 L1678.1,96.55 L1679.1,95.75 L1680.1,94.97 L1681.1,94.22 L1682.1,93.49 L1683.1,92.78 L1684.1,92.09 L1685.1,91.43 L1686.1,90.78 L1687.1,90.16 L1688.1,89.55 L1689.1,88.95 L1690.1,88.37 L1691.1,87.8 L1692.1,87.24 L1693.1,86.68 L1694.1,86.13 L1695.1,85.58 L1696.1,85.04 L1697.1,84.5 L1698.1,83.98 L1699.1,83.47 L1700.1,82.97 L1701.1,82.5 L1705.1,80.87 L1710.1,79.19 L1715.1,77.74 L1720.1,76.44 L1725.1,75.23 L1730.1,74.1 L1735.1,73.06 L1740.1,72.13 L1745.1,71.31 L1750.1,70.6 L1755.1,69.95 L1760.1,69.34 L1765.1,68.74 L1770.1,68.16 L1775.1,67.62 L1780.1,67.16 L1785.1,66.79 L1790.1,66.47 L1795.1,66.16 L1800.1,65.87 L1805.1,65.59 L1810.1,65.34 L1815.1,65.09 L1820.1,64.87 L1825.1,64.65 L1830.1,64.45 L1835.1,64.26 L1840.1,64.08 L1845.1,63.91 L1850.1,63.75 L1855.1,63.59 L1860.1,63.44 L1865.1,63.28 L1870.1,63.13 L1875.1,62.99 L1880.1,62.85 L1885.1,62.71 L1890.1,62.58 L1895.1,62.46 L1900.1,62.34 L1905.1,62.23 L1910.1,62.12 L1915.1,62.03 L1920.1,61.94 L1925.1,61.86 L1930.1,61.79 L1935.1,61.73 L1938.1,61.69" stroke="#5c2a30" stroke-width="1.5"/>
<path d="M1244.92,553.51 L1249.92,553.45 L1254.92,553.38 L1259.92,553.31 L1264.92,553.24 L1269.92,553.15 L1274.92,553.06 L1279.92,552.96 L1284.92,552.86 L1289.92,552.75 L1294.92,552.64 L1299.92,552.52 L1304.92,552.4 L1309.92,552.27 L1314.92,552.15 L1319.92,552.01 L1324.92,551.88 L1329.92,551.74 L1334.92,551.6 L1339.92,551.45 L1344.92,551.3 L1349.92,551.14 L1354.92,550.97 L1359.92,550.79 L1364.92,550.6 L1369.92,550.4 L1374.92,550.19 L1379.92,549.97 L1384.92,549.74 L1389.92,549.49 L1394.92,549.23 L1399.92,548.95 L1404.92,548.64 L1409.92,548.27 L1414.92,547.84 L1419.92,547.39 L1424.92,546.92 L1429.92,546.41 L1434.92,545.85 L1439.92,545.23 L1444.92,544.52 L1449.92,543.72 L1454.92,542.83 L1459.92,541.89 L1464.92,540.9 L1469.92,539.84 L1474.92,538.69 L1479.92,537.45 L1481.92,536.92 L1482.92,536.65 L1483.92,536.37 L1484.92,536.08 L1485.92,535.79 L1486.92,535.49 L1487.92,535.17 L1488.92,534.85 L1489.92,534.52 L1490.92,534.18 L1491.92,533.84 L1492.92,533.48 L1493.92,533.11 L1494.92,532.72 L1495.92,532.33 L1496.92,531.93 L1497.92,531.51 L1498.92,531.08 L1499.92,530.64 L1500.92,530.18 L1501.92,529.71 L1502.92,529.23 L1503.92,528.73 L1504.92,528.21 L1505.92,527.68 L1506.92,527.12 L1507.92,526.55 L1508.92,525.94 L1509.92,525.31 L1510.92,524.65 L1511.92,523.96 L1512.92,523.23 L1513.92,522.48 L1514.92,521.68 L1515.92,520.84 L1516.92,519.95 L1517.92,519.02 L1518.92,518.03 L1519.92,516.97 L1520.92,515.83 L1521.92,514.6 L1522.92,513.25 L1523.92,511.78 L1524.92,510.2 L1525.92,508.49 L1526.92,506.65 L1527.92,504.68 L1528.92,502.58 L1529.92,500.33 L1530.92,497.94 L1531.92,495.41 L1532.92,492.74 L1533.92,489.97 L1534.92,487.14 L1535.92,484.3 L1536.92,481.5 L1537.92,478.76 L1538.92,476.09 L1539.92,473.48 L1540.92,470.9 L1541.92,468.35 L1542.92,465.81 L1543.92,463.27 L1544.92,460.72 L1545.92,458.15 L1546.92,455.58 L1547.92,453.01 L1548.92,450.42 L1549.92,447.83 L1550.92,445.22 L1551.92,442.6 L1552.92,439.96 L1553.92,437.3 L1554.92,434.63 L1555.92,431.93 L1556.92,429.22 L1557.92,426.48 L1558.92,423.72 L1559.92,420.93 L1560.92,418.12 L1561.92,415.28 L1562.92,412.42 L1563.92,409.53 L1564.92,406.64 L1565.92,403.73 L1566.92,400.81 L1567.92,397.9 L1568.92,395 L1569.92,392.1 L1570.92,389.22 L1571.92,386.35 L1572.92,383.49 L1573.92,380.64 L1574.92,377.79 L1575.92,374.94 L1576.92,372.1 L1577.92,369.26 L1578.92,366.41 L1579.92,363.57 L1580.92,360.72 L1581.92,357.87 L1582.92,355.02 L1583.92,352.16 L1584.92,349.3 L1585.92,346.44 L1586.92,343.58 L1587.92,340.72 L1588.92,337.86 L1589.92,335 L1590.92,332.13 L1591.92,329.27" stroke="#808000" stroke-width="2.4"/>
<path d="M1590.8,332.13 L1591.8,329.27 L1592.8,326.4 L1593.8,323.54 L1594.8,320.68 L1595.8,317.82 L1596.8,314.96 L1597.8,312.1 L1598.8,309.24 L1599.8,306.38 L1600.8,303.53 L1601.8,300.68 L1602.8,297.83 L1603.8,294.99 L1604.8,292.14 L1605.8,289.3 L1606.8,286.46 L1607.8,283.61 L1608.8,280.76 L1609.8,277.91 L1610.8,275.05 L1611.8,272.18 L1612.8,269.3 L1613.8,266.4 L1614.8,263.5 L1615.8,260.59 L1616.8,257.67 L1617.8,254.76 L1618.8,251.87 L1619.8,248.98 L1620.8,246.12 L1621.8,243.28 L1622.8,240.47 L1623.8,237.68 L1624.8,234.92 L1625.8,232.18 L1626.8,229.47 L1627.8,226.77 L1628.8,224.1 L1629.8,221.44 L1630.8,218.8 L1631.8,216.18 L1632.8,213.57 L1633.8,210.98 L1634.8,208.39 L1635.8,205.82 L1636.8,203.25 L1637.8,200.68 L1638.8,198.13 L1639.8,195.59 L1640.8,193.05 L1641.8,190.5 L1642.8,187.92 L1643.8,185.31 L1644.8,182.64 L1645.8,179.9 L1646.8,177.1 L1647.8,174.26 L1648.8,171.43 L1649.8,168.66 L1650.8,165.99 L1651.8,163.46 L1652.8,161.07 L1653.8,158.82 L1654.8,156.72 L1655.8,154.75 L1656.8,152.91 L1657.8,151.2 L1658.8,149.62 L1659.8,148.15 L1660.8,146.8 L1661.8,145.57 L1662.8,144.43 L1663.8,143.37 L1664.8,142.38 L1665.8,141.45 L1666.8,140.56 L1667.8,139.72 L1668.8,138.92 L1669.8,138.17 L1670.8,137.44 L1671.8,136.75 L1672.8,136.09 L1673.8,135.46 L1674.8,134.85 L1675.8,134.28 L1676.8,133.72 L1677.8,133.19 L1678.8,132.67 L1679.8,132.17 L1680.8,131.69 L1681.8,131.22 L1682.8,130.76 L1683.8,130.32 L1684.8,129.89 L1685.8,129.47 L1686.8,129.07 L1687.8,128.68 L1688.8,128.29 L1689.8,127.92 L1690.8,127.56 L1691.8,127.22 L1692.8,126.88 L1693.8,126.55 L1694.8,126.23 L1695.8,125.91 L1696.8,125.61 L1697.8,125.32 L1698.8,125.03 L1699.8,124.75 L1700.8,124.48 L1704.8,123.44 L1709.8,122.24 L1714.8,121.13 L1719.8,120.1 L1724.8,119.13 L1729.8,118.21 L1734.8,117.35 L1739.8,116.58 L1744.8,115.92 L1749.8,115.32 L1754.8,114.78 L1759.8,114.29 L1764.8,113.82 L1769.8,113.38 L1774.8,112.98 L1779.8,112.63 L1784.8,112.33 L1789.8,112.06 L1794.8,111.81 L1799.8,111.57 L1804.8,111.34 L1809.8,111.12 L1814.8,110.92 L1819.8,110.72 L1824.8,110.54 L1829.8,110.36 L1834.8,110.2 L1839.8,110.04 L1844.8,109.89 L1849.8,109.74 L1854.8,109.6 L1859.8,109.47 L1864.8,109.33 L1869.8,109.2 L1874.8,109.07 L1879.8,108.95 L1884.8,108.83 L1889.8,108.71 L1894.8,108.6 L1899.8,108.5 L1904.8,108.4 L1909.8,108.3 L1914.8,108.21 L1919.8,108.13 L1924.8,108.06 L1929.8,107.99 L1934.8,107.93 L1937.8,107.89" stroke="#808000" stroke-width="3.2"/>
<path d="M1245.28,553.51 L1250.28,553.45 L1255.28,553.38 L1260.28,553.31 L1265.28,553.24 L1270.28,553.15 L1275.28,553.06 L1280.28,552.96 L1285.28,552.86 L1290.28,552.75 L1295.28,552.64 L1300.28,552.52 L1305.28,552.4 L1310.28,552.27 L1315.28,552.15 L1320.28,552.01 L1325.28,551.88 L1330.28,551.74 L1335.28,551.6 L1340.28,551.45 L1345.28,551.3 L1350.28,551.14 L1355.28,550.97 L1360.28,550.79 L1365.28,550.6 L1370.28,550.4 L1375.28,550.19 L1380.28,549.97 L1385.28,549.74 L1390.28,549.49 L1395.28,549.23 L1400.28,548.95 L1405.28,548.64 L1410.28,548.27 L1415.28,547.84 L1420.28,547.39 L1425.28,546.92 L1430.28,546.41 L1435.28,545.85 L1440.28,545.23 L1445.28,544.52 L1450.28,543.72 L1455.28,542.83 L1460.28,541.89 L1465.28,540.9 L1470.28,539.84 L1475.28,538.69 L1480.28,537.45 L1482.28,536.92 L1483.28,536.65 L1484.28,536.37 L1485.28,536.08 L1486.28,535.79 L1487.28,535.49 L1488.28,535.17 L1489.28,534.85 L1490.28,534.52 L1491.28,534.18 L1492.28,533.84 L1493.28,533.48 L1494.28,533.11 L1495.28,532.72 L1496.28,532.33 L1497.28,531.93 L1498.28,531.51 L1499.28,531.08 L1500.28,530.64 L1501.28,530.18 L1502.28,529.71 L1503.28,529.23 L1504.28,528.73 L1505.28,528.21 L1506.28,527.68 L1507.28,527.12 L1508.28,526.55 L1509.28,525.94 L1510.28,525.31 L1511.28,524.65 L1512.28,523.96 L1513.28,523.23 L1514.28,522.48 L1515.28,521.68 L1516.28,520.84 L1517.28,519.95 L1518.28,519.02 L1519.28,518.03 L1520.28,516.97 L1521.28,515.83 L1522.28,514.6 L1523.28,513.25 L1524.28,511.78 L1525.28,510.2 L1526.28,508.49 L1527.28,506.65 L1528.28,504.68 L1529.28,502.58 L1530.28,500.33 L1531.28,497.94 L1532.28,495.41 L1533.28,492.74 L1534.28,489.97 L1535.28,487.14 L1536.28,484.3 L1537.28,481.5 L1538.28,478.76 L1539.28,476.09 L1540.28,473.48 L1541.28,470.9 L1542.28,468.35 L1543.28,465.81 L1544.28,463.27 L1545.28,460.72 L1546.28,458.15 L1547.28,455.58 L1548.28,453.01 L1549.28,450.42 L1550.28,447.83 L1551.28,445.22 L1552.28,442.6 L1553.28,439.96 L1554.28,437.3 L1555.28,434.63 L1556.28,431.93 L1557.28,429.22 L1558.28,426.48 L1559.28,423.72 L1560.28,420.93 L1561.28,418.12 L1562.28,415.28 L1563.28,412.42 L1564.28,409.53 L1565.28,406.64 L1566.28,403.73 L1567.28,400.81 L1568.28,397.9 L1569.28,395 L1570.28,392.1 L1571.28,389.22 L1572.28,386.35 L1573.28,383.49 L1574.28,380.64 L1575.28,377.79 L1576.28,374.94 L1577.28,372.1 L1578.28,369.26 L1579.28,366.41 L1580.28,363.57 L1581.28,360.72 L1582.28,357.87 L1583.28,355.02 L1584.28,352.16 L1585.28,349.3 L1586.28,346.44 L1587.28,343.58 L1588.28,340.72 L1589.28,337.86 L1590.28,335 L1591.28,332.13 L1592.28,329.27" stroke="#808000" stroke-width="2.4"/>
<path d="M1591.4,332.13 L1592.4,329.27 L1593.4,326.4 L1594.4,323.54 L1595.4,320.68 L1596.4,317.82 L1597.4,314.96 L1598.4,312.1 L1599.4,309.24 L1600.4,306.38 L1601.4,303.53 L1602.4,300.68 L1603.4,297.83 L1604.4,294.99 L1605.4,292.14 L1606.4,289.3 L1607.4,286.46 L1608.4,283.61 L1609.4,280.76 L1610.4,277.91 L1611.4,275.05 L1612.4,272.18 L1613.4,269.3 L1614.4,266.4 L1615.4,263.5 L1616.4,260.59 L1617.4,257.67 L1618.4,254.76 L1619.4,251.87 L1620.4,248.98 L1621.4,246.12 L1622.4,243.28 L1623.4,240.47 L1624.4,237.68 L1625.4,234.92 L1626.4,232.18 L1627.4,229.47 L1628.4,226.77 L1629.4,224.1 L1630.4,221.44 L1631.4,218.8 L1632.4,216.18 L1633.4,213.57 L1634.4,210.98 L1635.4,208.39 L1636.4,205.82 L1637.4,203.25 L1638.4,200.68 L1639.4,198.13 L1640.4,195.59 L1641.4,193.05 L1642.4,190.5 L1643.4,187.92 L1644.4,185.31 L1645.4,182.64 L1646.4,179.9 L1647.4,177.1 L1648.4,174.26 L1649.4,171.43 L1650.4,168.66 L1651.4,165.99 L1652.4,163.46 L1653.4,161.07 L1654.4,158.82 L1655.4,156.72 L1656.4,154.75 L1657.4,152.91 L1658.4,151.2 L1659.4,149.62 L1660.4,148.15 L1661.4,146.8 L1662.4,145.57 L1663.4,144.43 L1664.4,143.37 L1665.4,142.38 L1666.4,141.45 L1667.4,140.56 L1668.4,139.72 L1669.4,138.92 L1670.4,138.17 L1671.4,137.44 L1672.4,136.75 L1673.4,136.09 L1674.4,135.46 L1675.4,134.85 L1676.4,134.28 L1677.4,133.72 L1678.4,133.19 L1679.4,132.67 L1680.4,132.17 L1681.4,131.69 L1682.4,131.22 L1683.4,130.76 L1684.4,130.32 L1685.4,129.89 L1686.4,129.47 L1687.4,129.07 L1688.4,128.68 L1689.4,128.29 L1690.4,127.92 L1691.4,127.56 L1692.4,127.22 L1693.4,126.88 L1694.4,126.55 L1695.4,126.23 L1696.4,125.91 L1697.4,125.61 L1698.4,125.32 L1699.4,125.03 L1700.4,124.75 L1701.4,124.48 L1705.4,123.44 L1710.4,122.24 L1715.4,121.13 L1720.4,120.1 L1725.4,119.13 L1730.4,118.21 L1735.4,117.35 L1740.4,116.58 L1745.4,115.92 L1750.4,115.32 L1755.4,114.78 L1760.4,114.29 L1765.4,113.82 L1770.4,113.38 L1775.4,112.98 L1780.4,112.63 L1785.4,112.33 L1790.4,112.06 L1795.4,111.81 L1800.4,111.57 L1805.4,111.34 L1810.4,111.12 L1815.4,110.92 L1820.4,110.72 L1825.4,110.54 L1830.4,110.36 L1835.4,110.2 L1840.4,110.04 L1845.4,109.89 L1850.4,109.74 L1855.4,109.6 L1860.4,109.47 L1865.4,109.33 L1870.4,109.2 L1875.4,109.07 L1880.4,108.95 L1885.4,108.83 L1890.4,108.71 L1895.4,108.6 L1900.4,108.5 L1905.4,108.4 L1910.4,108.3 L1915.4,108.21 L1920.4,108.13 L1925.4,108.06 L1930.4,107.99 L1935.4,107.93 L1938.4,107.89" stroke="#808000" stroke-width="3.2"/>
<path d="M1244.86,604.31 L1249.86,604.21 L1254.86,604.11 L1259.86,603.99 L1264.86,603.86 L1269.86,603.72 L1274.86,603.57 L1279.86,603.4 L1284.86,603.22 L1289.86,603.04 L1294.86,602.84 L1299.86,602.63 L1304.86,602.42 L1309.86,602.2 L1314.86,601.98 L1319.86,601.75 L1324.86,601.51 L1329.86,601.27 L1334.86,601.03 L1339.86,600.77 L1344.86,600.5 L1349.86,600.22 L1354.86,599.92 L1359.86,599.6 L1364.86,599.27 L1369.86,598.91 L1374.86,598.54 L1379.86,598.14 L1384.86,597.72 L1389.86,597.27 L1394.86,596.8 L1399.86,596.3 L1404.86,595.72 L1409.86,595.01 L1414.86,594.2 L1419.86,593.37 L1424.86,592.52 L1429.86,591.63 L1434.86,590.68 L1439.86,589.66 L1444.86,588.57 L1449.86,587.39 L1454.86,586.12 L1459.86,584.73 L1464.86,583.22 L1469.86,581.55 L1474.86,579.69 L1479.86,577.62 L1481.86,576.71 L1482.86,576.22 L1483.86,575.71 L1484.86,575.19 L1485.86,574.64 L1486.86,574.08 L1487.86,573.5 L1488.86,572.91 L1489.86,572.3 L1490.86,571.67 L1491.86,571.03 L1492.86,570.37 L1493.86,569.69 L1494.86,569 L1495.86,568.28 L1496.86,567.54 L1497.86,566.79 L1498.86,566.02 L1499.86,565.23 L1500.86,564.43 L1501.86,563.61 L1502.86,562.77 L1503.86,561.91 L1504.86,561.04 L1505.86,560.14 L1506.86,559.2 L1507.86,558.24 L1508.86,557.24 L1509.86,556.2 L1510.86,555.12 L1511.86,553.99 L1512.86,552.81 L1513.86,551.57 L1514.86,550.29 L1515.86,548.96 L1516.86,547.58 L1517.86,546.15 L1518.86,544.69 L1519.86,543.17 L1520.86,541.61 L1521.86,539.98 L1522.86,538.3 L1523.86,536.55 L1524.86,534.75 L1525.86,532.89 L1526.86,530.98 L1527.86,529.04 L1528.86,527.07 L1529.86,525.08 L1530.86,523.05 L1531.86,520.98 L1532.86,518.88 L1533.86,516.74 L1534.86,514.58 L1535.86,512.41 L1536.86,510.24 L1537.86,508.07 L1538.86,505.91 L1539.86,503.72 L1540.86,501.48 L1541.86,499.16 L1542.86,496.74 L1543.86,494.19 L1544.86,491.54 L1545.86,488.78 L1546.86,485.95 L1547.86,483.06 L1548.86,480.12 L1549.86,477.15 L1550.86,474.13 L1551.86,471.08 L1552.86,468 L1553.86,464.91 L1554.86,461.82 L1555.86,458.74 L1556.86,455.68 L1557.86,452.63 L1558.86,449.6 L1559.86,446.57 L1560.86,443.55 L1561.86,440.54 L1562.86,437.55 L1563.86,434.57 L1564.86,431.59 L1565.86,428.57 L1566.86,425.49 L1567.86,422.31 L1568.86,419 L1569.86,415.57 L1570.86,412.02 L1571.86,408.37 L1572.86,404.64 L1573.86,400.83 L1574.86,396.97 L1575.86,393.07 L1576.86,389.15 L1577.86,385.21 L1578.86,381.27 L1579.86,377.3 L1580.86,373.3 L1581.86,369.28 L1582.86,365.24 L1583.86,361.18 L1584.86,357.11 L1585.86,353.04 L1586.86,348.98 L1587.86,344.92 L1588.86,340.86 L1589.86,336.79 L1590.86,332.73 L1591.86,328.67" stroke="#ff5a05" stroke-width="2.3"/>
<path d="M1590.7,332.73 L1591.7,328.67 L1592.7,324.61 L1593.7,320.54 L1594.7,316.48 L1595.7,312.42 L1596.7,308.36 L1597.7,304.29 L1598.7,300.22 L1599.7,296.16 L1600.7,292.12 L1601.7,288.1 L1602.7,284.1 L1603.7,280.13 L1604.7,276.19 L1605.7,272.25 L1606.7,268.33 L1607.7,264.43 L1608.7,260.57 L1609.7,256.76 L1610.7,253.03 L1611.7,249.38 L1612.7,245.83 L1613.7,242.4 L1614.7,239.09 L1615.7,235.91 L1616.7,232.83 L1617.7,229.81 L1618.7,226.83 L1619.7,223.85 L1620.7,220.86 L1621.7,217.85 L1622.7,214.83 L1623.7,211.8 L1624.7,208.77 L1625.7,205.72 L1626.7,202.66 L1627.7,199.58 L1628.7,196.49 L1629.7,193.4 L1630.7,190.32 L1631.7,187.27 L1632.7,184.25 L1633.7,181.28 L1634.7,178.34 L1635.7,175.45 L1636.7,172.62 L1637.7,169.86 L1638.7,167.21 L1639.7,164.66 L1640.7,162.24 L1641.7,159.92 L1642.7,157.68 L1643.7,155.49 L1644.7,153.33 L1645.7,151.16 L1646.7,148.99 L1647.7,146.82 L1648.7,144.66 L1649.7,142.52 L1650.7,140.42 L1651.7,138.35 L1652.7,136.32 L1653.7,134.33 L1654.7,132.36 L1655.7,130.42 L1656.7,128.51 L1657.7,126.65 L1658.7,124.85 L1659.7,123.1 L1660.7,121.42 L1661.7,119.79 L1662.7,118.23 L1663.7,116.71 L1664.7,115.25 L1665.7,113.82 L1666.7,112.44 L1667.7,111.11 L1668.7,109.83 L1669.7,108.59 L1670.7,107.41 L1671.7,106.28 L1672.7,105.2 L1673.7,104.16 L1674.7,103.16 L1675.7,102.2 L1676.7,101.26 L1677.7,100.36 L1678.7,99.49 L1679.7,98.63 L1680.7,97.79 L1681.7,96.97 L1682.7,96.17 L1683.7,95.38 L1684.7,94.61 L1685.7,93.86 L1686.7,93.12 L1687.7,92.4 L1688.7,91.71 L1689.7,91.03 L1690.7,90.37 L1691.7,89.73 L1692.7,89.1 L1693.7,88.49 L1694.7,87.9 L1695.7,87.32 L1696.7,86.76 L1697.7,86.21 L1698.7,85.69 L1699.7,85.18 L1700.7,84.69 L1704.7,82.92 L1709.7,80.94 L1714.7,79.17 L1719.7,77.56 L1724.7,76.1 L1729.7,74.76 L1734.7,73.53 L1739.7,72.39 L1744.7,71.33 L1749.7,70.34 L1754.7,69.41 L1759.7,68.54 L1764.7,67.7 L1769.7,66.87 L1774.7,66.09 L1779.7,65.43 L1784.7,64.9 L1789.7,64.41 L1794.7,63.94 L1799.7,63.51 L1804.7,63.1 L1809.7,62.71 L1814.7,62.34 L1819.7,62 L1824.7,61.67 L1829.7,61.36 L1834.7,61.07 L1839.7,60.79 L1844.7,60.53 L1849.7,60.27 L1854.7,60.03 L1859.7,59.79 L1864.7,59.56 L1869.7,59.33 L1874.7,59.11 L1879.7,58.89 L1884.7,58.68 L1889.7,58.48 L1894.7,58.29 L1899.7,58.11 L1904.7,57.93 L1909.7,57.77 L1914.7,57.62 L1919.7,57.48 L1924.7,57.36 L1929.7,57.25 L1934.7,57.15 L1937.7,57.09" stroke="#ff5a05" stroke-width="3.4"/>
<path d="M1245.34,604.31 L1250.34,604.21 L1255.34,604.11 L1260.34,603.99 L1265.34,603.86 L1270.34,603.72 L1275.34,603.57 L1280.34,603.4 L1285.34,603.22 L1290.34,603.04 L1295.34,602.84 L1300.34,602.63 L1305.34,602.42 L1310.34,602.2 L1315.34,601.98 L1320.34,601.75 L1325.34,601.51 L1330.34,601.27 L1335.34,601.03 L1340.34,600.77 L1345.34,600.5 L1350.34,600.22 L1355.34,599.92 L1360.34,599.6 L1365.34,599.27 L1370.34,598.91 L1375.34,598.54 L1380.34,598.14 L1385.34,597.72 L1390.34,597.27 L1395.34,596.8 L1400.34,596.3 L1405.34,595.72 L1410.34,595.01 L1415.34,594.2 L1420.34,593.37 L1425.34,592.52 L1430.34,591.63 L1435.34,590.68 L1440.34,589.66 L1445.34,588.57 L1450.34,587.39 L1455.34,586.12 L1460.34,584.73 L1465.34,583.22 L1470.34,581.55 L1475.34,579.69 L1480.34,577.62 L1482.34,576.71 L1483.34,576.22 L1484.34,575.71 L1485.34,575.19 L1486.34,574.64 L1487.34,574.08 L1488.34,573.5 L1489.34,572.91 L1490.34,572.3 L1491.34,571.67 L1492.34,571.03 L1493.34,570.37 L1494.34,569.69 L1495.34,569 L1496.34,568.28 L1497.34,567.54 L1498.34,566.79 L1499.34,566.02 L1500.34,565.23 L1501.34,564.43 L1502.34,563.61 L1503.34,562.77 L1504.34,561.91 L1505.34,561.04 L1506.34,560.14 L1507.34,559.2 L1508.34,558.24 L1509.34,557.24 L1510.34,556.2 L1511.34,555.12 L1512.34,553.99 L1513.34,552.81 L1514.34,551.57 L1515.34,550.29 L1516.34,548.96 L1517.34,547.58 L1518.34,546.15 L1519.34,544.69 L1520.34,543.17 L1521.34,541.61 L1522.34,539.98 L1523.34,538.3 L1524.34,536.55 L1525.34,534.75 L1526.34,532.89 L1527.34,530.98 L1528.34,529.04 L1529.34,527.07 L1530.34,525.08 L1531.34,523.05 L1532.34,520.98 L1533.34,518.88 L1534.34,516.74 L1535.34,514.58 L1536.34,512.41 L1537.34,510.24 L1538.34,508.07 L1539.34,505.91 L1540.34,503.72 L1541.34,501.48 L1542.34,499.16 L1543.34,496.74 L1544.34,494.19 L1545.34,491.54 L1546.34,488.78 L1547.34,485.95 L1548.34,483.06 L1549.34,480.12 L1550.34,477.15 L1551.34,474.13 L1552.34,471.08 L1553.34,468 L1554.34,464.91 L1555.34,461.82 L1556.34,458.74 L1557.34,455.68 L1558.34,452.63 L1559.34,449.6 L1560.34,446.57 L1561.34,443.55 L1562.34,440.54 L1563.34,437.55 L1564.34,434.57 L1565.34,431.59 L1566.34,428.57 L1567.34,425.49 L1568.34,422.31 L1569.34,419 L1570.34,415.57 L1571.34,412.02 L1572.34,408.37 L1573.34,404.64 L1574.34,400.83 L1575.34,396.97 L1576.34,393.07 L1577.34,389.15 L1578.34,385.21 L1579.34,381.27 L1580.34,377.3 L1581.34,373.3 L1582.34,369.28 L1583.34,365.24 L1584.34,361.18 L1585.34,357.11 L1586.34,353.04 L1587.34,348.98 L1588.34,344.92 L1589.34,340.86 L1590.34,336.79 L1591.34,332.73 L1592.34,328.67" stroke="#ff5a05" stroke-width="2.3"/>
<path d="M1591.5,332.73 L1592.5,328.67 L1593.5,324.61 L1594.5,320.54 L1595.5,316.48 L1596.5,312.42 L1597.5,308.36 L1598.5,304.29 L1599.5,300.22 L1600.5,296.16 L1601.5,292.12 L1602.5,288.1 L1603.5,284.1 L1604.5,280.13 L1605.5,276.19 L1606.5,272.25 L1607.5,268.33 L1608.5,264.43 L1609.5,260.57 L1610.5,256.76 L1611.5,253.03 L1612.5,249.38 L1613.5,245.83 L1614.5,242.4 L1615.5,239.09 L1616.5,235.91 L1617.5,232.83 L1618.5,229.81 L1619.5,226.83 L1620.5,223.85 L1621.5,220.86 L1622.5,217.85 L1623.5,214.83 L1624.5,211.8 L1625.5,208.77 L1626.5,205.72 L1627.5,202.66 L1628.5,199.58 L1629.5,196.49 L1630.5,193.4 L1631.5,190.32 L1632.5,187.27 L1633.5,184.25 L1634.5,181.28 L1635.5,178.34 L1636.5,175.45 L1637.5,172.62 L1638.5,169.86 L1639.5,167.21 L1640.5,164.66 L1641.5,162.24 L1642.5,159.92 L1643.5,157.68 L1644.5,155.49 L1645.5,153.33 L1646.5,151.16 L1647.5,148.99 L1648.5,146.82 L1649.5,144.66 L1650.5,142.52 L1651.5,140.42 L1652.5,138.35 L1653.5,136.32 L1654.5,134.33 L1655.5,132.36 L1656.5,130.42 L1657.5,128.51 L1658.5,126.65 L1659.5,124.85 L1660.5,123.1 L1661.5,121.42 L1662.5,119.79 L1663.5,118.23 L1664.5,116.71 L1665.5,115.25 L1666.5,113.82 L1667.5,112.44 L1668.5,111.11 L1669.5,109.83 L1670.5,108.59 L1671.5,107.41 L1672.5,106.28 L1673.5,105.2 L1674.5,104.16 L1675.5,103.16 L1676.5,102.2 L1677.5,101.26 L1678.5,100.36 L1679.5,99.49 L1680.5,98.63 L1681.5,97.79 L1682.5,96.97 L1683.5,96.17 L1684.5,95.38 L1685.5,94.61 L1686.5,93.86 L1687.5,93.12 L1688.5,92.4 L1689.5,91.71 L1690.5,91.03 L1691.5,90.37 L1692.5,89.73 L1693.5,89.1 L1694.5,88.49 L1695.5,87.9 L1696.5,87.32 L1697.5,86.76 L1698.5,86.21 L1699.5,85.69 L1700.5,85.18 L1701.5,84.69 L1705.5,82.92 L1710.5,80.94 L1715.5,79.17 L1720.5,77.56 L1725.5,76.1 L1730.5,74.76 L1735.5,73.53 L1740.5,72.39 L1745.5,71.33 L1750.5,70.34 L1755.5,69.41 L1760.5,68.54 L1765.5,67.7 L1770.5,66.87 L1775.5,66.09 L1780.5,65.43 L1785.5,64.9 L1790.5,64.41 L1795.5,63.94 L1800.5,63.51 L1805.5,63.1 L1810.5,62.71 L1815.5,62.34 L1820.5,62 L1825.5,61.67 L1830.5,61.36 L1835.5,61.07 L1840.5,60.79 L1845.5,60.53 L1850.5,60.27 L1855.5,60.03 L1860.5,59.79 L1865.5,59.56 L1870.5,59.33 L1875.5,59.11 L1880.5,58.89 L1885.5,58.68 L1890.5,58.48 L1895.5,58.29 L1900.5,58.11 L1905.5,57.93 L1910.5,57.77 L1915.5,57.62 L1920.5,57.48 L1925.5,57.36 L1930.5,57.25 L1935.5,57.15 L1938.5,57.09" stroke="#ff5a05" stroke-width="3.4"/>
</g>
<rect x="1205" y="10.8" width="238" height="414.03" fill="#fff"/>
<line x1="1209.4" y1="32.3" x2="1271.4" y2="32.3" stroke="#1c1c1c" stroke-width="1.8" stroke-linecap="round"/>
<text x="1279.4" y="41.3" font-size="27.9" font-weight="bold">Fe<tspan font-size="18.7" dy="7.0" font-weight="bold">10</tspan><tspan dy="-7.0">Co</tspan><tspan font-size="18.7" dy="7.0" font-weight="bold">10</tspan><tspan dy="-7.0">Ni</tspan><tspan font-size="18.7" dy="7.0" font-weight="bold">80</tspan></text>
<line x1="1209.4" y1="73.47" x2="1271.4" y2="73.47" stroke="#ee1c1c" stroke-width="2.2" stroke-linecap="round"/>
<text x="1279.4" y="82.47" font-size="27.9" font-weight="bold">Fe<tspan font-size="18.7" dy="7.0" font-weight="bold">10</tspan><tspan dy="-7.0">Co</tspan><tspan font-size="18.7" dy="7.0" font-weight="bold">20</tspan><tspan dy="-7.0">Ni</tspan><tspan font-size="18.7" dy="7.0" font-weight="bold">70</tspan></text>
<line x1="1209.4" y1="114.64" x2="1271.4" y2="114.64" stroke="#0a50e0" stroke-width="2.2" stroke-linecap="round"/>
<text x="1279.4" y="123.64" font-size="27.9" font-weight="bold">Fe<tspan font-size="18.7" dy="7.0" font-weight="bold">10</tspan><tspan dy="-7.0">Co</tspan><tspan font-size="18.7" dy="7.0" font-weight="bold">70</tspan><tspan dy="-7.0">Ni</tspan><tspan font-size="18.7" dy="7.0" font-weight="bold">20</tspan></text>
<line x1="1209.4" y1="155.81" x2="1271.4" y2="155.81" stroke="#0f9c50" stroke-width="2.2" stroke-linecap="round"/>
<text x="1279.4" y="164.81" font-size="27.9" font-weight="bold">Fe<tspan font-size="18.7" dy="7.0" font-weight="bold">20</tspan><tspan dy="-7.0">Co</tspan><tspan font-size="18.7" dy="7.0" font-weight="bold">40</tspan><tspan dy="-7.0">Ni</tspan><tspan font-size="18.7" dy="7.0" font-weight="bold">40</tspan></text>
<line x1="1209.4" y1="196.98" x2="1271.4" y2="196.98" stroke="#b466e8" stroke-width="2.2" stroke-linecap="round"/>
<text x="1279.4" y="205.98" font-size="27.9" font-weight="bold">Fe<tspan font-size="18.7" dy="7.0" font-weight="bold">33</tspan><tspan dy="-7.0">Co</tspan><tspan font-size="18.7" dy="7.0" font-weight="bold">33</tspan><tspan dy="-7.0">Ni</tspan><tspan font-size="18.7" dy="7.0" font-weight="bold">33</tspan></text>
<line x1="1209.4" y1="238.15" x2="1271.4" y2="238.15" stroke="#c8940a" stroke-width="2.2" stroke-linecap="round"/>
<text x="1279.4" y="247.15" font-size="27.9" font-weight="bold">Fe<tspan font-size="18.7" dy="7.0" font-weight="bold">40</tspan><tspan dy="-7.0">Co</tspan><tspan font-size="18.7" dy="7.0" font-weight="bold">20</tspan><tspan dy="-7.0">Ni</tspan><tspan font-size="18.7" dy="7.0" font-weight="bold">40</tspan></text>
<line x1="1209.4" y1="279.32" x2="1271.4" y2="279.32" stroke="#0cc8c8" stroke-width="2.2" stroke-linecap="round"/>
<text x="1279.4" y="288.32" font-size="27.9" font-weight="bold">Fe<tspan font-size="18.7" dy="7.0" font-weight="bold">40</tspan><tspan dy="-7.0">Co</tspan><tspan font-size="18.7" dy="7.0" font-weight="bold">50</tspan><tspan dy="-7.0">Ni</tspan><tspan font-size="18.7" dy="7.0" font-weight="bold">10</tspan></text>
<line x1="1209.4" y1="320.49" x2="1271.4" y2="320.49" stroke="#5c2a30" stroke-width="2.0" stroke-linecap="round"/>
<text x="1279.4" y="329.49" font-size="27.9" font-weight="bold">Fe<tspan font-size="18.7" dy="7.0" font-weight="bold">50</tspan><tspan dy="-7.0">Co</tspan><tspan font-size="18.7" dy="7.0" font-weight="bold">40</tspan><tspan dy="-7.0">Ni</tspan><tspan font-size="18.7" dy="7.0" font-weight="bold">10</tspan></text>
<line x1="1209.4" y1="361.66" x2="1271.4" y2="361.66" stroke="#808000" stroke-width="2.2" stroke-linecap="round"/>
<text x="1279.4" y="370.66" font-size="27.9" font-weight="bold">Fe<tspan font-size="18.7" dy="7.0" font-weight="bold">54</tspan><tspan dy="-7.0">Co</tspan><tspan font-size="18.7" dy="7.0" font-weight="bold">17</tspan><tspan dy="-7.0">Ni</tspan><tspan font-size="18.7" dy="7.0" font-weight="bold">29</tspan></text>
<line x1="1209.4" y1="402.83" x2="1271.4" y2="402.83" stroke="#ff5a05" stroke-width="2.2" stroke-linecap="round"/>
<text x="1279.4" y="411.83" font-size="27.9" font-weight="bold">Fe<tspan font-size="18.7" dy="7.0" font-weight="bold">57</tspan><tspan dy="-7.0">Co</tspan><tspan font-size="18.7" dy="7.0" font-weight="bold">29</tspan><tspan dy="-7.0">Ni</tspan><tspan font-size="18.7" dy="7.0" font-weight="bold">14</tspan></text>
<rect x="1187.3" y="4.8" width="808.8" height="651.5" fill="none" stroke="#000" stroke-width="2.4"/>
<line x1="1180.5" y1="656.45" x2="1187.3" y2="656.45" stroke="#000" stroke-width="2.4" stroke-linecap="butt"/>
<line x1="1173.5" y1="591.3" x2="1187.3" y2="591.3" stroke="#000" stroke-width="2.4" stroke-linecap="butt"/>
<text transform="translate(1165,600.8) scale(0.925,1)" font-size="32.3" font-weight="bold" font-style="normal" text-anchor="end">-200</text>
<line x1="1180.5" y1="526.15" x2="1187.3" y2="526.15" stroke="#000" stroke-width="2.4" stroke-linecap="butt"/>
<line x1="1173.5" y1="461" x2="1187.3" y2="461" stroke="#000" stroke-width="2.4" stroke-linecap="butt"/>
<text transform="translate(1165,470.5) scale(0.925,1)" font-size="32.3" font-weight="bold" font-style="normal" text-anchor="end">-100</text>
<line x1="1180.5" y1="395.85" x2="1187.3" y2="395.85" stroke="#000" stroke-width="2.4" stroke-linecap="butt"/>
<line x1="1173.5" y1="330.7" x2="1187.3" y2="330.7" stroke="#000" stroke-width="2.4" stroke-linecap="butt"/>
<text transform="translate(1165,340.2) scale(0.925,1)" font-size="32.3" font-weight="bold" font-style="normal" text-anchor="end">0</text>
<line x1="1180.5" y1="265.55" x2="1187.3" y2="265.55" stroke="#000" stroke-width="2.4" stroke-linecap="butt"/>
<line x1="1173.5" y1="200.4" x2="1187.3" y2="200.4" stroke="#000" stroke-width="2.4" stroke-linecap="butt"/>
<text transform="translate(1165,209.9) scale(0.925,1)" font-size="32.3" font-weight="bold" font-style="normal" text-anchor="end">100</text>
<line x1="1180.5" y1="135.25" x2="1187.3" y2="135.25" stroke="#000" stroke-width="2.4" stroke-linecap="butt"/>
<line x1="1173.5" y1="70.1" x2="1187.3" y2="70.1" stroke="#000" stroke-width="2.4" stroke-linecap="butt"/>
<text transform="translate(1165,79.6) scale(0.925,1)" font-size="32.3" font-weight="bold" font-style="normal" text-anchor="end">200</text>
<line x1="1180.5" y1="4.95" x2="1187.3" y2="4.95" stroke="#000" stroke-width="2.4" stroke-linecap="butt"/>
<line x1="1187.17" y1="656.3" x2="1187.17" y2="661.98" stroke="#000" stroke-width="2.4" stroke-linecap="butt"/>
<line x1="1244.95" y1="656.3" x2="1244.95" y2="668.5" stroke="#000" stroke-width="2.4" stroke-linecap="butt"/>
<text transform="translate(1244.95,701.9) scale(0.925,1)" font-size="32.3" font-weight="bold" font-style="normal" text-anchor="middle">-15000</text>
<line x1="1302.72" y1="656.3" x2="1302.72" y2="661.98" stroke="#000" stroke-width="2.4" stroke-linecap="butt"/>
<line x1="1360.5" y1="656.3" x2="1360.5" y2="668.5" stroke="#000" stroke-width="2.4" stroke-linecap="butt"/>
<text transform="translate(1360.5,701.9) scale(0.925,1)" font-size="32.3" font-weight="bold" font-style="normal" text-anchor="middle">-10000</text>
<line x1="1418.27" y1="656.3" x2="1418.27" y2="661.98" stroke="#000" stroke-width="2.4" stroke-linecap="butt"/>
<line x1="1476.05" y1="656.3" x2="1476.05" y2="668.5" stroke="#000" stroke-width="2.4" stroke-linecap="butt"/>
<text transform="translate(1476.05,701.9) scale(0.925,1)" font-size="32.3" font-weight="bold" font-style="normal" text-anchor="middle">-5000</text>
<line x1="1533.82" y1="656.3" x2="1533.82" y2="661.98" stroke="#000" stroke-width="2.4" stroke-linecap="butt"/>
<line x1="1591.6" y1="656.3" x2="1591.6" y2="668.5" stroke="#000" stroke-width="2.4" stroke-linecap="butt"/>
<text transform="translate(1591.6,701.9) scale(0.925,1)" font-size="32.3" font-weight="bold" font-style="normal" text-anchor="middle">0</text>
<line x1="1649.38" y1="656.3" x2="1649.38" y2="661.98" stroke="#000" stroke-width="2.4" stroke-linecap="butt"/>
<line x1="1707.15" y1="656.3" x2="1707.15" y2="668.5" stroke="#000" stroke-width="2.4" stroke-linecap="butt"/>
<text transform="translate(1707.15,701.9) scale(0.925,1)" font-size="32.3" font-weight="bold" font-style="normal" text-anchor="middle">5000</text>
<line x1="1764.92" y1="656.3" x2="1764.92" y2="661.98" stroke="#000" stroke-width="2.4" stroke-linecap="butt"/>
<line x1="1822.7" y1="656.3" x2="1822.7" y2="668.5" stroke="#000" stroke-width="2.4" stroke-linecap="butt"/>
<text transform="translate(1822.7,701.9) scale(0.925,1)" font-size="32.3" font-weight="bold" font-style="normal" text-anchor="middle">10000</text>
<line x1="1880.47" y1="656.3" x2="1880.47" y2="661.98" stroke="#000" stroke-width="2.4" stroke-linecap="butt"/>
<line x1="1938.25" y1="656.3" x2="1938.25" y2="668.5" stroke="#000" stroke-width="2.4" stroke-linecap="butt"/>
<text transform="translate(1938.25,701.9) scale(0.925,1)" font-size="32.3" font-weight="bold" font-style="normal" text-anchor="middle">15000</text>
<line x1="1996.02" y1="656.3" x2="1996.02" y2="661.98" stroke="#000" stroke-width="2.4" stroke-linecap="butt"/>
<text transform="translate(1591.6,757.7) scale(0.965,1)" font-size="35" font-weight="bold" font-style="normal" text-anchor="middle">Magnetic Field (Oe)</text>
<g transform="translate(1060.6,398) rotate(-90)">
<text transform="translate(0,0) scale(0.92,1)" font-size="36" font-weight="bold" font-style="italic">M</text>
<text transform="translate(28.6,8.5)" font-size="24.5" font-weight="normal" font-style="normal" stroke="#000" stroke-width="0.9">s</text>
<text transform="translate(50.2,0) scale(0.985,1)" font-size="34" font-weight="bold" font-style="normal">(emu/g)</text>
</g>
<text x="1028" y="42.2" font-size="36" font-weight="bold" font-style="normal" text-anchor="start">(b)</text>
</g>
<g id="panel-c">
<g fill="none" stroke-linejoin="miter">
<polyline points="231.71,1300 307.12,1315.5 382.53,1133.2 457.94,1153 533.35,1172.5 608.75,1148.5 684.16,951.2 759.57,900.8 834.98,1247 910.39,1103.2" stroke="#262626" stroke-width="2"/>
</g>
<rect x="225.91" y="1294.2" width="11.6" height="11.6" fill="#4a4a4a" stroke="#3a3a3a" stroke-width="0.6"/>
<rect x="301.32" y="1309.7" width="11.6" height="11.6" fill="#4a4a4a" stroke="#3a3a3a" stroke-width="0.6"/>
<rect x="376.73" y="1127.4" width="11.6" height="11.6" fill="#4a4a4a" stroke="#3a3a3a" stroke-width="0.6"/>
<rect x="452.14" y="1147.2" width="11.6" height="11.6" fill="#4a4a4a" stroke="#3a3a3a" stroke-width="0.6"/>
<rect x="527.55" y="1166.7" width="11.6" height="11.6" fill="#4a4a4a" stroke="#3a3a3a" stroke-width="0.6"/>
<rect x="602.95" y="1142.7" width="11.6" height="11.6" fill="#4a4a4a" stroke="#3a3a3a" stroke-width="0.6"/>
<rect x="678.36" y="945.4" width="11.6" height="11.6" fill="#4a4a4a" stroke="#3a3a3a" stroke-width="0.6"/>
<rect x="753.77" y="895" width="11.6" height="11.6" fill="#4a4a4a" stroke="#3a3a3a" stroke-width="0.6"/>
<rect x="829.18" y="1241.2" width="11.6" height="11.6" fill="#4a4a4a" stroke="#3a3a3a" stroke-width="0.6"/>
<rect x="904.59" y="1097.4" width="11.6" height="11.6" fill="#4a4a4a" stroke="#3a3a3a" stroke-width="0.6"/>
<polyline fill="none" points="231.71,1285.8 307.12,1290.5 382.53,1098.7 457.94,1150.7 533.35,1108 608.75,1120 684.16,932.5 759.57,879.2 834.98,1018 910.39,866" stroke="#ee1c1c" stroke-width="2.2"/>
<circle cx="231.71" cy="1285.8" r="6.6" fill="#f23a3e"/>
<circle cx="307.12" cy="1290.5" r="6.6" fill="#f23a3e"/>
<circle cx="382.53" cy="1098.7" r="6.6" fill="#f23a3e"/>
<circle cx="457.94" cy="1150.7" r="6.6" fill="#f23a3e"/>
<circle cx="533.35" cy="1108" r="6.6" fill="#f23a3e"/>
<circle cx="608.75" cy="1120" r="6.6" fill="#f23a3e"/>
<circle cx="684.16" cy="932.5" r="6.6" fill="#f23a3e"/>
<circle cx="759.57" cy="879.2" r="6.6" fill="#f23a3e"/>
<circle cx="834.98" cy="1018" r="6.6" fill="#f23a3e"/>
<circle cx="910.39" cy="866" r="6.6" fill="#f23a3e"/>
<line x1="179" y1="866.2" x2="249" y2="866.2" stroke="#262626" stroke-width="1.9" stroke-linecap="round"/>
<rect x="208" y="860.4" width="11.6" height="11.6" fill="#4a4a4a" stroke="#3a3a3a" stroke-width="0.6"/>
<line x1="179" y1="904.6" x2="249" y2="904.6" stroke="#ee1c1c" stroke-width="2.1" stroke-linecap="round"/>
<circle cx="213.8" cy="904.6" r="6.6" fill="#f23a3e"/>
<text transform="translate(257.5,876.8) scale(1.025,1)" font-size="30.6" font-weight="normal" font-style="normal" text-anchor="start">As-SPS</text>
<text transform="translate(257.5,915.2) scale(1.025,1)" font-size="30.6" font-weight="normal" font-style="normal" text-anchor="start">Annealed</text>
<rect x="156.3" y="827.5" width="829.5" height="541.8" fill="none" stroke="#000" stroke-width="2.3"/>
<line x1="145.1" y1="1369.3" x2="156.3" y2="1369.3" stroke="#000" stroke-width="2.3" stroke-linecap="butt"/>
<text transform="translate(136.7,1378.6) scale(0.975,1)" font-size="32.3" font-weight="bold" font-style="normal" text-anchor="end">80</text>
<line x1="150.7" y1="1330.6" x2="156.3" y2="1330.6" stroke="#000" stroke-width="2.3" stroke-linecap="butt"/>
<line x1="145.1" y1="1291.9" x2="156.3" y2="1291.9" stroke="#000" stroke-width="2.3" stroke-linecap="butt"/>
<text transform="translate(136.7,1301.2) scale(0.975,1)" font-size="32.3" font-weight="bold" font-style="normal" text-anchor="end">100</text>
<line x1="150.7" y1="1253.2" x2="156.3" y2="1253.2" stroke="#000" stroke-width="2.3" stroke-linecap="butt"/>
<line x1="145.1" y1="1214.5" x2="156.3" y2="1214.5" stroke="#000" stroke-width="2.3" stroke-linecap="butt"/>
<text transform="translate(136.7,1223.8) scale(0.975,1)" font-size="32.3" font-weight="bold" font-style="normal" text-anchor="end">120</text>
<line x1="150.7" y1="1175.8" x2="156.3" y2="1175.8" stroke="#000" stroke-width="2.3" stroke-linecap="butt"/>
<line x1="145.1" y1="1137.1" x2="156.3" y2="1137.1" stroke="#000" stroke-width="2.3" stroke-linecap="butt"/>
<text transform="translate(136.7,1146.4) scale(0.975,1)" font-size="32.3" font-weight="bold" font-style="normal" text-anchor="end">140</text>
<line x1="150.7" y1="1098.4" x2="156.3" y2="1098.4" stroke="#000" stroke-width="2.3" stroke-linecap="butt"/>
<line x1="145.1" y1="1059.7" x2="156.3" y2="1059.7" stroke="#000" stroke-width="2.3" stroke-linecap="butt"/>
<text transform="translate(136.7,1069) scale(0.975,1)" font-size="32.3" font-weight="bold" font-style="normal" text-anchor="end">160</text>
<line x1="150.7" y1="1021" x2="156.3" y2="1021" stroke="#000" stroke-width="2.3" stroke-linecap="butt"/>
<line x1="145.1" y1="982.3" x2="156.3" y2="982.3" stroke="#000" stroke-width="2.3" stroke-linecap="butt"/>
<text transform="translate(136.7,991.6) scale(0.975,1)" font-size="32.3" font-weight="bold" font-style="normal" text-anchor="end">180</text>
<line x1="150.7" y1="943.6" x2="156.3" y2="943.6" stroke="#000" stroke-width="2.3" stroke-linecap="butt"/>
<line x1="145.1" y1="904.9" x2="156.3" y2="904.9" stroke="#000" stroke-width="2.3" stroke-linecap="butt"/>
<text transform="translate(136.7,914.2) scale(0.975,1)" font-size="32.3" font-weight="bold" font-style="normal" text-anchor="end">200</text>
<line x1="150.7" y1="866.2" x2="156.3" y2="866.2" stroke="#000" stroke-width="2.3" stroke-linecap="butt"/>
<line x1="145.1" y1="827.5" x2="156.3" y2="827.5" stroke="#000" stroke-width="2.3" stroke-linecap="butt"/>
<text transform="translate(136.7,836.8) scale(0.975,1)" font-size="32.3" font-weight="bold" font-style="normal" text-anchor="end">220</text>
<line x1="156.3" y1="1369.3" x2="156.3" y2="1380.5" stroke="#000" stroke-width="2.3" stroke-linecap="butt"/>
<line x1="194" y1="1369.3" x2="194" y2="1374.9" stroke="#000" stroke-width="2.3" stroke-linecap="butt"/>
<line x1="231.71" y1="1369.3" x2="231.71" y2="1380.5" stroke="#000" stroke-width="2.3" stroke-linecap="butt"/>
<line x1="269.41" y1="1369.3" x2="269.41" y2="1374.9" stroke="#000" stroke-width="2.3" stroke-linecap="butt"/>
<line x1="307.12" y1="1369.3" x2="307.12" y2="1380.5" stroke="#000" stroke-width="2.3" stroke-linecap="butt"/>
<line x1="344.82" y1="1369.3" x2="344.82" y2="1374.9" stroke="#000" stroke-width="2.3" stroke-linecap="butt"/>
<line x1="382.53" y1="1369.3" x2="382.53" y2="1380.5" stroke="#000" stroke-width="2.3" stroke-linecap="butt"/>
<line x1="420.23" y1="1369.3" x2="420.23" y2="1374.9" stroke="#000" stroke-width="2.3" stroke-linecap="butt"/>
<line x1="457.94" y1="1369.3" x2="457.94" y2="1380.5" stroke="#000" stroke-width="2.3" stroke-linecap="butt"/>
<line x1="495.64" y1="1369.3" x2="495.64" y2="1374.9" stroke="#000" stroke-width="2.3" stroke-linecap="butt"/>
<line x1="533.35" y1="1369.3" x2="533.35" y2="1380.5" stroke="#000" stroke-width="2.3" stroke-linecap="butt"/>
<line x1="571.05" y1="1369.3" x2="571.05" y2="1374.9" stroke="#000" stroke-width="2.3" stroke-linecap="butt"/>
<line x1="608.75" y1="1369.3" x2="608.75" y2="1380.5" stroke="#000" stroke-width="2.3" stroke-linecap="butt"/>
<line x1="646.46" y1="1369.3" x2="646.46" y2="1374.9" stroke="#000" stroke-width="2.3" stroke-linecap="butt"/>
<line x1="684.16" y1="1369.3" x2="684.16" y2="1380.5" stroke="#000" stroke-width="2.3" stroke-linecap="butt"/>
<line x1="721.87" y1="1369.3" x2="721.87" y2="1374.9" stroke="#000" stroke-width="2.3" stroke-linecap="butt"/>
<line x1="759.57" y1="1369.3" x2="759.57" y2="1380.5" stroke="#000" stroke-width="2.3" stroke-linecap="butt"/>
<line x1="797.28" y1="1369.3" x2="797.28" y2="1374.9" stroke="#000" stroke-width="2.3" stroke-linecap="butt"/>
<line x1="834.98" y1="1369.3" x2="834.98" y2="1380.5" stroke="#000" stroke-width="2.3" stroke-linecap="butt"/>
<line x1="872.69" y1="1369.3" x2="872.69" y2="1374.9" stroke="#000" stroke-width="2.3" stroke-linecap="butt"/>
<line x1="910.39" y1="1369.3" x2="910.39" y2="1380.5" stroke="#000" stroke-width="2.3" stroke-linecap="butt"/>
<line x1="948.1" y1="1369.3" x2="948.1" y2="1374.9" stroke="#000" stroke-width="2.3" stroke-linecap="butt"/>
<line x1="985.8" y1="1369.3" x2="985.8" y2="1380.5" stroke="#000" stroke-width="2.3" stroke-linecap="butt"/>
<text x="0" y="0" font-size="32.6" font-weight="bold" transform="translate(112.21,1489) rotate(-30)">Fe<tspan font-size="20.3" dy="6.0" font-weight="normal" stroke="#000" stroke-width="0.55">10</tspan><tspan dy="-6.0">Co</tspan><tspan font-size="20.3" dy="6.0" font-weight="normal" stroke="#000" stroke-width="0.55">10</tspan><tspan dy="-6.0">Ni</tspan><tspan font-size="20.3" dy="6.0" font-weight="normal" stroke="#000" stroke-width="0.55">80</tspan></text>
<text x="0" y="0" font-size="32.6" font-weight="bold" transform="translate(187.62,1489) rotate(-30)">Fe<tspan font-size="20.3" dy="6.0" font-weight="normal" stroke="#000" stroke-width="0.55">10</tspan><tspan dy="-6.0">Co</tspan><tspan font-size="20.3" dy="6.0" font-weight="normal" stroke="#000" stroke-width="0.55">20</tspan><tspan dy="-6.0">Ni</tspan><tspan font-size="20.3" dy="6.0" font-weight="normal" stroke="#000" stroke-width="0.55">70</tspan></text>
<text x="0" y="0" font-size="32.6" font-weight="bold" transform="translate(263.03,1489) rotate(-30)">Fe<tspan font-size="20.3" dy="6.0" font-weight="normal" stroke="#000" stroke-width="0.55">10</tspan><tspan dy="-6.0">Co</tspan><tspan font-size="20.3" dy="6.0" font-weight="normal" stroke="#000" stroke-width="0.55">70</tspan><tspan dy="-6.0">Ni</tspan><tspan font-size="20.3" dy="6.0" font-weight="normal" stroke="#000" stroke-width="0.55">20</tspan></text>
<text x="0" y="0" font-size="32.6" font-weight="bold" transform="translate(338.44,1489) rotate(-30)">Fe<tspan font-size="20.3" dy="6.0" font-weight="normal" stroke="#000" stroke-width="0.55">20</tspan><tspan dy="-6.0">Co</tspan><tspan font-size="20.3" dy="6.0" font-weight="normal" stroke="#000" stroke-width="0.55">40</tspan><tspan dy="-6.0">Ni</tspan><tspan font-size="20.3" dy="6.0" font-weight="normal" stroke="#000" stroke-width="0.55">40</tspan></text>
<text x="0" y="0" font-size="32.6" font-weight="bold" transform="translate(413.85,1489) rotate(-30)">Fe<tspan font-size="20.3" dy="6.0" font-weight="normal" stroke="#000" stroke-width="0.55">33</tspan><tspan dy="-6.0">Co</tspan><tspan font-size="20.3" dy="6.0" font-weight="normal" stroke="#000" stroke-width="0.55">33</tspan><tspan dy="-6.0">Ni</tspan><tspan font-size="20.3" dy="6.0" font-weight="normal" stroke="#000" stroke-width="0.55">33</tspan></text>
<text x="0" y="0" font-size="32.6" font-weight="bold" transform="translate(489.25,1489) rotate(-30)">Fe<tspan font-size="20.3" dy="6.0" font-weight="normal" stroke="#000" stroke-width="0.55">40</tspan><tspan dy="-6.0">Co</tspan><tspan font-size="20.3" dy="6.0" font-weight="normal" stroke="#000" stroke-width="0.55">20</tspan><tspan dy="-6.0">Ni</tspan><tspan font-size="20.3" dy="6.0" font-weight="normal" stroke="#000" stroke-width="0.55">40</tspan></text>
<text x="0" y="0" font-size="32.6" font-weight="bold" transform="translate(564.66,1489) rotate(-30)">Fe<tspan font-size="20.3" dy="6.0" font-weight="normal" stroke="#000" stroke-width="0.55">40</tspan><tspan dy="-6.0">Co</tspan><tspan font-size="20.3" dy="6.0" font-weight="normal" stroke="#000" stroke-width="0.55">50</tspan><tspan dy="-6.0">Ni</tspan><tspan font-size="20.3" dy="6.0" font-weight="normal" stroke="#000" stroke-width="0.55">10</tspan></text>
<text x="0" y="0" font-size="32.6" font-weight="bold" transform="translate(640.07,1489) rotate(-30)">Fe<tspan font-size="20.3" dy="6.0" font-weight="normal" stroke="#000" stroke-width="0.55">50</tspan><tspan dy="-6.0">Co</tspan><tspan font-size="20.3" dy="6.0" font-weight="normal" stroke="#000" stroke-width="0.55">40</tspan><tspan dy="-6.0">Ni</tspan><tspan font-size="20.3" dy="6.0" font-weight="normal" stroke="#000" stroke-width="0.55">10</tspan></text>
<text x="0" y="0" font-size="32.6" font-weight="bold" transform="translate(715.48,1489) rotate(-30)">Fe<tspan font-size="20.3" dy="6.0" font-weight="normal" stroke="#000" stroke-width="0.55">54</tspan><tspan dy="-6.0">Co</tspan><tspan font-size="20.3" dy="6.0" font-weight="normal" stroke="#000" stroke-width="0.55">17</tspan><tspan dy="-6.0">Ni</tspan><tspan font-size="20.3" dy="6.0" font-weight="normal" stroke="#000" stroke-width="0.55">29</tspan></text>
<text x="0" y="0" font-size="32.6" font-weight="bold" transform="translate(790.89,1489) rotate(-30)">Fe<tspan font-size="20.3" dy="6.0" font-weight="normal" stroke="#000" stroke-width="0.55">57</tspan><tspan dy="-6.0">Co</tspan><tspan font-size="20.3" dy="6.0" font-weight="normal" stroke="#000" stroke-width="0.55">29</tspan><tspan dy="-6.0">Ni</tspan><tspan font-size="20.3" dy="6.0" font-weight="normal" stroke="#000" stroke-width="0.55">14</tspan></text>
<text transform="translate(533.2,1529) scale(0.982,1)" font-size="34.7" font-weight="bold" font-style="normal" text-anchor="middle">Composition</text>
<g transform="translate(56.4,1183.6) rotate(-90)">
<text transform="translate(0,0) scale(0.75,1)" font-size="36" font-weight="bold" font-style="italic">M</text>
<text transform="translate(27.3,9)" font-size="25" font-weight="normal" font-style="italic" stroke="#000" stroke-width="0.9">s</text>
<text transform="translate(50.5,0) scale(0.984,1)" font-size="34" font-weight="bold" font-style="normal">(emu/g)</text>
</g>
<text x="26.3" y="837.4" font-size="34" font-weight="bold" font-style="normal" text-anchor="start">(c)</text>
</g>
<g id="panel-d">
<g fill="none" stroke-linejoin="miter">
<polyline points="1236.39,1243.8 1312.98,1196.2 1389.57,1300 1466.16,1136.2 1542.75,1286.8 1619.35,1274.5 1695.94,880.5 1772.53,980 1849.12,1208.8 1925.71,970" stroke="#262626" stroke-width="2"/>
</g>
<rect x="1230.59" y="1238" width="11.6" height="11.6" fill="#4a4a4a" stroke="#3a3a3a" stroke-width="0.6"/>
<rect x="1307.18" y="1190.4" width="11.6" height="11.6" fill="#4a4a4a" stroke="#3a3a3a" stroke-width="0.6"/>
<rect x="1383.77" y="1294.2" width="11.6" height="11.6" fill="#4a4a4a" stroke="#3a3a3a" stroke-width="0.6"/>
<rect x="1460.36" y="1130.4" width="11.6" height="11.6" fill="#4a4a4a" stroke="#3a3a3a" stroke-width="0.6"/>
<rect x="1536.95" y="1281" width="11.6" height="11.6" fill="#4a4a4a" stroke="#3a3a3a" stroke-width="0.6"/>
<rect x="1613.55" y="1268.7" width="11.6" height="11.6" fill="#4a4a4a" stroke="#3a3a3a" stroke-width="0.6"/>
<rect x="1690.14" y="874.7" width="11.6" height="11.6" fill="#4a4a4a" stroke="#3a3a3a" stroke-width="0.6"/>
<rect x="1766.73" y="974.2" width="11.6" height="11.6" fill="#4a4a4a" stroke="#3a3a3a" stroke-width="0.6"/>
<rect x="1843.32" y="1203" width="11.6" height="11.6" fill="#4a4a4a" stroke="#3a3a3a" stroke-width="0.6"/>
<rect x="1919.91" y="964.2" width="11.6" height="11.6" fill="#4a4a4a" stroke="#3a3a3a" stroke-width="0.6"/>
<polyline fill="none" points="1236.39,1249.5 1312.98,1249.5 1389.57,1258 1466.16,1262.5 1542.75,1283.8 1619.35,1281.2 1695.94,1100.8 1772.53,1286.8 1849.12,1252 1925.71,1086.8" stroke="#ee1c1c" stroke-width="2.2"/>
<circle cx="1236.39" cy="1249.5" r="6.6" fill="#f23a3e"/>
<circle cx="1312.98" cy="1249.5" r="6.6" fill="#f23a3e"/>
<circle cx="1389.57" cy="1258" r="6.6" fill="#f23a3e"/>
<circle cx="1466.16" cy="1262.5" r="6.6" fill="#f23a3e"/>
<circle cx="1542.75" cy="1283.8" r="6.6" fill="#f23a3e"/>
<circle cx="1619.35" cy="1281.2" r="6.6" fill="#f23a3e"/>
<circle cx="1695.94" cy="1100.8" r="6.6" fill="#f23a3e"/>
<circle cx="1772.53" cy="1286.8" r="6.6" fill="#f23a3e"/>
<circle cx="1849.12" cy="1252" r="6.6" fill="#f23a3e"/>
<circle cx="1925.71" cy="1086.8" r="6.6" fill="#f23a3e"/>
<line x1="1182" y1="864.3" x2="1252" y2="864.3" stroke="#262626" stroke-width="1.9" stroke-linecap="round"/>
<rect x="1211" y="858.5" width="11.6" height="11.6" fill="#4a4a4a" stroke="#3a3a3a" stroke-width="0.6"/>
<line x1="1182" y1="903.3" x2="1252" y2="903.3" stroke="#ee1c1c" stroke-width="2.1" stroke-linecap="round"/>
<circle cx="1216.8" cy="903.3" r="6.6" fill="#f23a3e"/>
<text transform="translate(1260.5,874.9) scale(1.025,1)" font-size="30.6" font-weight="normal" font-style="normal" text-anchor="start">As-SPS</text>
<text transform="translate(1260.5,913.9) scale(1.025,1)" font-size="30.6" font-weight="normal" font-style="normal" text-anchor="start">Annealed</text>
<rect x="1159.8" y="827.5" width="842.5" height="540.4" fill="none" stroke="#000" stroke-width="2.3"/>
<line x1="1154.2" y1="1367.9" x2="1159.8" y2="1367.9" stroke="#000" stroke-width="2.3" stroke-linecap="butt"/>
<line x1="1148.6" y1="1331.87" x2="1159.8" y2="1331.87" stroke="#000" stroke-width="2.3" stroke-linecap="butt"/>
<text transform="translate(1140.2,1341.17) scale(0.975,1)" font-size="32.3" font-weight="bold" font-style="normal" text-anchor="end">0</text>
<line x1="1154.2" y1="1295.85" x2="1159.8" y2="1295.85" stroke="#000" stroke-width="2.3" stroke-linecap="butt"/>
<line x1="1148.6" y1="1259.82" x2="1159.8" y2="1259.82" stroke="#000" stroke-width="2.3" stroke-linecap="butt"/>
<text transform="translate(1140.2,1269.12) scale(0.975,1)" font-size="32.3" font-weight="bold" font-style="normal" text-anchor="end">5</text>
<line x1="1154.2" y1="1223.79" x2="1159.8" y2="1223.79" stroke="#000" stroke-width="2.3" stroke-linecap="butt"/>
<line x1="1148.6" y1="1187.77" x2="1159.8" y2="1187.77" stroke="#000" stroke-width="2.3" stroke-linecap="butt"/>
<text transform="translate(1140.2,1197.07) scale(0.975,1)" font-size="32.3" font-weight="bold" font-style="normal" text-anchor="end">10</text>
<line x1="1154.2" y1="1151.74" x2="1159.8" y2="1151.74" stroke="#000" stroke-width="2.3" stroke-linecap="butt"/>
<line x1="1148.6" y1="1115.71" x2="1159.8" y2="1115.71" stroke="#000" stroke-width="2.3" stroke-linecap="butt"/>
<text transform="translate(1140.2,1125.01) scale(0.975,1)" font-size="32.3" font-weight="bold" font-style="normal" text-anchor="end">15</text>
<line x1="1154.2" y1="1079.69" x2="1159.8" y2="1079.69" stroke="#000" stroke-width="2.3" stroke-linecap="butt"/>
<line x1="1148.6" y1="1043.66" x2="1159.8" y2="1043.66" stroke="#000" stroke-width="2.3" stroke-linecap="butt"/>
<text transform="translate(1140.2,1052.96) scale(0.975,1)" font-size="32.3" font-weight="bold" font-style="normal" text-anchor="end">20</text>
<line x1="1154.2" y1="1007.63" x2="1159.8" y2="1007.63" stroke="#000" stroke-width="2.3" stroke-linecap="butt"/>
<line x1="1148.6" y1="971.61" x2="1159.8" y2="971.61" stroke="#000" stroke-width="2.3" stroke-linecap="butt"/>
<text transform="translate(1140.2,980.91) scale(0.975,1)" font-size="32.3" font-weight="bold" font-style="normal" text-anchor="end">25</text>
<line x1="1154.2" y1="935.58" x2="1159.8" y2="935.58" stroke="#000" stroke-width="2.3" stroke-linecap="butt"/>
<line x1="1148.6" y1="899.55" x2="1159.8" y2="899.55" stroke="#000" stroke-width="2.3" stroke-linecap="butt"/>
<text transform="translate(1140.2,908.85) scale(0.975,1)" font-size="32.3" font-weight="bold" font-style="normal" text-anchor="end">30</text>
<line x1="1154.2" y1="863.53" x2="1159.8" y2="863.53" stroke="#000" stroke-width="2.3" stroke-linecap="butt"/>
<line x1="1148.6" y1="827.5" x2="1159.8" y2="827.5" stroke="#000" stroke-width="2.3" stroke-linecap="butt"/>
<text transform="translate(1140.2,836.8) scale(0.975,1)" font-size="32.3" font-weight="bold" font-style="normal" text-anchor="end">35</text>
<line x1="1159.8" y1="1367.9" x2="1159.8" y2="1379.1" stroke="#000" stroke-width="2.3" stroke-linecap="butt"/>
<line x1="1198.1" y1="1367.9" x2="1198.1" y2="1373.5" stroke="#000" stroke-width="2.3" stroke-linecap="butt"/>
<line x1="1236.39" y1="1367.9" x2="1236.39" y2="1379.1" stroke="#000" stroke-width="2.3" stroke-linecap="butt"/>
<line x1="1274.69" y1="1367.9" x2="1274.69" y2="1373.5" stroke="#000" stroke-width="2.3" stroke-linecap="butt"/>
<line x1="1312.98" y1="1367.9" x2="1312.98" y2="1379.1" stroke="#000" stroke-width="2.3" stroke-linecap="butt"/>
<line x1="1351.28" y1="1367.9" x2="1351.28" y2="1373.5" stroke="#000" stroke-width="2.3" stroke-linecap="butt"/>
<line x1="1389.57" y1="1367.9" x2="1389.57" y2="1379.1" stroke="#000" stroke-width="2.3" stroke-linecap="butt"/>
<line x1="1427.87" y1="1367.9" x2="1427.87" y2="1373.5" stroke="#000" stroke-width="2.3" stroke-linecap="butt"/>
<line x1="1466.16" y1="1367.9" x2="1466.16" y2="1379.1" stroke="#000" stroke-width="2.3" stroke-linecap="butt"/>
<line x1="1504.46" y1="1367.9" x2="1504.46" y2="1373.5" stroke="#000" stroke-width="2.3" stroke-linecap="butt"/>
<line x1="1542.75" y1="1367.9" x2="1542.75" y2="1379.1" stroke="#000" stroke-width="2.3" stroke-linecap="butt"/>
<line x1="1581.05" y1="1367.9" x2="1581.05" y2="1373.5" stroke="#000" stroke-width="2.3" stroke-linecap="butt"/>
<line x1="1619.35" y1="1367.9" x2="1619.35" y2="1379.1" stroke="#000" stroke-width="2.3" stroke-linecap="butt"/>
<line x1="1657.64" y1="1367.9" x2="1657.64" y2="1373.5" stroke="#000" stroke-width="2.3" stroke-linecap="butt"/>
<line x1="1695.94" y1="1367.9" x2="1695.94" y2="1379.1" stroke="#000" stroke-width="2.3" stroke-linecap="butt"/>
<line x1="1734.23" y1="1367.9" x2="1734.23" y2="1373.5" stroke="#000" stroke-width="2.3" stroke-linecap="butt"/>
<line x1="1772.53" y1="1367.9" x2="1772.53" y2="1379.1" stroke="#000" stroke-width="2.3" stroke-linecap="butt"/>
<line x1="1810.82" y1="1367.9" x2="1810.82" y2="1373.5" stroke="#000" stroke-width="2.3" stroke-linecap="butt"/>
<line x1="1849.12" y1="1367.9" x2="1849.12" y2="1379.1" stroke="#000" stroke-width="2.3" stroke-linecap="butt"/>
<line x1="1887.41" y1="1367.9" x2="1887.41" y2="1373.5" stroke="#000" stroke-width="2.3" stroke-linecap="butt"/>
<line x1="1925.71" y1="1367.9" x2="1925.71" y2="1379.1" stroke="#000" stroke-width="2.3" stroke-linecap="butt"/>
<line x1="1964" y1="1367.9" x2="1964" y2="1373.5" stroke="#000" stroke-width="2.3" stroke-linecap="butt"/>
<line x1="2002.3" y1="1367.9" x2="2002.3" y2="1379.1" stroke="#000" stroke-width="2.3" stroke-linecap="butt"/>
<text x="0" y="0" font-size="32.6" font-weight="bold" transform="translate(1116.89,1487.5) rotate(-30)">Fe<tspan font-size="20.3" dy="6.0" font-weight="normal" stroke="#000" stroke-width="0.55">10</tspan><tspan dy="-6.0">Co</tspan><tspan font-size="20.3" dy="6.0" font-weight="normal" stroke="#000" stroke-width="0.55">10</tspan><tspan dy="-6.0">Ni</tspan><tspan font-size="20.3" dy="6.0" font-weight="normal" stroke="#000" stroke-width="0.55">80</tspan></text>
<text x="0" y="0" font-size="32.6" font-weight="bold" transform="translate(1193.48,1487.5) rotate(-30)">Fe<tspan font-size="20.3" dy="6.0" font-weight="normal" stroke="#000" stroke-width="0.55">10</tspan><tspan dy="-6.0">Co</tspan><tspan font-size="20.3" dy="6.0" font-weight="normal" stroke="#000" stroke-width="0.55">20</tspan><tspan dy="-6.0">Ni</tspan><tspan font-size="20.3" dy="6.0" font-weight="normal" stroke="#000" stroke-width="0.55">70</tspan></text>
<text x="0" y="0" font-size="32.6" font-weight="bold" transform="translate(1270.07,1487.5) rotate(-30)">Fe<tspan font-size="20.3" dy="6.0" font-weight="normal" stroke="#000" stroke-width="0.55">10</tspan><tspan dy="-6.0">Co</tspan><tspan font-size="20.3" dy="6.0" font-weight="normal" stroke="#000" stroke-width="0.55">70</tspan><tspan dy="-6.0">Ni</tspan><tspan font-size="20.3" dy="6.0" font-weight="normal" stroke="#000" stroke-width="0.55">20</tspan></text>
<text x="0" y="0" font-size="32.6" font-weight="bold" transform="translate(1346.66,1487.5) rotate(-30)">Fe<tspan font-size="20.3" dy="6.0" font-weight="normal" stroke="#000" stroke-width="0.55">20</tspan><tspan dy="-6.0">Co</tspan><tspan font-size="20.3" dy="6.0" font-weight="normal" stroke="#000" stroke-width="0.55">40</tspan><tspan dy="-6.0">Ni</tspan><tspan font-size="20.3" dy="6.0" font-weight="normal" stroke="#000" stroke-width="0.55">40</tspan></text>
<text x="0" y="0" font-size="32.6" font-weight="bold" transform="translate(1423.25,1487.5) rotate(-30)">Fe<tspan font-size="20.3" dy="6.0" font-weight="normal" stroke="#000" stroke-width="0.55">33</tspan><tspan dy="-6.0">Co</tspan><tspan font-size="20.3" dy="6.0" font-weight="normal" stroke="#000" stroke-width="0.55">33</tspan><tspan dy="-6.0">Ni</tspan><tspan font-size="20.3" dy="6.0" font-weight="normal" stroke="#000" stroke-width="0.55">33</tspan></text>
<text x="0" y="0" font-size="32.6" font-weight="bold" transform="translate(1499.85,1487.5) rotate(-30)">Fe<tspan font-size="20.3" dy="6.0" font-weight="normal" stroke="#000" stroke-width="0.55">40</tspan><tspan dy="-6.0">Co</tspan><tspan font-size="20.3" dy="6.0" font-weight="normal" stroke="#000" stroke-width="0.55">20</tspan><tspan dy="-6.0">Ni</tspan><tspan font-size="20.3" dy="6.0" font-weight="normal" stroke="#000" stroke-width="0.55">40</tspan></text>
<text x="0" y="0" font-size="32.6" font-weight="bold" transform="translate(1576.44,1487.5) rotate(-30)">Fe<tspan font-size="20.3" dy="6.0" font-weight="normal" stroke="#000" stroke-width="0.55">40</tspan><tspan dy="-6.0">Co</tspan><tspan font-size="20.3" dy="6.0" font-weight="normal" stroke="#000" stroke-width="0.55">50</tspan><tspan dy="-6.0">Ni</tspan><tspan font-size="20.3" dy="6.0" font-weight="normal" stroke="#000" stroke-width="0.55">10</tspan></text>
<text x="0" y="0" font-size="32.6" font-weight="bold" transform="translate(1653.03,1487.5) rotate(-30)">Fe<tspan font-size="20.3" dy="6.0" font-weight="normal" stroke="#000" stroke-width="0.55">50</tspan><tspan dy="-6.0">Co</tspan><tspan font-size="20.3" dy="6.0" font-weight="normal" stroke="#000" stroke-width="0.55">40</tspan><tspan dy="-6.0">Ni</tspan><tspan font-size="20.3" dy="6.0" font-weight="normal" stroke="#000" stroke-width="0.55">10</tspan></text>
<text x="0" y="0" font-size="32.6" font-weight="bold" transform="translate(1729.62,1487.5) rotate(-30)">Fe<tspan font-size="20.3" dy="6.0" font-weight="normal" stroke="#000" stroke-width="0.55">54</tspan><tspan dy="-6.0">Co</tspan><tspan font-size="20.3" dy="6.0" font-weight="normal" stroke="#000" stroke-width="0.55">17</tspan><tspan dy="-6.0">Ni</tspan><tspan font-size="20.3" dy="6.0" font-weight="normal" stroke="#000" stroke-width="0.55">29</tspan></text>
<text x="0" y="0" font-size="32.6" font-weight="bold" transform="translate(1806.21,1487.5) rotate(-30)">Fe<tspan font-size="20.3" dy="6.0" font-weight="normal" stroke="#000" stroke-width="0.55">57</tspan><tspan dy="-6.0">Co</tspan><tspan font-size="20.3" dy="6.0" font-weight="normal" stroke="#000" stroke-width="0.55">29</tspan><tspan dy="-6.0">Ni</tspan><tspan font-size="20.3" dy="6.0" font-weight="normal" stroke="#000" stroke-width="0.55">14</tspan></text>
<text transform="translate(1545.2,1527) scale(0.982,1)" font-size="34.7" font-weight="bold" font-style="normal" text-anchor="middle">Composition</text>
<g transform="translate(1077.2,1156) rotate(-90)">
<text transform="translate(2.5,0) scale(0.9,1)" font-size="35" font-weight="bold" font-style="italic">H</text>
<text transform="translate(26.5,8.5)" font-size="23" font-weight="normal" font-style="italic" stroke="#000" stroke-width="0.9">c</text>
<text transform="translate(48.6,0) scale(0.97,1)" font-size="34" font-weight="bold" font-style="normal">(Oe)</text>
</g>
<text x="1043" y="840.3" font-size="34" font-weight="bold" font-style="normal" text-anchor="start">(d)</text>
</g>
</svg></body></html>
